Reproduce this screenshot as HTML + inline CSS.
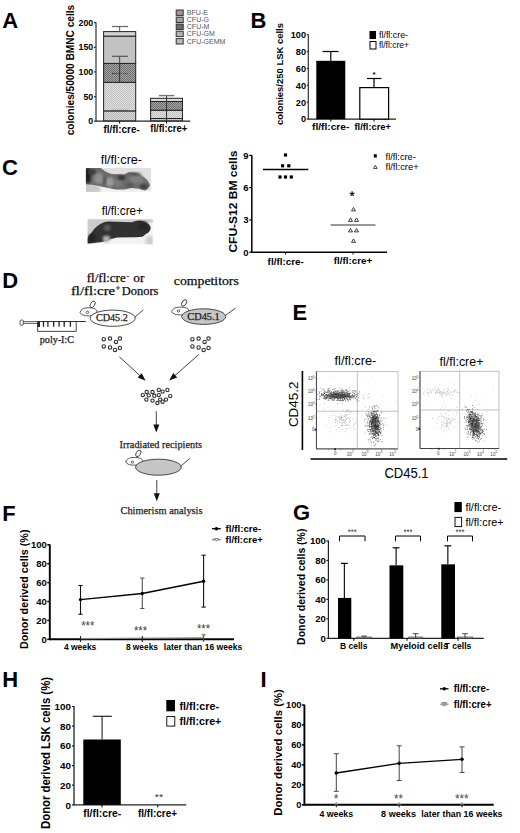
<!DOCTYPE html>
<html><head><meta charset="utf-8"><style>
html,body{margin:0;padding:0;background:#fff;}
body{width:520px;height:833px;overflow:hidden;font-family:"Liberation Sans",sans-serif;}
svg{display:block;}
text[font-family="Liberation Serif"]{stroke:#222;stroke-width:0.25px;}
</style></head><body>
<svg width="520" height="833" viewBox="0 0 520 833">
<rect width="520" height="833" fill="#fff"/>
<text x="2.2" y="27.6" font-family="Liberation Sans" font-size="22" font-weight="bold" text-anchor="start" fill="#000">A</text>
<text x="250.4" y="27.9" font-family="Liberation Sans" font-size="22" font-weight="bold" text-anchor="start" fill="#000">B</text>
<text x="2.0" y="175.0" font-family="Liberation Sans" font-size="22" font-weight="bold" text-anchor="start" fill="#000">C</text>
<text x="2.3" y="287.6" font-family="Liberation Sans" font-size="22" font-weight="bold" text-anchor="start" fill="#000">D</text>
<text x="292.4" y="319.9" font-family="Liberation Sans" font-size="22" font-weight="bold" text-anchor="start" fill="#000">E</text>
<text x="2.3" y="520.5" font-family="Liberation Sans" font-size="22" font-weight="bold" text-anchor="start" fill="#000">F</text>
<text x="293.0" y="520.3" font-family="Liberation Sans" font-size="22" font-weight="bold" text-anchor="start" fill="#000">G</text>
<text x="2.3" y="686.9" font-family="Liberation Sans" font-size="22" font-weight="bold" text-anchor="start" fill="#000">H</text>
<text x="260.6" y="686.9" font-family="Liberation Sans" font-size="22" font-weight="bold" text-anchor="start" fill="#000">I</text>
<text x="74.2" y="70" font-family="Liberation Sans" font-size="10" font-weight="bold" text-anchor="middle" fill="#000" textLength="130.5" lengthAdjust="spacingAndGlyphs" transform="rotate(-90 74.2 70)">colonies/50000 BMNC cells</text>
<line x1="96.0" y1="22.3" x2="96.0" y2="121.8" stroke="#333" stroke-width="1.2"/>
<line x1="96.0" y1="121.2" x2="190.2" y2="121.2" stroke="#222" stroke-width="1.2"/>
<line x1="94.0" y1="121.2" x2="96.0" y2="121.2" stroke="#333" stroke-width="1.2"/>
<text x="93.2" y="124.3" font-family="Liberation Sans" font-size="8.8" font-weight="bold" text-anchor="end" fill="#000">0</text>
<line x1="94.0" y1="96.575" x2="96.0" y2="96.575" stroke="#333" stroke-width="1.2"/>
<text x="93.2" y="99.675" font-family="Liberation Sans" font-size="8.8" font-weight="bold" text-anchor="end" fill="#000">50</text>
<line x1="94.0" y1="71.95" x2="96.0" y2="71.95" stroke="#333" stroke-width="1.2"/>
<text x="93.2" y="75.05" font-family="Liberation Sans" font-size="8.8" font-weight="bold" text-anchor="end" fill="#000">100</text>
<line x1="94.0" y1="47.325" x2="96.0" y2="47.325" stroke="#333" stroke-width="1.2"/>
<text x="93.2" y="50.425000000000004" font-family="Liberation Sans" font-size="8.8" font-weight="bold" text-anchor="end" fill="#000">150</text>
<line x1="94.0" y1="22.700000000000003" x2="96.0" y2="22.700000000000003" stroke="#333" stroke-width="1.2"/>
<text x="93.2" y="25.800000000000004" font-family="Liberation Sans" font-size="8.8" font-weight="bold" text-anchor="end" fill="#000">200</text>
<defs>
<pattern id="dotL" width="2" height="2" patternUnits="userSpaceOnUse"><rect width="2" height="2" fill="#e4e4e4"/><rect width="1" height="1" fill="#bcbcbc"/><rect x="1" y="1" width="1" height="1" fill="#bcbcbc"/></pattern>
<pattern id="dotD" width="2" height="2" patternUnits="userSpaceOnUse"><rect width="2" height="2" fill="#a4a4a4"/><rect width="1" height="1" fill="#6e6e6e"/><rect x="1" y="1" width="1" height="1" fill="#6e6e6e"/></pattern>
<pattern id="dotM" width="2" height="2" patternUnits="userSpaceOnUse"><rect width="2" height="2" fill="#dcdcdc"/><rect width="1" height="1" fill="#b4b4b4"/><rect x="1" y="1" width="1" height="1" fill="#b4b4b4"/></pattern>
<linearGradient id="sp1bg" x1="0" y1="0" x2="1" y2="0"><stop offset="0" stop-color="#cfcfcf"/><stop offset="1" stop-color="#ececec"/></linearGradient>
<linearGradient id="sp2bg" x1="0" y1="0" x2="1" y2="1"><stop offset="0" stop-color="#c4c4c4"/><stop offset="0.6" stop-color="#e4e4e4"/><stop offset="1" stop-color="#f6f6f6"/></linearGradient>
<filter id="bl1" x="-20%" y="-20%" width="140%" height="140%"><feGaussianBlur stdDeviation="0.8"/></filter>
<filter id="bl2" x="-20%" y="-20%" width="140%" height="140%"><feGaussianBlur stdDeviation="1.6"/></filter>
<filter id="bl05"><feGaussianBlur stdDeviation="0.4"/></filter>
</defs>
<rect x="103.6" y="110.9" width="32.1" height="9.899999999999991" fill="url(#dotM)" stroke="#222" stroke-width="1"/>
<rect x="103.6" y="82.3" width="32.1" height="28.60000000000001" fill="url(#dotL)" stroke="#222" stroke-width="1"/>
<rect x="103.6" y="63.4" width="32.1" height="18.9" fill="url(#dotD)" stroke="#222" stroke-width="1"/>
<rect x="103.6" y="36.1" width="32.1" height="27.299999999999997" fill="#c2c2c2" stroke="#222" stroke-width="1"/>
<rect x="103.6" y="31.6" width="32.1" height="4.5" fill="#d2d2d2" stroke="#222" stroke-width="1"/>
<line x1="119.64999999999999" y1="26.5" x2="119.64999999999999" y2="31.6" stroke="#555" stroke-width="1"/>
<line x1="112" y1="26.5" x2="128" y2="26.5" stroke="#666" stroke-width="1.2"/>
<line x1="119.64999999999999" y1="56.3" x2="119.64999999999999" y2="63.4" stroke="#444" stroke-width="1"/>
<line x1="112" y1="56.3" x2="128" y2="56.3" stroke="#555" stroke-width="1.2"/>
<line x1="119.64999999999999" y1="63.4" x2="119.64999999999999" y2="82.3" stroke="#333" stroke-width="1"/>
<line x1="112" y1="73.5" x2="128" y2="73.5" stroke="#333" stroke-width="1.2" stroke-dasharray="1.2 1"/>
<line x1="112" y1="110.4" x2="128" y2="110.4" stroke="#555" stroke-width="1"/>
<rect x="150.6" y="118.5" width="31.9" height="2.299999999999997" fill="url(#dotM)" stroke="#222" stroke-width="1"/>
<rect x="150.6" y="110.2" width="31.9" height="8.299999999999997" fill="url(#dotL)" stroke="#222" stroke-width="1"/>
<rect x="150.6" y="101.5" width="31.9" height="8.700000000000003" fill="url(#dotD)" stroke="#222" stroke-width="1"/>
<rect x="150.6" y="98.3" width="31.9" height="3.200000000000003" fill="#dcdcdc" stroke="#222" stroke-width="1"/>
<line x1="166.54999999999998" y1="95.6" x2="166.54999999999998" y2="121" stroke="#333" stroke-width="1"/>
<line x1="159" y1="95.6" x2="174.4" y2="95.6" stroke="#777" stroke-width="1.4"/>
<line x1="166.54999999999998" y1="121" x2="166.54999999999998" y2="123.5" stroke="#000" stroke-width="1"/>
<line x1="119.64999999999999" y1="121" x2="119.64999999999999" y2="123.5" stroke="#000" stroke-width="1"/>
<text x="103.5" y="132.6" font-family="Liberation Sans" font-size="10.4" font-weight="bold" text-anchor="start" fill="#000" textLength="36.2" lengthAdjust="spacingAndGlyphs">fl/fl:cre-</text>
<text x="150.3" y="132.0" font-family="Liberation Sans" font-size="10.4" font-weight="bold" text-anchor="start" fill="#000" textLength="37.0" lengthAdjust="spacingAndGlyphs">fl/fl:cre+</text>
<rect x="176.2" y="10.0" width="7" height="5.4" fill="#9a9a9a" stroke="#333" stroke-width="1"/>
<text x="186.8" y="15.1" font-family="Liberation Sans" font-size="7" font-weight="normal" text-anchor="start" fill="#555">BFU-E</text>
<rect x="176.2" y="17.099999999999998" width="7" height="5.4" fill="#a4a4a4" stroke="#333" stroke-width="1"/>
<text x="186.8" y="22.2" font-family="Liberation Sans" font-size="7" font-weight="normal" text-anchor="start" fill="#555">CFU-G</text>
<rect x="176.2" y="24.099999999999998" width="7" height="5.4" fill="#6a6a6a" stroke="#333" stroke-width="1"/>
<text x="186.8" y="29.2" font-family="Liberation Sans" font-size="7" font-weight="normal" text-anchor="start" fill="#555">CFU-M</text>
<rect x="176.2" y="31.199999999999996" width="7" height="5.4" fill="#b4b4b4" stroke="#333" stroke-width="1"/>
<text x="186.8" y="36.3" font-family="Liberation Sans" font-size="7" font-weight="normal" text-anchor="start" fill="#555">CFU-GM</text>
<rect x="176.2" y="38.6" width="7" height="5.4" fill="#bcbcbc" stroke="#333" stroke-width="1"/>
<text x="186.8" y="43.7" font-family="Liberation Sans" font-size="7" font-weight="normal" text-anchor="start" fill="#555">CFU-GEMM</text>
<text x="282.7" y="74" font-family="Liberation Sans" font-size="9.8" font-weight="bold" text-anchor="middle" fill="#000" textLength="102" lengthAdjust="spacingAndGlyphs" transform="rotate(-90 282.7 74)">colonies/250 LSK cells</text>
<line x1="308.3" y1="34.4" x2="308.3" y2="119.6" stroke="#222" stroke-width="1.1"/>
<line x1="308.3" y1="119.1" x2="396" y2="119.1" stroke="#222" stroke-width="1.2"/>
<line x1="306.8" y1="119.1" x2="308.3" y2="119.1" stroke="#222" stroke-width="1.1"/>
<text x="306.1" y="122.39999999999999" font-family="Liberation Sans" font-size="9.2" font-weight="bold" text-anchor="end" fill="#000">0</text>
<line x1="306.8" y1="102.19999999999999" x2="308.3" y2="102.19999999999999" stroke="#222" stroke-width="1.1"/>
<text x="306.1" y="105.49999999999999" font-family="Liberation Sans" font-size="9.2" font-weight="bold" text-anchor="end" fill="#000">20</text>
<line x1="306.8" y1="85.3" x2="308.3" y2="85.3" stroke="#222" stroke-width="1.1"/>
<text x="306.1" y="88.6" font-family="Liberation Sans" font-size="9.2" font-weight="bold" text-anchor="end" fill="#000">40</text>
<line x1="306.8" y1="68.4" x2="308.3" y2="68.4" stroke="#222" stroke-width="1.1"/>
<text x="306.1" y="71.7" font-family="Liberation Sans" font-size="9.2" font-weight="bold" text-anchor="end" fill="#000">60</text>
<line x1="306.8" y1="51.5" x2="308.3" y2="51.5" stroke="#222" stroke-width="1.1"/>
<text x="306.1" y="54.8" font-family="Liberation Sans" font-size="9.2" font-weight="bold" text-anchor="end" fill="#000">80</text>
<line x1="306.8" y1="34.599999999999994" x2="308.3" y2="34.599999999999994" stroke="#222" stroke-width="1.1"/>
<text x="306.1" y="37.89999999999999" font-family="Liberation Sans" font-size="9.2" font-weight="bold" text-anchor="end" fill="#000">100</text>
<rect x="316.3" y="60.8" width="29" height="58.3" fill="#000" stroke="none" stroke-width="1"/>
<line x1="330.8" y1="51.5" x2="330.8" y2="60.8" stroke="#000" stroke-width="1.2"/>
<line x1="322.5" y1="51.5" x2="338.5" y2="51.5" stroke="#000" stroke-width="1.2"/>
<rect x="359.8" y="87.6" width="28.8" height="31.5" fill="#fff" stroke="#000" stroke-width="1.2"/>
<line x1="374" y1="78.5" x2="374" y2="87.6" stroke="#000" stroke-width="1.2"/>
<line x1="367" y1="78.5" x2="381.5" y2="78.5" stroke="#000" stroke-width="1.2"/>
<text x="374" y="76.5" font-family="Liberation Sans" font-size="8" font-weight="bold" text-anchor="middle" fill="#000">*</text>
<line x1="330.8" y1="119.1" x2="330.8" y2="121.6" stroke="#000" stroke-width="1"/>
<line x1="374" y1="119.1" x2="374" y2="121.6" stroke="#000" stroke-width="1"/>
<text x="312.0" y="130.2" font-family="Liberation Sans" font-size="9.6" font-weight="bold" text-anchor="start" fill="#000" textLength="37.3" lengthAdjust="spacingAndGlyphs">fl/fl:cre-</text>
<text x="354.5" y="130.2" font-family="Liberation Sans" font-size="9.6" font-weight="bold" text-anchor="start" fill="#000" textLength="36.3" lengthAdjust="spacingAndGlyphs">fl/fl:cre+</text>
<rect x="369.5" y="31" width="6.5" height="8" fill="#000" stroke="none" stroke-width="1"/>
<rect x="370" y="41.5" width="6" height="7.5" fill="#fff" stroke="#000" stroke-width="1"/>
<text x="379" y="38.3" font-family="Liberation Sans" font-size="9.2" font-weight="normal" text-anchor="start" fill="#000" textLength="29" lengthAdjust="spacingAndGlyphs">fl/fl:cre-</text>
<text x="379" y="48.3" font-family="Liberation Sans" font-size="9.2" font-weight="normal" text-anchor="start" fill="#000" textLength="30" lengthAdjust="spacingAndGlyphs">fl/fl:cre+</text>
<text x="121.4" y="164.2" font-family="Liberation Sans" font-size="12.4" font-weight="normal" text-anchor="middle" fill="#000" textLength="41.2" lengthAdjust="spacingAndGlyphs">fl/fl:cre-</text>
<text x="122.3" y="215.4" font-family="Liberation Sans" font-size="12.4" font-weight="normal" text-anchor="middle" fill="#000" textLength="41.3" lengthAdjust="spacingAndGlyphs">fl/fl:cre+</text>
<clipPath id="cl1"><rect x="85.9" y="167.9" width="65.5" height="24.2"/></clipPath><clipPath id="cl2"><rect x="87.6" y="219.2" width="65.2" height="25.4"/></clipPath>
<g clip-path="url(#cl1)">
<rect x="85.9" y="167.9" width="65.5" height="24.2" fill="#e0e0e0" stroke="none" stroke-width="1"/>
<path d="M84,183 Q100,185 112,189 Q130,190 153,189 L153,194 L84,194 Z" fill="#f2f2f2" stroke="none" stroke-width="1" filter="url(#bl1)"/>
<path d="M84,182 Q92,184 100,186.5 L100,193 L84,193 Z" fill="#c8c8c8" stroke="none" stroke-width="1" filter="url(#bl2)"/>
<path d="M85,167 L99,167 Q103,169.5 105,171.2 Q109,173.2 112,174 L124,174.6 Q126,173 128.3,172.3 Q132,172 135.2,172.7 Q139,174 141.4,175.8 Q145,178 146.8,179.6 Q149,182 150,185 Q149.5,187 148.3,187.5 Q147,190 145.2,190.4 Q142,189.8 139,188.8 L131.4,188 Q127,189 123.7,189.6 L116,189.6 L113,188.9 Q109,188 104.8,187.2 L97.8,185.8 Q92,184.5 85,184 Z" fill="#6c6c6c" stroke="none" stroke-width="1" filter="url(#bl05)"/>
<ellipse cx="87.8" cy="175.5" rx="3.2" ry="8" fill="#1e1e1e" stroke="none" stroke-width="1" filter="url(#bl1)"/>
<ellipse cx="92" cy="172" rx="4" ry="3" fill="#3a3a3a" stroke="none" stroke-width="1" filter="url(#bl1)"/>
<ellipse cx="99" cy="178.5" rx="5" ry="5.5" fill="#8e8e8e" stroke="none" stroke-width="1" filter="url(#bl1)"/>
<ellipse cx="110" cy="182" rx="4.2" ry="4.8" fill="#989898" stroke="none" stroke-width="1" filter="url(#bl1)"/>
<ellipse cx="104.5" cy="180" rx="1.2" ry="5" fill="#505050" stroke="none" stroke-width="1" filter="url(#bl1)"/>
<ellipse cx="118" cy="183" rx="3.5" ry="4.5" fill="#7a7a7a" stroke="none" stroke-width="1" filter="url(#bl1)"/>
<ellipse cx="121.5" cy="177.5" rx="4" ry="2.6" fill="#383838" stroke="none" stroke-width="1" filter="url(#bl1)"/>
<ellipse cx="137" cy="179" rx="7" ry="4.5" fill="#808080" stroke="none" stroke-width="1" filter="url(#bl2)"/>
<ellipse cx="135" cy="174" rx="6" ry="1.5" fill="#505050" stroke="none" stroke-width="1" filter="url(#bl1)"/>
<ellipse cx="144" cy="186.5" rx="4" ry="2.5" fill="#404040" stroke="none" stroke-width="1" filter="url(#bl1)"/>
<ellipse cx="130" cy="185" rx="4" ry="2" fill="#555" stroke="none" stroke-width="1" filter="url(#bl1)"/>
</g>
<g clip-path="url(#cl2)">
<rect x="87.6" y="219.2" width="65.2" height="25.4" fill="#f4f4f4" stroke="none" stroke-width="1"/>
<path d="M87,219 L153,219 L153,222.5 L105,222.5 Q95,226 87,238 Z" fill="#cccccc" stroke="none" stroke-width="1" filter="url(#bl05)"/>
<ellipse cx="150" cy="241" rx="5" ry="5" fill="#cfcfcf" stroke="none" stroke-width="1" filter="url(#bl2)"/>
<path d="M87,239 Q89,235 91.9,231.9 Q94,228.5 96.8,226.4 Q99.5,224.2 102.3,222.9 Q105,221.6 107.9,221.5 L132.4,222.2 Q134,221.2 135.5,221 Q138,220.3 140,220.6 Q144,221 146.2,222.5 Q149,224 150.5,226.5 Q151.3,229 149.3,231.4 Q148,233 146.2,233.7 Q144,235.8 142.4,236.8 L136.2,237.2 L117,237.5 L111.3,238.9 Q108,240 102.3,242 L95.4,242.7 L87,243.8 Z" fill="#333333" stroke="none" stroke-width="1" filter="url(#bl05)"/>
<ellipse cx="92" cy="238" rx="4" ry="4" fill="#222" stroke="none" stroke-width="1" filter="url(#bl1)"/>
<ellipse cx="106.5" cy="238.8" rx="3.8" ry="3.4" fill="#b0b0b0" stroke="none" stroke-width="1" filter="url(#bl1)"/>
<ellipse cx="107.2" cy="227.8" rx="3.5" ry="3" fill="#5c5c5c" stroke="none" stroke-width="1" filter="url(#bl1)"/>
<ellipse cx="143" cy="226" rx="5.5" ry="4.5" fill="#262626" stroke="none" stroke-width="1" filter="url(#bl1)"/>
</g>
<text x="237.5" y="201.6" font-family="Liberation Sans" font-size="11.3" font-weight="bold" text-anchor="middle" fill="#000" textLength="102" lengthAdjust="spacingAndGlyphs" transform="rotate(-90 237.5 201.6)">CFU-S12 BM cells</text>
<line x1="251.8" y1="154.9" x2="251.8" y2="252.89999999999998" stroke="#000" stroke-width="1.5"/>
<line x1="251.8" y1="252.2" x2="387" y2="252.2" stroke="#000" stroke-width="1.5"/>
<line x1="249.3" y1="252.2" x2="251.8" y2="252.2" stroke="#000" stroke-width="1.3"/>
<text x="248.6" y="255.6" font-family="Liberation Sans" font-size="9.5" font-weight="bold" text-anchor="end" fill="#000">0</text>
<line x1="249.3" y1="219.93333333333334" x2="251.8" y2="219.93333333333334" stroke="#000" stroke-width="1.3"/>
<text x="248.6" y="223.33333333333334" font-family="Liberation Sans" font-size="9.5" font-weight="bold" text-anchor="end" fill="#000">3</text>
<line x1="249.3" y1="187.66666666666669" x2="251.8" y2="187.66666666666669" stroke="#000" stroke-width="1.3"/>
<text x="248.6" y="191.0666666666667" font-family="Liberation Sans" font-size="9.5" font-weight="bold" text-anchor="end" fill="#000">6</text>
<line x1="249.3" y1="155.4" x2="251.8" y2="155.4" stroke="#000" stroke-width="1.3"/>
<text x="248.6" y="158.8" font-family="Liberation Sans" font-size="9.5" font-weight="bold" text-anchor="end" fill="#000">9</text>
<rect x="283.9" y="153.4" width="3.2" height="3.2" fill="#000" stroke="none" stroke-width="1"/>
<rect x="281.0" y="164.20000000000002" width="3.2" height="3.2" fill="#000" stroke="none" stroke-width="1"/>
<rect x="287.2" y="164.20000000000002" width="3.2" height="3.2" fill="#000" stroke="none" stroke-width="1"/>
<rect x="278.4" y="175.4" width="3.2" height="3.2" fill="#000" stroke="none" stroke-width="1"/>
<rect x="283.9" y="175.4" width="3.2" height="3.2" fill="#000" stroke="none" stroke-width="1"/>
<rect x="289.7" y="175.4" width="3.2" height="3.2" fill="#000" stroke="none" stroke-width="1"/>
<line x1="263" y1="169.5" x2="308.3" y2="169.5" stroke="#000" stroke-width="1.3"/>
<line x1="330.5" y1="225" x2="375.5" y2="225" stroke="#777" stroke-width="1.3"/>
<path d="M353.5,207.412 L355.5,210.892 L351.5,210.892 Z" fill="none" stroke="#333" stroke-width="0.95"/>
<path d="M350.5,217.912 L352.5,221.392 L348.5,221.392 Z" fill="none" stroke="#333" stroke-width="0.95"/>
<path d="M356.5,217.912 L358.5,221.392 L354.5,221.392 Z" fill="none" stroke="#333" stroke-width="0.95"/>
<path d="M350.5,228.412 L352.5,231.892 L348.5,231.892 Z" fill="none" stroke="#333" stroke-width="0.95"/>
<path d="M356.5,228.412 L358.5,231.892 L354.5,231.892 Z" fill="none" stroke="#333" stroke-width="0.95"/>
<path d="M353.5,238.912 L355.5,242.392 L351.5,242.392 Z" fill="none" stroke="#333" stroke-width="0.95"/>
<path d="M352.1,193.8 L352.10,191.20 M352.1,193.8 L354.57,193.00 M352.1,193.8 L353.63,195.90 M352.1,193.8 L350.57,195.90 M352.1,193.8 L349.63,193.00 " fill="none" stroke="#111" stroke-width="1.2"/>
<line x1="285.6" y1="252.2" x2="285.6" y2="254.5" stroke="#000" stroke-width="1"/>
<line x1="353" y1="252.2" x2="353" y2="254.5" stroke="#000" stroke-width="1"/>
<text x="267.6" y="264.6" font-family="Liberation Sans" font-size="9.5" font-weight="bold" text-anchor="start" fill="#000" textLength="36.3" lengthAdjust="spacingAndGlyphs">fl/fl:cre-</text>
<text x="333.8" y="264.4" font-family="Liberation Sans" font-size="9.5" font-weight="bold" text-anchor="start" fill="#000" textLength="38.5" lengthAdjust="spacingAndGlyphs">fl/fl:cre+</text>
<rect x="373.8" y="154.3" width="3" height="3.2" fill="#000" stroke="none" stroke-width="1"/>
<path d="M375.3,165.3208 L377.1,168.4528 L373.5,168.4528 Z" fill="none" stroke="#333" stroke-width="0.9"/>
<text x="385.6" y="159.8" font-family="Liberation Sans" font-size="9.8" font-weight="normal" text-anchor="start" fill="#000" textLength="30.2" lengthAdjust="spacingAndGlyphs">fl/fl:cre-</text>
<text x="385.6" y="169.9" font-family="Liberation Sans" font-size="9.8" font-weight="normal" text-anchor="start" fill="#000" textLength="33.0" lengthAdjust="spacingAndGlyphs">fl/fl:cre+</text>
<text x="86.8" y="281.5" font-family="Liberation Serif" font-size="12" font-weight="normal" text-anchor="start" fill="#000" textLength="38.9" lengthAdjust="spacingAndGlyphs">fl/fl:cre</text>
<line x1="126.6" y1="276.6" x2="129.3" y2="276.6" stroke="#222" stroke-width="0.8"/>
<text x="133.3" y="281.5" font-family="Liberation Serif" font-size="12" font-weight="normal" text-anchor="start" fill="#000" textLength="11.1" lengthAdjust="spacingAndGlyphs">or</text>
<text x="70.9" y="294.9" font-family="Liberation Serif" font-size="12" font-weight="normal" text-anchor="start" fill="#000" textLength="44.2" lengthAdjust="spacingAndGlyphs">fl/fl:cre</text>
<line x1="115.9" y1="287.9" x2="120.1" y2="287.9" stroke="#222" stroke-width="0.8"/>
<line x1="118" y1="285.8" x2="118" y2="290" stroke="#222" stroke-width="0.8"/>
<text x="121.7" y="294.9" font-family="Liberation Serif" font-size="12" font-weight="normal" text-anchor="start" fill="#000" textLength="36.7" lengthAdjust="spacingAndGlyphs">Donors</text>
<text x="173.8" y="284.6" font-family="Liberation Serif" font-size="13" font-weight="normal" text-anchor="start" fill="#000" textLength="65" lengthAdjust="spacingAndGlyphs">competitors</text>
<ellipse cx="92.6" cy="304.4" rx="2.1" ry="3.6" transform="rotate(32 92.6 304.4)" fill="#fff" stroke="#333" stroke-width="0.85"/>
<path d="M80.0,312.40000000000003 Q81.0,307.7 88.5,307.7 Q97.0,307.7 97.0,311.8 Q97.0,315.90000000000003 88.5,315.90000000000003 Q81.5,315.90000000000003 80.0,312.40000000000003 Z" fill="#fff" stroke="#333" stroke-width="0.8"/>
<circle cx="87.4" cy="312.4" r="1.2" fill="none" stroke="#333" stroke-width="0.75"/>
<ellipse cx="112.7" cy="318.2" rx="22.5" ry="8.1" fill="#fff" stroke="#333" stroke-width="0.9"/>
<line x1="135.2" y1="316.8" x2="143.3" y2="309.8" stroke="#333" stroke-width="0.9"/>
<text x="95.9" y="320.9" font-family="Liberation Serif" font-size="9.3" font-weight="normal" text-anchor="start" fill="#222" textLength="31.9" lengthAdjust="spacingAndGlyphs">CD45.2</text>
<ellipse cx="184.1" cy="302.9" rx="2.1" ry="3.6" transform="rotate(32 184.1 302.9)" fill="#fff" stroke="#333" stroke-width="0.85"/>
<path d="M171.7,311.6 Q172.7,307.1 180.2,307.1 Q188.7,307.1 188.7,311.0 Q188.7,314.9 180.2,314.9 Q173.2,314.9 171.7,311.6 Z" fill="#fff" stroke="#333" stroke-width="0.8"/>
<circle cx="178.5" cy="310.9" r="1.2" fill="none" stroke="#333" stroke-width="0.75"/>
<ellipse cx="203.7" cy="316.6" rx="22.0" ry="7.8" fill="#c6c6c6" stroke="#333" stroke-width="0.9"/>
<line x1="225.7" y1="315.2" x2="235.7" y2="308.1" stroke="#333" stroke-width="0.9"/>
<text x="187.3" y="319.5" font-family="Liberation Serif" font-size="9.3" font-weight="normal" text-anchor="start" fill="#222" textLength="32.5" lengthAdjust="spacingAndGlyphs">CD45.1</text>
<ellipse cx="138.3" cy="453.4" rx="2.1" ry="3.6" transform="rotate(32 138.3 453.4)" fill="#fff" stroke="#333" stroke-width="0.85"/>
<path d="M125.69999999999999,461.90000000000003 Q126.69999999999999,457.40000000000003 134.2,457.40000000000003 Q142.7,457.40000000000003 142.7,461.3 Q142.7,465.2 134.2,465.2 Q127.19999999999999,465.2 125.69999999999999,461.90000000000003 Z" fill="#fff" stroke="#333" stroke-width="0.8"/>
<circle cx="132.5" cy="462.1" r="1.2" fill="none" stroke="#333" stroke-width="0.75"/>
<ellipse cx="158.4" cy="467.2" rx="22.8" ry="8.0" fill="#c6c6c6" stroke="#333" stroke-width="0.9"/>
<line x1="180.5" y1="466.3" x2="189.7" y2="458.5" stroke="#333" stroke-width="0.9"/>
<rect x="20.1" y="320" width="3.2" height="5.2" fill="#fff" stroke="#333" stroke-width="0.8" rx="1"/>
<line x1="23.3" y1="321.6" x2="37.9" y2="321.6" stroke="#333" stroke-width="0.8"/>
<line x1="23.3" y1="323.4" x2="37.9" y2="323.4" stroke="#333" stroke-width="0.8"/>
<line x1="37.6" y1="321.5" x2="85.9" y2="321.5" stroke="#333" stroke-width="1.0"/>
<path d="M37.6,321.5 L37.6,331.4 L76.2,331.4 L76.2,321.5" fill="none" stroke="#333" stroke-width="0.9"/>
<rect x="37.6" y="321.5" width="2.4" height="5.5" fill="#222" stroke="none" stroke-width="1"/>
<line x1="43.5" y1="321.5" x2="43.5" y2="326.8" stroke="#222" stroke-width="1.3"/>
<line x1="47.9" y1="321.5" x2="47.9" y2="326.8" stroke="#222" stroke-width="1.3"/>
<line x1="53.7" y1="321.5" x2="53.7" y2="326.8" stroke="#222" stroke-width="1.3"/>
<line x1="59.1" y1="321.5" x2="59.1" y2="326.8" stroke="#222" stroke-width="1.3"/>
<line x1="64.2" y1="321.5" x2="64.2" y2="326.8" stroke="#222" stroke-width="1.3"/>
<line x1="70.4" y1="321.5" x2="70.4" y2="326.8" stroke="#222" stroke-width="1.3"/>
<text x="39.8" y="343.3" font-family="Liberation Serif" font-size="9.8" font-weight="normal" text-anchor="start" fill="#222" textLength="34.2" lengthAdjust="spacingAndGlyphs">poly-I:C</text>
<circle cx="103.8" cy="339.2" r="1.7" fill="none" stroke="#333" stroke-width="1.1"/>
<circle cx="110" cy="338.6" r="1.7" fill="none" stroke="#333" stroke-width="1.1"/>
<circle cx="116" cy="341.9" r="1.7" fill="none" stroke="#333" stroke-width="1.1"/>
<circle cx="119.9" cy="338.6" r="1.7" fill="none" stroke="#333" stroke-width="1.1"/>
<circle cx="103.8" cy="346.4" r="1.7" fill="none" stroke="#333" stroke-width="1.1"/>
<circle cx="110" cy="347.5" r="1.7" fill="none" stroke="#333" stroke-width="1.1"/>
<circle cx="115" cy="349.9" r="1.7" fill="none" stroke="#333" stroke-width="1.1"/>
<circle cx="119.9" cy="348" r="1.7" fill="none" stroke="#333" stroke-width="1.1"/>
<circle cx="192.39999999999998" cy="339.2" r="1.7" fill="none" stroke="#333" stroke-width="1.1"/>
<circle cx="198.6" cy="338.6" r="1.7" fill="none" stroke="#333" stroke-width="1.1"/>
<circle cx="204.6" cy="341.9" r="1.7" fill="none" stroke="#333" stroke-width="1.1"/>
<circle cx="208.5" cy="338.6" r="1.7" fill="none" stroke="#333" stroke-width="1.1"/>
<circle cx="192.39999999999998" cy="346.4" r="1.7" fill="none" stroke="#333" stroke-width="1.1"/>
<circle cx="198.6" cy="347.5" r="1.7" fill="none" stroke="#333" stroke-width="1.1"/>
<circle cx="203.6" cy="349.9" r="1.7" fill="none" stroke="#333" stroke-width="1.1"/>
<circle cx="208.5" cy="348" r="1.7" fill="none" stroke="#333" stroke-width="1.1"/>
<circle cx="142.8" cy="395.1" r="1.65" fill="none" stroke="#333" stroke-width="1.1"/>
<circle cx="146.7" cy="392" r="1.65" fill="none" stroke="#333" stroke-width="1.1"/>
<circle cx="148.7" cy="395.4" r="1.65" fill="none" stroke="#333" stroke-width="1.1"/>
<circle cx="146.3" cy="399.6" r="1.65" fill="none" stroke="#333" stroke-width="1.1"/>
<circle cx="152.5" cy="392" r="1.65" fill="none" stroke="#333" stroke-width="1.1"/>
<circle cx="154.3" cy="395.8" r="1.65" fill="none" stroke="#333" stroke-width="1.1"/>
<circle cx="152.5" cy="400.6" r="1.65" fill="none" stroke="#333" stroke-width="1.1"/>
<circle cx="158.8" cy="389.9" r="1.65" fill="none" stroke="#333" stroke-width="1.1"/>
<circle cx="158.8" cy="395.1" r="1.65" fill="none" stroke="#333" stroke-width="1.1"/>
<circle cx="162.6" cy="391.6" r="1.65" fill="none" stroke="#333" stroke-width="1.1"/>
<circle cx="167.4" cy="389.9" r="1.65" fill="none" stroke="#333" stroke-width="1.1"/>
<circle cx="170.2" cy="396.1" r="1.65" fill="none" stroke="#333" stroke-width="1.1"/>
<circle cx="160.2" cy="399.6" r="1.65" fill="none" stroke="#333" stroke-width="1.1"/>
<circle cx="162.6" cy="401.7" r="1.65" fill="none" stroke="#333" stroke-width="1.1"/>
<circle cx="166" cy="399.6" r="1.65" fill="none" stroke="#333" stroke-width="1.1"/>
<circle cx="157.4" cy="403" r="1.65" fill="none" stroke="#333" stroke-width="1.1"/>
<line x1="119.4" y1="356.8" x2="140.43828575580537" y2="376.07171214272245" stroke="#444" stroke-width="1.0"/>
<path d="M145.6,380.8 L137.67448892494434,377.6084056963376 L141.72730708832506,373.1840792013137 Z" fill="#111" stroke="none" stroke-width="1"/>
<line x1="198.8" y1="354.5" x2="174.450417621245" y2="375.97040878667246" stroke="#444" stroke-width="1.0"/>
<path d="M169.2,380.6 L173.21636676142535,373.0588596328064 L177.1845878014204,377.55921759387354 Z" fill="#111" stroke="none" stroke-width="1"/>
<line x1="156.3" y1="411.3" x2="156.3" y2="425.5" stroke="#444" stroke-width="1.0"/>
<path d="M156.3,432.5 L153.3,424.5 L159.3,424.5 Z" fill="#111" stroke="none" stroke-width="1"/>
<line x1="156.8" y1="480" x2="156.8" y2="494.3" stroke="#444" stroke-width="1.0"/>
<path d="M156.8,501.3 L153.8,493.3 L159.8,493.3 Z" fill="#111" stroke="none" stroke-width="1"/>
<text x="160.8" y="447.5" font-family="Liberation Serif" font-size="11" font-weight="normal" text-anchor="middle" fill="#222" textLength="82.5" lengthAdjust="spacingAndGlyphs">Irradiated recipients</text>
<text x="161.5" y="514.3" font-family="Liberation Serif" font-size="11" font-weight="normal" text-anchor="middle" fill="#222" textLength="82" lengthAdjust="spacingAndGlyphs">Chimerism analysis</text>
<text x="355.4" y="364.5" font-family="Liberation Sans" font-size="12.2" font-weight="normal" text-anchor="middle" fill="#000" textLength="41.7" lengthAdjust="spacingAndGlyphs">fl/fl:cre-</text>
<text x="461.5" y="365.6" font-family="Liberation Sans" font-size="12.2" font-weight="normal" text-anchor="middle" fill="#000" textLength="43.9" lengthAdjust="spacingAndGlyphs">fl/fl:cre+</text>
<line x1="302.4" y1="371" x2="302.4" y2="450" stroke="#000" stroke-width="1.6"/>
<text x="298.4" y="404.3" font-family="Liberation Sans" font-size="13.6" font-weight="normal" text-anchor="middle" fill="#000" textLength="45.6" lengthAdjust="spacingAndGlyphs" transform="rotate(-90 298.4 404.3)">CD45.2</text>
<line x1="310.5" y1="459" x2="507.3" y2="459" stroke="#000" stroke-width="1.6"/>
<text x="384.4" y="477.8" font-family="Liberation Sans" font-size="14" font-weight="normal" text-anchor="start" fill="#000" textLength="44.2" lengthAdjust="spacingAndGlyphs">CD45.1</text>
<rect x="316.4" y="371.6" width="81.60000000000002" height="77.29999999999995" fill="#fff" stroke="#999" stroke-width="0.6"/>
<line x1="316.4" y1="371.6" x2="316.4" y2="448.9" stroke="#333" stroke-width="0.9"/>
<line x1="316.4" y1="448.9" x2="398" y2="448.9" stroke="#333" stroke-width="0.9"/>
<line x1="357.3" y1="371.6" x2="357.3" y2="448.9" stroke="#999" stroke-width="0.6"/>
<line x1="316.4" y1="411.2" x2="398" y2="411.2" stroke="#999" stroke-width="0.6"/>
<path d="M336.1,396.3h0.7v0.7h-0.7zM336.3,394.7h0.7v0.7h-0.7zM331.0,394.9h0.7v0.7h-0.7zM346.3,396.1h0.7v0.7h-0.7zM345.8,395.8h0.7v0.7h-0.7zM341.0,395.7h0.7v0.7h-0.7zM325.5,397.0h0.7v0.7h-0.7zM341.8,396.3h0.7v0.7h-0.7zM325.3,391.8h0.7v0.7h-0.7zM331.3,394.4h0.7v0.7h-0.7zM340.3,395.2h0.7v0.7h-0.7zM341.9,394.0h0.7v0.7h-0.7zM340.3,396.1h0.7v0.7h-0.7zM333.0,398.7h0.7v0.7h-0.7zM342.2,397.7h0.7v0.7h-0.7zM333.3,393.8h0.7v0.7h-0.7zM335.4,395.1h0.7v0.7h-0.7zM342.7,395.8h0.7v0.7h-0.7zM334.6,393.4h0.7v0.7h-0.7zM334.1,397.7h0.7v0.7h-0.7zM331.9,395.8h0.7v0.7h-0.7zM341.2,392.3h0.7v0.7h-0.7zM338.4,397.9h0.7v0.7h-0.7zM322.9,394.7h0.7v0.7h-0.7zM337.2,393.7h0.7v0.7h-0.7zM341.7,395.2h0.7v0.7h-0.7zM327.0,397.0h0.7v0.7h-0.7zM343.0,397.2h0.7v0.7h-0.7zM348.8,396.0h0.7v0.7h-0.7zM338.9,392.7h0.7v0.7h-0.7zM342.6,394.1h0.7v0.7h-0.7zM334.6,392.8h0.7v0.7h-0.7zM330.7,394.2h0.7v0.7h-0.7zM347.7,391.2h0.7v0.7h-0.7zM327.1,395.8h0.7v0.7h-0.7zM348.8,396.5h0.7v0.7h-0.7zM323.8,390.3h0.7v0.7h-0.7zM340.7,393.8h0.7v0.7h-0.7zM329.6,397.3h0.7v0.7h-0.7zM346.3,395.6h0.7v0.7h-0.7zM339.8,396.2h0.7v0.7h-0.7zM350.0,396.5h0.7v0.7h-0.7zM341.9,396.4h0.7v0.7h-0.7zM326.2,397.9h0.7v0.7h-0.7zM345.2,396.4h0.7v0.7h-0.7zM323.2,394.0h0.7v0.7h-0.7zM344.3,391.7h0.7v0.7h-0.7zM336.6,397.3h0.7v0.7h-0.7zM328.2,398.5h0.7v0.7h-0.7zM342.1,395.0h0.7v0.7h-0.7zM340.4,396.6h0.7v0.7h-0.7zM338.9,397.6h0.7v0.7h-0.7zM333.0,394.5h0.7v0.7h-0.7zM345.8,395.4h0.7v0.7h-0.7zM331.4,397.2h0.7v0.7h-0.7zM349.0,394.4h0.7v0.7h-0.7zM327.7,395.0h0.7v0.7h-0.7zM336.9,394.7h0.7v0.7h-0.7zM348.5,393.2h0.7v0.7h-0.7zM347.5,392.8h0.7v0.7h-0.7zM332.1,396.6h0.7v0.7h-0.7zM346.5,397.0h0.7v0.7h-0.7zM340.6,395.6h0.7v0.7h-0.7zM339.1,396.5h0.7v0.7h-0.7zM336.7,395.9h0.7v0.7h-0.7zM342.3,395.3h0.7v0.7h-0.7zM343.7,396.4h0.7v0.7h-0.7zM353.1,395.9h0.7v0.7h-0.7zM334.8,394.6h0.7v0.7h-0.7zM337.9,397.1h0.7v0.7h-0.7zM335.5,396.1h0.7v0.7h-0.7zM351.8,390.2h0.7v0.7h-0.7zM329.6,395.8h0.7v0.7h-0.7zM341.0,395.8h0.7v0.7h-0.7zM334.8,396.6h0.7v0.7h-0.7zM340.1,394.3h0.7v0.7h-0.7zM356.2,396.0h0.7v0.7h-0.7zM333.8,395.1h0.7v0.7h-0.7zM336.3,395.2h0.7v0.7h-0.7zM317.5,394.3h0.7v0.7h-0.7zM345.6,393.0h0.7v0.7h-0.7zM337.5,397.2h0.7v0.7h-0.7zM344.4,398.3h0.7v0.7h-0.7zM325.2,394.6h0.7v0.7h-0.7zM335.4,396.5h0.7v0.7h-0.7zM346.2,389.9h0.7v0.7h-0.7zM346.2,392.4h0.7v0.7h-0.7zM343.1,392.3h0.7v0.7h-0.7zM339.3,397.7h0.7v0.7h-0.7zM336.9,395.7h0.7v0.7h-0.7zM344.0,395.6h0.7v0.7h-0.7zM337.3,398.4h0.7v0.7h-0.7zM345.9,394.7h0.7v0.7h-0.7zM358.6,393.0h0.7v0.7h-0.7zM344.9,394.8h0.7v0.7h-0.7zM339.0,396.7h0.7v0.7h-0.7zM339.7,396.6h0.7v0.7h-0.7zM326.5,392.3h0.7v0.7h-0.7zM342.6,393.4h0.7v0.7h-0.7zM330.3,392.4h0.7v0.7h-0.7zM347.5,396.8h0.7v0.7h-0.7zM349.0,393.4h0.7v0.7h-0.7zM338.0,393.0h0.7v0.7h-0.7zM343.7,398.5h0.7v0.7h-0.7zM331.3,398.4h0.7v0.7h-0.7zM345.4,394.9h0.7v0.7h-0.7zM323.2,398.1h0.7v0.7h-0.7zM337.3,394.1h0.7v0.7h-0.7zM341.0,396.1h0.7v0.7h-0.7zM349.2,393.3h0.7v0.7h-0.7zM346.5,398.3h0.7v0.7h-0.7zM348.9,394.9h0.7v0.7h-0.7zM332.4,397.3h0.7v0.7h-0.7zM338.9,395.5h0.7v0.7h-0.7zM348.7,394.8h0.7v0.7h-0.7zM320.8,394.5h0.7v0.7h-0.7zM324.1,396.9h0.7v0.7h-0.7zM340.4,394.1h0.7v0.7h-0.7zM337.9,397.0h0.7v0.7h-0.7zM338.6,398.0h0.7v0.7h-0.7zM337.5,397.4h0.7v0.7h-0.7zM349.2,398.5h0.7v0.7h-0.7zM333.0,397.1h0.7v0.7h-0.7zM323.9,393.1h0.7v0.7h-0.7zM323.3,397.4h0.7v0.7h-0.7zM328.8,395.3h0.7v0.7h-0.7zM336.6,395.2h0.7v0.7h-0.7zM333.6,395.8h0.7v0.7h-0.7zM351.4,395.4h0.7v0.7h-0.7zM342.0,397.3h0.7v0.7h-0.7zM336.5,392.8h0.7v0.7h-0.7zM333.8,397.4h0.7v0.7h-0.7zM325.7,394.1h0.7v0.7h-0.7zM345.6,396.9h0.7v0.7h-0.7zM338.1,396.9h0.7v0.7h-0.7zM339.2,392.9h0.7v0.7h-0.7zM326.3,394.0h0.7v0.7h-0.7zM344.9,394.2h0.7v0.7h-0.7zM331.2,393.8h0.7v0.7h-0.7zM326.5,395.1h0.7v0.7h-0.7zM329.2,396.0h0.7v0.7h-0.7zM320.3,396.0h0.7v0.7h-0.7zM333.2,391.4h0.7v0.7h-0.7zM343.4,394.7h0.7v0.7h-0.7zM321.3,393.5h0.7v0.7h-0.7zM340.2,394.4h0.7v0.7h-0.7zM343.8,396.8h0.7v0.7h-0.7zM343.0,396.0h0.7v0.7h-0.7zM348.0,396.6h0.7v0.7h-0.7zM341.4,391.1h0.7v0.7h-0.7zM344.7,397.9h0.7v0.7h-0.7zM335.8,394.4h0.7v0.7h-0.7zM352.6,391.8h0.7v0.7h-0.7zM341.5,400.1h0.7v0.7h-0.7zM331.0,396.7h0.7v0.7h-0.7zM352.1,395.1h0.7v0.7h-0.7zM342.2,397.1h0.7v0.7h-0.7zM331.2,395.1h0.7v0.7h-0.7zM340.2,397.0h0.7v0.7h-0.7zM337.7,394.9h0.7v0.7h-0.7zM330.4,394.6h0.7v0.7h-0.7zM344.7,395.5h0.7v0.7h-0.7zM331.6,393.6h0.7v0.7h-0.7zM358.0,397.6h0.7v0.7h-0.7zM342.8,390.1h0.7v0.7h-0.7zM342.7,396.3h0.7v0.7h-0.7zM350.6,396.2h0.7v0.7h-0.7zM337.5,396.3h0.7v0.7h-0.7zM323.4,397.4h0.7v0.7h-0.7zM340.4,393.9h0.7v0.7h-0.7zM347.9,398.9h0.7v0.7h-0.7zM327.5,394.0h0.7v0.7h-0.7zM340.2,395.7h0.7v0.7h-0.7zM335.0,393.4h0.7v0.7h-0.7zM353.9,397.4h0.7v0.7h-0.7zM329.0,392.6h0.7v0.7h-0.7zM350.8,397.3h0.7v0.7h-0.7zM351.7,396.9h0.7v0.7h-0.7zM331.5,395.8h0.7v0.7h-0.7zM321.8,393.8h0.7v0.7h-0.7zM337.6,396.3h0.7v0.7h-0.7zM332.5,395.1h0.7v0.7h-0.7zM341.4,396.1h0.7v0.7h-0.7zM342.8,395.7h0.7v0.7h-0.7zM335.6,396.9h0.7v0.7h-0.7zM338.4,393.6h0.7v0.7h-0.7zM333.3,395.3h0.7v0.7h-0.7zM337.2,395.6h0.7v0.7h-0.7zM338.0,395.7h0.7v0.7h-0.7zM337.0,392.8h0.7v0.7h-0.7zM341.2,397.4h0.7v0.7h-0.7zM341.3,394.9h0.7v0.7h-0.7zM341.3,393.4h0.7v0.7h-0.7zM323.8,395.4h0.7v0.7h-0.7zM331.0,396.8h0.7v0.7h-0.7zM329.9,390.0h0.7v0.7h-0.7zM330.2,398.5h0.7v0.7h-0.7zM335.1,392.6h0.7v0.7h-0.7zM332.3,396.3h0.7v0.7h-0.7zM341.7,395.7h0.7v0.7h-0.7zM349.1,396.7h0.7v0.7h-0.7zM337.8,396.5h0.7v0.7h-0.7zM350.4,397.2h0.7v0.7h-0.7zM345.7,393.1h0.7v0.7h-0.7zM336.9,396.8h0.7v0.7h-0.7zM335.8,397.4h0.7v0.7h-0.7zM342.5,397.1h0.7v0.7h-0.7zM336.4,400.4h0.7v0.7h-0.7zM347.3,394.9h0.7v0.7h-0.7zM338.7,400.5h0.7v0.7h-0.7zM335.4,397.0h0.7v0.7h-0.7zM345.4,395.3h0.7v0.7h-0.7zM329.2,395.7h0.7v0.7h-0.7zM340.7,397.6h0.7v0.7h-0.7zM343.9,395.3h0.7v0.7h-0.7zM344.4,396.4h0.7v0.7h-0.7zM339.5,395.4h0.7v0.7h-0.7zM336.2,396.7h0.7v0.7h-0.7zM330.1,394.0h0.7v0.7h-0.7zM338.0,392.4h0.7v0.7h-0.7zM334.7,391.3h0.7v0.7h-0.7zM332.9,396.4h0.7v0.7h-0.7zM342.2,395.2h0.7v0.7h-0.7zM336.3,392.5h0.7v0.7h-0.7zM351.7,396.3h0.7v0.7h-0.7zM346.2,393.5h0.7v0.7h-0.7zM336.6,391.7h0.7v0.7h-0.7zM343.9,397.2h0.7v0.7h-0.7zM323.8,395.2h0.7v0.7h-0.7zM342.7,391.8h0.7v0.7h-0.7zM324.3,393.2h0.7v0.7h-0.7zM333.3,392.5h0.7v0.7h-0.7zM338.2,395.8h0.7v0.7h-0.7zM342.8,396.7h0.7v0.7h-0.7zM349.3,397.6h0.7v0.7h-0.7zM328.2,394.3h0.7v0.7h-0.7zM330.0,393.1h0.7v0.7h-0.7zM337.4,395.3h0.7v0.7h-0.7zM341.7,392.1h0.7v0.7h-0.7zM328.7,395.3h0.7v0.7h-0.7zM336.5,394.7h0.7v0.7h-0.7zM337.5,393.8h0.7v0.7h-0.7zM343.3,396.0h0.7v0.7h-0.7zM337.3,394.0h0.7v0.7h-0.7zM336.7,389.9h0.7v0.7h-0.7zM330.6,395.4h0.7v0.7h-0.7zM326.7,395.7h0.7v0.7h-0.7zM339.1,392.5h0.7v0.7h-0.7zM336.1,394.7h0.7v0.7h-0.7zM341.4,396.5h0.7v0.7h-0.7zM337.7,393.6h0.7v0.7h-0.7zM336.9,395.2h0.7v0.7h-0.7zM343.5,395.9h0.7v0.7h-0.7zM332.6,392.6h0.7v0.7h-0.7zM335.2,393.8h0.7v0.7h-0.7zM329.7,395.1h0.7v0.7h-0.7zM334.3,395.5h0.7v0.7h-0.7zM341.9,394.5h0.7v0.7h-0.7zM355.4,394.7h0.7v0.7h-0.7zM346.3,395.5h0.7v0.7h-0.7zM346.4,390.5h0.7v0.7h-0.7zM332.4,395.8h0.7v0.7h-0.7zM342.5,400.0h0.7v0.7h-0.7zM340.4,397.9h0.7v0.7h-0.7zM343.7,397.2h0.7v0.7h-0.7zM341.8,395.0h0.7v0.7h-0.7zM341.8,393.1h0.7v0.7h-0.7zM346.9,393.3h0.7v0.7h-0.7zM339.9,399.5h0.7v0.7h-0.7zM336.3,395.3h0.7v0.7h-0.7zM346.7,395.4h0.7v0.7h-0.7zM331.9,395.8h0.7v0.7h-0.7zM342.4,396.7h0.7v0.7h-0.7zM332.2,398.8h0.7v0.7h-0.7zM350.5,395.3h0.7v0.7h-0.7zM340.0,394.4h0.7v0.7h-0.7zM348.6,393.9h0.7v0.7h-0.7zM343.1,394.3h0.7v0.7h-0.7zM332.8,396.7h0.7v0.7h-0.7zM348.0,395.3h0.7v0.7h-0.7zM332.9,396.9h0.7v0.7h-0.7zM337.6,395.9h0.7v0.7h-0.7zM349.4,397.6h0.7v0.7h-0.7zM334.1,399.9h0.7v0.7h-0.7zM338.0,396.9h0.7v0.7h-0.7zM333.1,395.2h0.7v0.7h-0.7zM324.9,398.9h0.7v0.7h-0.7zM348.2,392.9h0.7v0.7h-0.7zM326.7,392.1h0.7v0.7h-0.7zM346.8,394.4h0.7v0.7h-0.7zM337.5,394.7h0.7v0.7h-0.7zM337.1,393.1h0.7v0.7h-0.7zM338.2,392.4h0.7v0.7h-0.7zM337.5,395.9h0.7v0.7h-0.7zM341.5,394.8h0.7v0.7h-0.7zM331.2,395.6h0.7v0.7h-0.7zM334.4,398.4h0.7v0.7h-0.7zM343.8,395.1h0.7v0.7h-0.7zM334.5,393.9h0.7v0.7h-0.7zM331.0,394.6h0.7v0.7h-0.7zM340.2,396.3h0.7v0.7h-0.7zM342.3,399.5h0.7v0.7h-0.7zM332.7,395.3h0.7v0.7h-0.7zM359.0,391.6h0.7v0.7h-0.7zM334.1,395.6h0.7v0.7h-0.7zM339.2,396.1h0.7v0.7h-0.7zM336.2,396.0h0.7v0.7h-0.7zM338.4,396.8h0.7v0.7h-0.7zM323.8,393.5h0.7v0.7h-0.7zM338.0,393.2h0.7v0.7h-0.7zM330.2,396.6h0.7v0.7h-0.7zM333.1,396.6h0.7v0.7h-0.7zM343.6,395.9h0.7v0.7h-0.7zM341.8,395.1h0.7v0.7h-0.7zM327.4,395.2h0.7v0.7h-0.7zM341.4,394.2h0.7v0.7h-0.7zM337.3,396.8h0.7v0.7h-0.7zM331.4,396.6h0.7v0.7h-0.7zM352.0,394.2h0.7v0.7h-0.7zM339.1,395.0h0.7v0.7h-0.7zM349.6,395.9h0.7v0.7h-0.7zM344.7,393.9h0.7v0.7h-0.7zM337.9,395.3h0.7v0.7h-0.7zM324.7,398.2h0.7v0.7h-0.7zM344.7,391.8h0.7v0.7h-0.7zM343.6,395.0h0.7v0.7h-0.7zM341.4,396.0h0.7v0.7h-0.7zM326.8,394.9h0.7v0.7h-0.7zM349.2,394.2h0.7v0.7h-0.7zM330.3,392.6h0.7v0.7h-0.7zM328.8,396.0h0.7v0.7h-0.7zM350.7,396.2h0.7v0.7h-0.7zM339.8,399.8h0.7v0.7h-0.7zM334.1,394.0h0.7v0.7h-0.7zM342.0,396.4h0.7v0.7h-0.7zM330.4,393.0h0.7v0.7h-0.7zM340.2,395.8h0.7v0.7h-0.7zM328.2,394.9h0.7v0.7h-0.7zM333.9,396.2h0.7v0.7h-0.7zM337.1,395.1h0.7v0.7h-0.7zM335.3,397.4h0.7v0.7h-0.7zM348.4,394.6h0.7v0.7h-0.7zM344.3,393.8h0.7v0.7h-0.7zM338.5,396.8h0.7v0.7h-0.7zM349.4,394.5h0.7v0.7h-0.7zM337.4,395.7h0.7v0.7h-0.7zM326.8,395.3h0.7v0.7h-0.7zM332.9,396.0h0.7v0.7h-0.7zM329.5,391.3h0.7v0.7h-0.7zM338.3,395.8h0.7v0.7h-0.7zM333.9,397.1h0.7v0.7h-0.7zM336.0,394.1h0.7v0.7h-0.7zM341.6,392.2h0.7v0.7h-0.7zM332.9,395.3h0.7v0.7h-0.7zM344.4,395.0h0.7v0.7h-0.7zM340.3,394.0h0.7v0.7h-0.7zM340.3,398.6h0.7v0.7h-0.7zM332.9,400.0h0.7v0.7h-0.7zM333.2,395.3h0.7v0.7h-0.7zM339.3,397.3h0.7v0.7h-0.7zM328.7,391.1h0.7v0.7h-0.7zM342.5,396.9h0.7v0.7h-0.7zM342.7,400.6h0.7v0.7h-0.7zM339.5,395.8h0.7v0.7h-0.7zM345.0,396.0h0.7v0.7h-0.7zM350.5,392.8h0.7v0.7h-0.7zM335.2,388.4h0.7v0.7h-0.7zM344.1,394.6h0.7v0.7h-0.7zM344.9,399.6h0.7v0.7h-0.7zM338.0,394.8h0.7v0.7h-0.7zM334.3,393.6h0.7v0.7h-0.7zM333.3,396.6h0.7v0.7h-0.7zM338.3,395.4h0.7v0.7h-0.7zM336.7,397.1h0.7v0.7h-0.7zM341.7,395.0h0.7v0.7h-0.7zM343.0,395.0h0.7v0.7h-0.7zM329.4,398.2h0.7v0.7h-0.7zM341.5,393.4h0.7v0.7h-0.7zM346.1,396.0h0.7v0.7h-0.7zM326.3,398.5h0.7v0.7h-0.7zM340.5,397.1h0.7v0.7h-0.7zM339.5,395.0h0.7v0.7h-0.7zM326.4,397.2h0.7v0.7h-0.7zM338.2,394.7h0.7v0.7h-0.7zM340.6,395.5h0.7v0.7h-0.7zM343.1,394.6h0.7v0.7h-0.7zM337.7,391.0h0.7v0.7h-0.7zM334.8,396.7h0.7v0.7h-0.7zM348.0,394.6h0.7v0.7h-0.7zM337.1,398.5h0.7v0.7h-0.7zM335.6,396.8h0.7v0.7h-0.7zM350.6,395.4h0.7v0.7h-0.7zM347.2,393.9h0.7v0.7h-0.7zM339.6,395.1h0.7v0.7h-0.7zM338.9,397.6h0.7v0.7h-0.7zM355.9,394.0h0.7v0.7h-0.7zM333.7,396.3h0.7v0.7h-0.7zM330.1,396.3h0.7v0.7h-0.7zM342.3,394.7h0.7v0.7h-0.7zM342.0,392.2h0.7v0.7h-0.7zM343.7,392.2h0.7v0.7h-0.7zM332.8,394.2h0.7v0.7h-0.7zM335.0,397.0h0.7v0.7h-0.7zM338.6,394.5h0.7v0.7h-0.7zM342.1,398.5h0.7v0.7h-0.7zM338.0,396.0h0.7v0.7h-0.7zM347.3,395.8h0.7v0.7h-0.7zM328.4,400.3h0.7v0.7h-0.7zM354.6,391.3h0.7v0.7h-0.7zM337.7,396.1h0.7v0.7h-0.7zM345.2,396.6h0.7v0.7h-0.7zM336.0,393.2h0.7v0.7h-0.7zM338.8,397.4h0.7v0.7h-0.7zM329.8,393.2h0.7v0.7h-0.7zM337.8,391.4h0.7v0.7h-0.7zM336.0,394.4h0.7v0.7h-0.7zM341.4,393.9h0.7v0.7h-0.7zM331.4,394.5h0.7v0.7h-0.7zM337.6,394.0h0.7v0.7h-0.7zM338.1,396.8h0.7v0.7h-0.7zM346.9,398.7h0.7v0.7h-0.7zM332.1,394.5h0.7v0.7h-0.7zM319.4,399.1h0.7v0.7h-0.7zM332.6,395.2h0.7v0.7h-0.7zM341.9,392.6h0.7v0.7h-0.7zM341.5,395.2h0.7v0.7h-0.7zM324.3,395.9h0.7v0.7h-0.7zM347.0,391.6h0.7v0.7h-0.7zM344.1,395.7h0.7v0.7h-0.7zM341.6,396.2h0.7v0.7h-0.7zM347.8,394.9h0.7v0.7h-0.7zM344.6,394.5h0.7v0.7h-0.7zM343.5,393.7h0.7v0.7h-0.7zM337.2,398.8h0.7v0.7h-0.7zM341.3,395.0h0.7v0.7h-0.7zM329.4,393.7h0.7v0.7h-0.7zM339.5,397.2h0.7v0.7h-0.7zM341.2,396.3h0.7v0.7h-0.7zM337.7,398.0h0.7v0.7h-0.7zM335.1,394.2h0.7v0.7h-0.7zM344.7,395.4h0.7v0.7h-0.7zM335.9,394.1h0.7v0.7h-0.7zM336.1,396.5h0.7v0.7h-0.7zM340.7,392.9h0.7v0.7h-0.7zM341.2,395.7h0.7v0.7h-0.7zM330.5,396.8h0.7v0.7h-0.7zM335.9,394.6h0.7v0.7h-0.7zM344.0,397.9h0.7v0.7h-0.7zM332.8,396.2h0.7v0.7h-0.7zM331.4,399.9h0.7v0.7h-0.7zM334.3,397.7h0.7v0.7h-0.7zM333.1,396.9h0.7v0.7h-0.7zM354.6,390.2h0.7v0.7h-0.7zM334.7,396.3h0.7v0.7h-0.7zM337.3,394.0h0.7v0.7h-0.7zM354.1,395.5h0.7v0.7h-0.7zM325.7,397.0h0.7v0.7h-0.7zM325.1,397.6h0.7v0.7h-0.7zM333.7,395.6h0.7v0.7h-0.7zM347.5,395.5h0.7v0.7h-0.7zM327.6,391.9h0.7v0.7h-0.7zM346.9,396.8h0.7v0.7h-0.7zM331.9,397.0h0.7v0.7h-0.7zM341.7,396.6h0.7v0.7h-0.7zM321.1,394.7h0.7v0.7h-0.7zM344.8,396.8h0.7v0.7h-0.7zM344.6,390.4h0.7v0.7h-0.7zM339.3,396.3h0.7v0.7h-0.7zM357.1,393.4h0.7v0.7h-0.7zM335.5,395.4h0.7v0.7h-0.7zM344.6,394.4h0.7v0.7h-0.7zM346.6,393.7h0.7v0.7h-0.7zM340.0,394.2h0.7v0.7h-0.7zM339.2,393.9h0.7v0.7h-0.7zM326.0,397.5h0.7v0.7h-0.7zM340.3,394.2h0.7v0.7h-0.7zM339.5,397.3h0.7v0.7h-0.7zM330.7,395.1h0.7v0.7h-0.7zM342.0,396.4h0.7v0.7h-0.7zM335.5,391.1h0.7v0.7h-0.7zM347.3,396.0h0.7v0.7h-0.7zM338.1,394.7h0.7v0.7h-0.7zM340.0,394.4h0.7v0.7h-0.7zM330.3,393.8h0.7v0.7h-0.7zM333.5,394.1h0.7v0.7h-0.7zM329.3,396.6h0.7v0.7h-0.7zM328.2,396.6h0.7v0.7h-0.7zM330.4,396.0h0.7v0.7h-0.7zM348.3,395.7h0.7v0.7h-0.7zM332.5,395.4h0.7v0.7h-0.7zM339.1,391.8h0.7v0.7h-0.7zM333.4,395.6h0.7v0.7h-0.7zM334.5,395.5h0.7v0.7h-0.7zM343.5,396.8h0.7v0.7h-0.7zM344.8,396.5h0.7v0.7h-0.7zM335.8,395.3h0.7v0.7h-0.7zM336.0,394.7h0.7v0.7h-0.7zM336.7,391.9h0.7v0.7h-0.7zM335.5,395.3h0.7v0.7h-0.7zM330.7,395.3h0.7v0.7h-0.7zM341.9,395.0h0.7v0.7h-0.7zM353.6,390.1h0.7v0.7h-0.7zM336.5,391.6h0.7v0.7h-0.7zM345.3,400.6h0.7v0.7h-0.7zM319.2,395.6h0.7v0.7h-0.7zM341.9,394.7h0.7v0.7h-0.7zM342.1,390.8h0.7v0.7h-0.7zM344.4,396.0h0.7v0.7h-0.7zM338.2,394.1h0.7v0.7h-0.7zM342.8,394.3h0.7v0.7h-0.7zM339.7,394.3h0.7v0.7h-0.7zM321.1,395.2h0.7v0.7h-0.7zM339.5,396.8h0.7v0.7h-0.7zM331.4,395.2h0.7v0.7h-0.7zM342.6,395.6h0.7v0.7h-0.7zM347.3,399.3h0.7v0.7h-0.7zM331.2,391.5h0.7v0.7h-0.7zM344.4,398.4h0.7v0.7h-0.7zM344.9,396.9h0.7v0.7h-0.7zM333.4,393.9h0.7v0.7h-0.7zM344.7,393.5h0.7v0.7h-0.7zM324.4,393.3h0.7v0.7h-0.7zM356.7,399.1h0.7v0.7h-0.7zM332.9,393.8h0.7v0.7h-0.7zM339.7,393.8h0.7v0.7h-0.7zM347.8,395.1h0.7v0.7h-0.7zM329.9,397.9h0.7v0.7h-0.7zM333.6,395.7h0.7v0.7h-0.7zM337.9,394.7h0.7v0.7h-0.7zM340.4,393.9h0.7v0.7h-0.7zM324.2,390.9h0.7v0.7h-0.7zM328.5,393.8h0.7v0.7h-0.7zM337.8,395.4h0.7v0.7h-0.7zM342.2,395.5h0.7v0.7h-0.7zM332.0,393.9h0.7v0.7h-0.7zM322.1,395.0h0.7v0.7h-0.7zM341.6,396.4h0.7v0.7h-0.7zM337.1,395.0h0.7v0.7h-0.7zM345.0,395.3h0.7v0.7h-0.7zM343.5,396.5h0.7v0.7h-0.7zM339.6,397.9h0.7v0.7h-0.7zM333.7,394.6h0.7v0.7h-0.7zM331.9,393.7h0.7v0.7h-0.7zM349.7,398.8h0.7v0.7h-0.7zM338.2,396.4h0.7v0.7h-0.7zM346.8,396.9h0.7v0.7h-0.7zM347.0,392.8h0.7v0.7h-0.7zM333.2,396.2h0.7v0.7h-0.7zM348.8,395.5h0.7v0.7h-0.7zM331.6,394.6h0.7v0.7h-0.7zM333.0,393.6h0.7v0.7h-0.7zM349.3,394.0h0.7v0.7h-0.7zM338.2,399.6h0.7v0.7h-0.7zM346.9,396.0h0.7v0.7h-0.7zM333.4,396.1h0.7v0.7h-0.7zM350.2,396.5h0.7v0.7h-0.7zM347.5,395.5h0.7v0.7h-0.7zM341.9,394.9h0.7v0.7h-0.7zM341.2,397.9h0.7v0.7h-0.7zM327.3,395.2h0.7v0.7h-0.7zM339.8,394.2h0.7v0.7h-0.7zM335.7,396.9h0.7v0.7h-0.7zM353.0,396.6h0.7v0.7h-0.7zM340.4,392.2h0.7v0.7h-0.7zM352.5,395.5h0.7v0.7h-0.7zM337.7,393.1h0.7v0.7h-0.7zM337.6,393.1h0.7v0.7h-0.7zM338.5,396.2h0.7v0.7h-0.7zM338.2,395.9h0.7v0.7h-0.7zM331.6,398.2h0.7v0.7h-0.7zM333.1,391.7h0.7v0.7h-0.7zM336.6,393.8h0.7v0.7h-0.7zM330.4,394.6h0.7v0.7h-0.7zM340.2,392.9h0.7v0.7h-0.7zM337.0,398.2h0.7v0.7h-0.7zM343.1,395.0h0.7v0.7h-0.7zM339.0,395.1h0.7v0.7h-0.7zM337.6,396.8h0.7v0.7h-0.7zM337.3,390.5h0.7v0.7h-0.7zM337.8,393.5h0.7v0.7h-0.7zM342.9,394.1h0.7v0.7h-0.7zM339.1,399.7h0.7v0.7h-0.7zM330.1,393.1h0.7v0.7h-0.7zM327.4,390.5h0.7v0.7h-0.7zM323.9,396.0h0.7v0.7h-0.7zM333.2,391.6h0.7v0.7h-0.7zM326.9,396.5h0.7v0.7h-0.7zM332.2,394.6h0.7v0.7h-0.7zM340.5,398.0h0.7v0.7h-0.7zM352.6,397.4h0.7v0.7h-0.7zM339.1,395.7h0.7v0.7h-0.7zM351.5,398.2h0.7v0.7h-0.7zM335.7,396.2h0.7v0.7h-0.7zM340.2,395.4h0.7v0.7h-0.7zM334.2,392.6h0.7v0.7h-0.7zM334.0,392.2h0.7v0.7h-0.7zM347.2,396.4h0.7v0.7h-0.7zM329.0,398.1h0.7v0.7h-0.7zM344.7,391.5h0.7v0.7h-0.7zM351.8,396.9h0.7v0.7h-0.7zM353.5,392.8h0.7v0.7h-0.7zM342.0,396.1h0.7v0.7h-0.7zM339.5,395.6h0.7v0.7h-0.7zM345.9,392.3h0.7v0.7h-0.7zM328.7,392.5h0.7v0.7h-0.7zM333.8,394.1h0.7v0.7h-0.7zM340.8,395.8h0.7v0.7h-0.7zM338.2,393.9h0.7v0.7h-0.7zM334.7,397.2h0.7v0.7h-0.7zM343.7,395.5h0.7v0.7h-0.7zM335.6,398.4h0.7v0.7h-0.7zM333.5,396.6h0.7v0.7h-0.7zM346.7,394.8h0.7v0.7h-0.7zM344.2,393.1h0.7v0.7h-0.7zM345.6,395.7h0.7v0.7h-0.7zM326.1,396.6h0.7v0.7h-0.7zM331.3,397.9h0.7v0.7h-0.7zM332.9,395.0h0.7v0.7h-0.7zM340.1,394.6h0.7v0.7h-0.7zM339.9,394.2h0.7v0.7h-0.7zM343.0,395.3h0.7v0.7h-0.7zM339.6,389.8h0.7v0.7h-0.7zM346.7,395.4h0.7v0.7h-0.7zM324.6,395.5h0.7v0.7h-0.7zM341.5,397.4h0.7v0.7h-0.7zM329.9,398.4h0.7v0.7h-0.7zM336.8,400.1h0.7v0.7h-0.7zM336.9,396.7h0.7v0.7h-0.7zM335.3,393.1h0.7v0.7h-0.7zM346.2,397.1h0.7v0.7h-0.7zM349.5,397.0h0.7v0.7h-0.7zM333.7,392.0h0.7v0.7h-0.7zM333.1,393.9h0.7v0.7h-0.7zM331.9,396.5h0.7v0.7h-0.7zM340.5,394.8h0.7v0.7h-0.7zM339.3,395.0h0.7v0.7h-0.7zM339.6,396.8h0.7v0.7h-0.7zM345.2,393.9h0.7v0.7h-0.7zM326.7,398.2h0.7v0.7h-0.7zM338.9,397.5h0.7v0.7h-0.7zM325.7,394.6h0.7v0.7h-0.7zM338.2,392.4h0.7v0.7h-0.7zM334.1,396.7h0.7v0.7h-0.7zM346.1,398.5h0.7v0.7h-0.7zM331.5,392.5h0.7v0.7h-0.7zM341.9,397.2h0.7v0.7h-0.7zM339.4,392.7h0.7v0.7h-0.7zM343.9,396.9h0.7v0.7h-0.7zM342.2,394.3h0.7v0.7h-0.7zM340.3,396.9h0.7v0.7h-0.7z" fill="#333"/>
<path d="M332.4,389.1h0.7v0.7h-0.7zM341.3,396.5h0.7v0.7h-0.7zM338.1,397.8h0.7v0.7h-0.7zM332.1,394.7h0.7v0.7h-0.7zM334.9,396.8h0.7v0.7h-0.7zM354.0,394.2h0.7v0.7h-0.7zM358.5,399.9h0.7v0.7h-0.7zM345.9,396.9h0.7v0.7h-0.7zM355.7,394.4h0.7v0.7h-0.7zM336.9,391.6h0.7v0.7h-0.7zM342.7,399.3h0.7v0.7h-0.7zM343.3,396.4h0.7v0.7h-0.7zM336.0,395.5h0.7v0.7h-0.7zM323.7,398.4h0.7v0.7h-0.7zM333.9,391.5h0.7v0.7h-0.7zM330.5,392.4h0.7v0.7h-0.7zM346.6,398.4h0.7v0.7h-0.7zM324.4,398.0h0.7v0.7h-0.7zM346.9,393.1h0.7v0.7h-0.7zM323.1,392.6h0.7v0.7h-0.7zM331.7,396.1h0.7v0.7h-0.7zM334.4,388.5h0.7v0.7h-0.7zM340.3,390.1h0.7v0.7h-0.7zM347.1,391.1h0.7v0.7h-0.7zM331.1,392.3h0.7v0.7h-0.7zM332.6,399.2h0.7v0.7h-0.7zM346.5,396.9h0.7v0.7h-0.7zM341.2,390.0h0.7v0.7h-0.7zM332.8,393.2h0.7v0.7h-0.7zM328.2,396.6h0.7v0.7h-0.7zM330.6,392.7h0.7v0.7h-0.7zM327.6,388.4h0.7v0.7h-0.7zM344.0,399.3h0.7v0.7h-0.7zM339.7,391.9h0.7v0.7h-0.7zM350.2,396.0h0.7v0.7h-0.7zM347.3,399.7h0.7v0.7h-0.7zM349.3,393.6h0.7v0.7h-0.7zM348.5,397.5h0.7v0.7h-0.7zM322.6,393.7h0.7v0.7h-0.7zM323.8,394.7h0.7v0.7h-0.7zM343.8,391.6h0.7v0.7h-0.7zM317.4,399.2h0.7v0.7h-0.7zM341.8,399.7h0.7v0.7h-0.7zM324.8,398.4h0.7v0.7h-0.7zM358.7,401.4h0.7v0.7h-0.7zM335.9,395.9h0.7v0.7h-0.7zM336.5,398.2h0.7v0.7h-0.7zM348.4,395.3h0.7v0.7h-0.7zM324.4,397.4h0.7v0.7h-0.7zM333.3,397.0h0.7v0.7h-0.7zM340.6,400.2h0.7v0.7h-0.7zM349.4,393.6h0.7v0.7h-0.7zM341.5,400.6h0.7v0.7h-0.7zM332.6,396.4h0.7v0.7h-0.7zM349.9,399.0h0.7v0.7h-0.7zM343.2,390.8h0.7v0.7h-0.7zM325.4,395.8h0.7v0.7h-0.7zM341.9,403.2h0.7v0.7h-0.7zM329.4,398.6h0.7v0.7h-0.7zM345.7,389.7h0.7v0.7h-0.7zM329.8,395.5h0.7v0.7h-0.7zM333.1,394.5h0.7v0.7h-0.7zM342.7,392.4h0.7v0.7h-0.7zM342.7,393.0h0.7v0.7h-0.7zM332.6,396.7h0.7v0.7h-0.7zM332.3,395.9h0.7v0.7h-0.7zM354.0,395.1h0.7v0.7h-0.7zM336.5,397.4h0.7v0.7h-0.7zM334.3,398.5h0.7v0.7h-0.7zM325.2,397.0h0.7v0.7h-0.7zM332.9,392.4h0.7v0.7h-0.7zM355.7,392.3h0.7v0.7h-0.7zM355.6,397.1h0.7v0.7h-0.7zM352.5,391.9h0.7v0.7h-0.7zM350.0,399.7h0.7v0.7h-0.7zM336.8,394.6h0.7v0.7h-0.7zM362.6,395.6h0.7v0.7h-0.7zM333.8,393.0h0.7v0.7h-0.7zM342.5,396.1h0.7v0.7h-0.7zM339.8,400.5h0.7v0.7h-0.7zM334.7,396.5h0.7v0.7h-0.7zM352.6,391.8h0.7v0.7h-0.7zM348.4,400.9h0.7v0.7h-0.7zM324.5,391.5h0.7v0.7h-0.7zM327.6,389.1h0.7v0.7h-0.7zM342.5,389.1h0.7v0.7h-0.7zM343.0,399.7h0.7v0.7h-0.7zM321.8,394.0h0.7v0.7h-0.7zM318.8,397.5h0.7v0.7h-0.7zM330.6,394.1h0.7v0.7h-0.7zM338.5,396.7h0.7v0.7h-0.7zM334.5,395.0h0.7v0.7h-0.7zM332.5,395.4h0.7v0.7h-0.7zM326.3,395.2h0.7v0.7h-0.7zM318.7,393.4h0.7v0.7h-0.7zM357.2,395.3h0.7v0.7h-0.7zM325.4,395.8h0.7v0.7h-0.7zM328.3,389.7h0.7v0.7h-0.7zM330.6,397.4h0.7v0.7h-0.7zM341.8,394.7h0.7v0.7h-0.7zM328.7,391.5h0.7v0.7h-0.7zM351.5,395.8h0.7v0.7h-0.7zM328.5,388.2h0.7v0.7h-0.7zM324.3,402.9h0.7v0.7h-0.7zM326.5,394.8h0.7v0.7h-0.7zM340.1,394.5h0.7v0.7h-0.7zM335.2,390.6h0.7v0.7h-0.7zM327.5,400.4h0.7v0.7h-0.7zM330.4,397.7h0.7v0.7h-0.7zM321.1,394.1h0.7v0.7h-0.7zM340.6,398.3h0.7v0.7h-0.7zM326.8,396.9h0.7v0.7h-0.7zM341.9,392.6h0.7v0.7h-0.7zM342.8,392.1h0.7v0.7h-0.7zM330.0,394.9h0.7v0.7h-0.7zM328.0,390.3h0.7v0.7h-0.7zM333.7,397.4h0.7v0.7h-0.7zM334.0,399.1h0.7v0.7h-0.7zM326.4,390.8h0.7v0.7h-0.7zM353.5,396.3h0.7v0.7h-0.7zM347.5,392.4h0.7v0.7h-0.7zM346.0,395.8h0.7v0.7h-0.7zM344.5,395.1h0.7v0.7h-0.7zM350.1,392.9h0.7v0.7h-0.7zM328.4,390.3h0.7v0.7h-0.7zM349.6,392.6h0.7v0.7h-0.7zM327.6,392.0h0.7v0.7h-0.7zM333.5,390.9h0.7v0.7h-0.7zM335.1,393.0h0.7v0.7h-0.7zM332.5,391.9h0.7v0.7h-0.7zM338.4,393.5h0.7v0.7h-0.7zM339.1,395.8h0.7v0.7h-0.7zM341.4,388.0h0.7v0.7h-0.7zM332.6,392.5h0.7v0.7h-0.7zM345.7,390.0h0.7v0.7h-0.7zM330.9,394.1h0.7v0.7h-0.7zM334.6,398.2h0.7v0.7h-0.7zM333.6,398.1h0.7v0.7h-0.7zM323.3,389.2h0.7v0.7h-0.7zM350.2,396.4h0.7v0.7h-0.7zM342.9,395.4h0.7v0.7h-0.7zM342.8,391.1h0.7v0.7h-0.7zM347.5,393.3h0.7v0.7h-0.7zM347.9,395.3h0.7v0.7h-0.7zM318.3,390.9h0.7v0.7h-0.7zM349.3,394.6h0.7v0.7h-0.7zM334.0,395.8h0.7v0.7h-0.7zM333.7,393.3h0.7v0.7h-0.7zM339.0,395.5h0.7v0.7h-0.7zM353.2,395.1h0.7v0.7h-0.7zM356.8,400.8h0.7v0.7h-0.7zM355.2,398.4h0.7v0.7h-0.7zM339.3,395.4h0.7v0.7h-0.7zM336.6,392.7h0.7v0.7h-0.7zM337.3,392.9h0.7v0.7h-0.7zM354.4,396.7h0.7v0.7h-0.7zM333.5,388.9h0.7v0.7h-0.7zM337.5,393.7h0.7v0.7h-0.7zM327.1,391.4h0.7v0.7h-0.7zM337.3,403.3h0.7v0.7h-0.7zM337.7,394.5h0.7v0.7h-0.7zM352.4,395.4h0.7v0.7h-0.7zM339.7,393.8h0.7v0.7h-0.7zM331.9,399.8h0.7v0.7h-0.7zM348.0,400.5h0.7v0.7h-0.7zM334.5,395.1h0.7v0.7h-0.7zM329.2,398.1h0.7v0.7h-0.7zM324.1,396.8h0.7v0.7h-0.7zM349.0,399.5h0.7v0.7h-0.7zM328.6,398.5h0.7v0.7h-0.7zM330.9,392.6h0.7v0.7h-0.7zM324.8,398.7h0.7v0.7h-0.7zM354.5,393.1h0.7v0.7h-0.7zM330.4,393.9h0.7v0.7h-0.7zM363.1,398.2h0.7v0.7h-0.7zM332.6,389.3h0.7v0.7h-0.7zM331.3,398.8h0.7v0.7h-0.7zM356.7,394.1h0.7v0.7h-0.7zM331.1,393.4h0.7v0.7h-0.7zM319.1,397.9h0.7v0.7h-0.7zM327.1,398.4h0.7v0.7h-0.7zM320.9,390.9h0.7v0.7h-0.7zM340.9,392.6h0.7v0.7h-0.7zM345.8,395.0h0.7v0.7h-0.7zM326.3,397.0h0.7v0.7h-0.7zM346.4,388.9h0.7v0.7h-0.7zM356.3,396.6h0.7v0.7h-0.7zM345.6,389.0h0.7v0.7h-0.7zM330.8,393.9h0.7v0.7h-0.7zM348.8,390.3h0.7v0.7h-0.7zM329.2,388.5h0.7v0.7h-0.7zM335.6,396.1h0.7v0.7h-0.7zM321.1,393.1h0.7v0.7h-0.7zM343.1,400.1h0.7v0.7h-0.7zM344.6,394.0h0.7v0.7h-0.7zM326.2,392.0h0.7v0.7h-0.7zM331.4,395.5h0.7v0.7h-0.7zM337.5,400.3h0.7v0.7h-0.7zM340.9,391.6h0.7v0.7h-0.7zM353.4,398.0h0.7v0.7h-0.7zM339.0,392.7h0.7v0.7h-0.7zM319.3,391.7h0.7v0.7h-0.7zM347.1,392.4h0.7v0.7h-0.7zM324.8,395.6h0.7v0.7h-0.7zM340.4,396.9h0.7v0.7h-0.7zM344.6,399.5h0.7v0.7h-0.7zM329.6,398.1h0.7v0.7h-0.7zM328.1,397.2h0.7v0.7h-0.7zM339.8,395.8h0.7v0.7h-0.7zM347.7,394.9h0.7v0.7h-0.7zM349.1,397.8h0.7v0.7h-0.7zM339.4,393.2h0.7v0.7h-0.7zM330.5,393.3h0.7v0.7h-0.7zM336.0,394.9h0.7v0.7h-0.7zM367.8,397.0h0.7v0.7h-0.7zM345.7,392.2h0.7v0.7h-0.7zM330.9,394.0h0.7v0.7h-0.7zM339.9,391.7h0.7v0.7h-0.7zM354.1,393.2h0.7v0.7h-0.7zM348.8,387.5h0.7v0.7h-0.7zM337.9,395.9h0.7v0.7h-0.7zM339.9,396.9h0.7v0.7h-0.7zM340.8,395.5h0.7v0.7h-0.7zM319.1,392.7h0.7v0.7h-0.7zM341.1,394.4h0.7v0.7h-0.7zM329.8,393.1h0.7v0.7h-0.7zM356.5,400.5h0.7v0.7h-0.7zM337.4,399.1h0.7v0.7h-0.7zM322.1,388.8h0.7v0.7h-0.7zM333.2,392.2h0.7v0.7h-0.7zM332.4,395.6h0.7v0.7h-0.7zM368.2,392.9h0.7v0.7h-0.7zM338.5,395.9h0.7v0.7h-0.7zM337.7,398.0h0.7v0.7h-0.7zM355.8,391.0h0.7v0.7h-0.7zM339.6,394.2h0.7v0.7h-0.7zM341.6,390.1h0.7v0.7h-0.7zM320.4,387.6h0.7v0.7h-0.7zM343.3,395.6h0.7v0.7h-0.7zM338.7,387.4h0.7v0.7h-0.7zM334.3,392.6h0.7v0.7h-0.7zM323.9,392.1h0.7v0.7h-0.7zM345.0,396.7h0.7v0.7h-0.7zM337.8,396.6h0.7v0.7h-0.7zM332.0,395.2h0.7v0.7h-0.7zM338.4,396.8h0.7v0.7h-0.7z" fill="#666"/>
<path d="M341.6,419.3h0.7v0.7h-0.7zM341.2,416.8h0.7v0.7h-0.7zM355.4,422.6h0.7v0.7h-0.7zM344.6,431.5h0.7v0.7h-0.7zM350.4,412.2h0.7v0.7h-0.7zM346.2,424.2h0.7v0.7h-0.7zM353.3,426.6h0.7v0.7h-0.7zM346.6,414.1h0.7v0.7h-0.7zM336.8,421.3h0.7v0.7h-0.7zM345.0,414.9h0.7v0.7h-0.7zM339.7,418.0h0.7v0.7h-0.7zM342.4,421.7h0.7v0.7h-0.7zM340.3,413.8h0.7v0.7h-0.7zM349.5,428.0h0.7v0.7h-0.7zM341.4,425.1h0.7v0.7h-0.7zM344.7,423.3h0.7v0.7h-0.7zM344.9,416.2h0.7v0.7h-0.7zM345.4,425.1h0.7v0.7h-0.7zM336.6,429.8h0.7v0.7h-0.7zM354.5,429.1h0.7v0.7h-0.7zM353.9,423.7h0.7v0.7h-0.7zM340.0,417.0h0.7v0.7h-0.7zM337.1,420.6h0.7v0.7h-0.7zM341.8,423.4h0.7v0.7h-0.7zM329.9,431.6h0.7v0.7h-0.7zM355.7,419.9h0.7v0.7h-0.7zM346.1,422.4h0.7v0.7h-0.7zM343.6,419.0h0.7v0.7h-0.7zM341.3,415.9h0.7v0.7h-0.7zM343.1,419.9h0.7v0.7h-0.7zM343.9,415.7h0.7v0.7h-0.7zM342.2,420.2h0.7v0.7h-0.7zM345.6,414.7h0.7v0.7h-0.7zM344.5,424.9h0.7v0.7h-0.7zM345.6,418.2h0.7v0.7h-0.7zM339.1,418.8h0.7v0.7h-0.7zM346.4,427.8h0.7v0.7h-0.7zM341.1,416.8h0.7v0.7h-0.7zM344.3,421.0h0.7v0.7h-0.7zM336.6,416.3h0.7v0.7h-0.7zM341.4,423.4h0.7v0.7h-0.7zM334.8,414.9h0.7v0.7h-0.7zM345.0,413.9h0.7v0.7h-0.7zM342.7,421.8h0.7v0.7h-0.7zM341.3,414.9h0.7v0.7h-0.7zM341.6,418.3h0.7v0.7h-0.7zM344.0,415.8h0.7v0.7h-0.7zM348.5,411.6h0.7v0.7h-0.7zM340.9,420.0h0.7v0.7h-0.7zM347.8,417.0h0.7v0.7h-0.7zM345.3,417.2h0.7v0.7h-0.7zM346.4,428.7h0.7v0.7h-0.7zM339.6,422.2h0.7v0.7h-0.7zM336.4,424.9h0.7v0.7h-0.7zM349.3,420.2h0.7v0.7h-0.7zM335.2,422.0h0.7v0.7h-0.7zM348.9,425.4h0.7v0.7h-0.7zM346.9,410.8h0.7v0.7h-0.7zM337.9,427.1h0.7v0.7h-0.7zM334.6,425.7h0.7v0.7h-0.7zM353.3,423.8h0.7v0.7h-0.7zM348.7,418.3h0.7v0.7h-0.7zM334.6,419.5h0.7v0.7h-0.7zM340.8,419.8h0.7v0.7h-0.7zM346.2,419.3h0.7v0.7h-0.7zM343.2,422.1h0.7v0.7h-0.7zM342.0,429.2h0.7v0.7h-0.7zM344.7,420.4h0.7v0.7h-0.7zM340.8,416.9h0.7v0.7h-0.7zM350.1,420.8h0.7v0.7h-0.7zM335.5,417.2h0.7v0.7h-0.7zM341.2,417.8h0.7v0.7h-0.7zM348.5,414.2h0.7v0.7h-0.7zM345.0,420.7h0.7v0.7h-0.7zM334.9,420.2h0.7v0.7h-0.7zM341.4,422.5h0.7v0.7h-0.7zM339.3,421.5h0.7v0.7h-0.7zM332.0,414.6h0.7v0.7h-0.7zM346.7,425.2h0.7v0.7h-0.7zM341.9,417.0h0.7v0.7h-0.7zM348.5,409.5h0.7v0.7h-0.7zM337.2,423.4h0.7v0.7h-0.7zM345.9,414.8h0.7v0.7h-0.7zM330.7,427.3h0.7v0.7h-0.7zM342.9,415.5h0.7v0.7h-0.7zM342.3,424.5h0.7v0.7h-0.7zM326.4,425.6h0.7v0.7h-0.7zM346.4,409.6h0.7v0.7h-0.7zM346.6,411.1h0.7v0.7h-0.7zM348.8,422.0h0.7v0.7h-0.7zM355.5,416.9h0.7v0.7h-0.7zM342.0,425.2h0.7v0.7h-0.7zM338.2,416.5h0.7v0.7h-0.7zM339.8,419.6h0.7v0.7h-0.7zM335.5,422.4h0.7v0.7h-0.7zM345.3,420.4h0.7v0.7h-0.7zM352.2,418.4h0.7v0.7h-0.7zM349.8,417.3h0.7v0.7h-0.7zM346.5,410.3h0.7v0.7h-0.7zM343.2,419.1h0.7v0.7h-0.7zM339.0,416.9h0.7v0.7h-0.7zM339.9,416.4h0.7v0.7h-0.7zM328.8,417.0h0.7v0.7h-0.7zM338.7,417.4h0.7v0.7h-0.7zM335.7,419.3h0.7v0.7h-0.7zM346.7,418.7h0.7v0.7h-0.7zM339.0,426.8h0.7v0.7h-0.7zM347.9,424.6h0.7v0.7h-0.7zM348.9,418.4h0.7v0.7h-0.7zM341.2,425.6h0.7v0.7h-0.7z" fill="#999"/>
<path d="M372.9,423.4h0.7v0.7h-0.7zM375.9,426.4h0.7v0.7h-0.7zM374.5,430.7h0.7v0.7h-0.7zM374.6,429.0h0.7v0.7h-0.7zM378.0,428.1h0.7v0.7h-0.7zM375.6,415.9h0.7v0.7h-0.7zM370.4,420.3h0.7v0.7h-0.7zM377.0,434.0h0.7v0.7h-0.7zM371.4,426.5h0.7v0.7h-0.7zM371.5,419.3h0.7v0.7h-0.7zM374.3,428.8h0.7v0.7h-0.7zM376.1,431.9h0.7v0.7h-0.7zM372.5,430.3h0.7v0.7h-0.7zM377.1,424.2h0.7v0.7h-0.7zM375.4,420.0h0.7v0.7h-0.7zM371.1,421.6h0.7v0.7h-0.7zM375.1,443.7h0.7v0.7h-0.7zM374.5,435.3h0.7v0.7h-0.7zM375.3,426.0h0.7v0.7h-0.7zM375.9,418.5h0.7v0.7h-0.7zM377.4,426.2h0.7v0.7h-0.7zM370.8,428.6h0.7v0.7h-0.7zM376.4,426.9h0.7v0.7h-0.7zM378.6,420.7h0.7v0.7h-0.7zM376.5,428.9h0.7v0.7h-0.7zM373.0,432.4h0.7v0.7h-0.7zM369.4,415.7h0.7v0.7h-0.7zM375.1,416.5h0.7v0.7h-0.7zM372.8,412.9h0.7v0.7h-0.7zM373.8,416.3h0.7v0.7h-0.7zM374.2,413.5h0.7v0.7h-0.7zM375.5,422.1h0.7v0.7h-0.7zM374.6,423.5h0.7v0.7h-0.7zM373.8,415.0h0.7v0.7h-0.7zM367.4,425.1h0.7v0.7h-0.7zM371.5,421.2h0.7v0.7h-0.7zM374.1,410.5h0.7v0.7h-0.7zM371.9,420.1h0.7v0.7h-0.7zM371.8,426.6h0.7v0.7h-0.7zM373.4,418.5h0.7v0.7h-0.7zM372.4,429.8h0.7v0.7h-0.7zM373.1,428.2h0.7v0.7h-0.7zM374.2,411.1h0.7v0.7h-0.7zM371.5,424.4h0.7v0.7h-0.7zM376.1,429.1h0.7v0.7h-0.7zM377.6,430.7h0.7v0.7h-0.7zM373.3,422.7h0.7v0.7h-0.7zM376.3,420.9h0.7v0.7h-0.7zM376.1,412.9h0.7v0.7h-0.7zM376.2,422.6h0.7v0.7h-0.7zM369.8,431.3h0.7v0.7h-0.7zM375.4,424.0h0.7v0.7h-0.7zM371.1,421.2h0.7v0.7h-0.7zM378.0,417.9h0.7v0.7h-0.7zM364.2,419.4h0.7v0.7h-0.7zM371.1,423.5h0.7v0.7h-0.7zM372.7,418.0h0.7v0.7h-0.7zM373.0,431.4h0.7v0.7h-0.7zM372.1,437.7h0.7v0.7h-0.7zM372.1,416.8h0.7v0.7h-0.7zM377.1,427.5h0.7v0.7h-0.7zM372.2,429.4h0.7v0.7h-0.7zM368.6,418.4h0.7v0.7h-0.7zM377.4,421.9h0.7v0.7h-0.7zM371.3,427.9h0.7v0.7h-0.7zM377.0,423.5h0.7v0.7h-0.7zM369.2,422.3h0.7v0.7h-0.7zM376.3,429.0h0.7v0.7h-0.7zM379.4,421.7h0.7v0.7h-0.7zM373.1,423.9h0.7v0.7h-0.7zM377.1,417.2h0.7v0.7h-0.7zM375.9,405.0h0.7v0.7h-0.7zM376.2,419.2h0.7v0.7h-0.7zM376.3,428.5h0.7v0.7h-0.7zM371.1,423.8h0.7v0.7h-0.7zM375.6,427.9h0.7v0.7h-0.7zM371.1,417.6h0.7v0.7h-0.7zM371.2,441.8h0.7v0.7h-0.7zM373.8,422.6h0.7v0.7h-0.7zM371.1,430.8h0.7v0.7h-0.7zM374.2,433.9h0.7v0.7h-0.7zM376.9,423.9h0.7v0.7h-0.7zM375.6,416.2h0.7v0.7h-0.7zM373.1,420.2h0.7v0.7h-0.7zM371.0,424.5h0.7v0.7h-0.7zM375.3,433.7h0.7v0.7h-0.7zM364.6,420.6h0.7v0.7h-0.7zM371.6,421.2h0.7v0.7h-0.7zM376.0,426.6h0.7v0.7h-0.7zM374.2,420.8h0.7v0.7h-0.7zM376.2,426.3h0.7v0.7h-0.7zM369.2,422.8h0.7v0.7h-0.7zM369.7,416.5h0.7v0.7h-0.7zM375.0,424.4h0.7v0.7h-0.7zM374.1,418.1h0.7v0.7h-0.7zM373.2,417.9h0.7v0.7h-0.7zM376.1,428.5h0.7v0.7h-0.7zM380.4,432.0h0.7v0.7h-0.7zM371.9,421.2h0.7v0.7h-0.7zM372.1,426.4h0.7v0.7h-0.7zM380.6,428.1h0.7v0.7h-0.7zM367.4,416.2h0.7v0.7h-0.7zM371.3,427.9h0.7v0.7h-0.7zM374.7,426.0h0.7v0.7h-0.7zM378.8,417.8h0.7v0.7h-0.7zM373.7,437.6h0.7v0.7h-0.7zM374.8,418.6h0.7v0.7h-0.7zM367.6,414.4h0.7v0.7h-0.7zM367.8,425.3h0.7v0.7h-0.7zM375.4,430.7h0.7v0.7h-0.7zM373.5,419.4h0.7v0.7h-0.7zM374.0,437.1h0.7v0.7h-0.7zM369.7,425.8h0.7v0.7h-0.7zM375.1,428.2h0.7v0.7h-0.7zM373.8,427.5h0.7v0.7h-0.7zM376.6,422.7h0.7v0.7h-0.7zM373.1,422.9h0.7v0.7h-0.7zM371.6,422.9h0.7v0.7h-0.7zM373.8,425.5h0.7v0.7h-0.7zM379.3,432.4h0.7v0.7h-0.7zM373.8,428.2h0.7v0.7h-0.7zM375.9,429.0h0.7v0.7h-0.7zM374.8,425.8h0.7v0.7h-0.7zM372.6,418.9h0.7v0.7h-0.7zM378.0,432.5h0.7v0.7h-0.7zM376.7,426.7h0.7v0.7h-0.7zM374.9,420.9h0.7v0.7h-0.7zM370.1,429.1h0.7v0.7h-0.7zM374.6,420.2h0.7v0.7h-0.7zM372.9,433.0h0.7v0.7h-0.7zM370.9,436.5h0.7v0.7h-0.7zM378.2,439.8h0.7v0.7h-0.7zM372.5,424.1h0.7v0.7h-0.7zM373.2,425.2h0.7v0.7h-0.7zM373.3,419.0h0.7v0.7h-0.7zM376.8,418.3h0.7v0.7h-0.7zM373.5,427.9h0.7v0.7h-0.7zM372.7,421.2h0.7v0.7h-0.7zM375.2,421.4h0.7v0.7h-0.7zM371.0,423.7h0.7v0.7h-0.7zM375.3,435.6h0.7v0.7h-0.7zM372.2,430.9h0.7v0.7h-0.7zM372.0,421.9h0.7v0.7h-0.7zM373.8,425.9h0.7v0.7h-0.7zM378.3,435.5h0.7v0.7h-0.7zM373.8,433.2h0.7v0.7h-0.7zM377.9,429.2h0.7v0.7h-0.7zM373.1,430.3h0.7v0.7h-0.7zM374.5,426.4h0.7v0.7h-0.7zM374.3,428.6h0.7v0.7h-0.7zM378.5,431.3h0.7v0.7h-0.7zM374.7,430.8h0.7v0.7h-0.7zM377.8,417.2h0.7v0.7h-0.7zM377.5,414.5h0.7v0.7h-0.7zM376.5,427.8h0.7v0.7h-0.7zM378.8,425.4h0.7v0.7h-0.7zM372.5,418.8h0.7v0.7h-0.7zM371.6,429.6h0.7v0.7h-0.7zM373.3,419.2h0.7v0.7h-0.7zM375.4,418.7h0.7v0.7h-0.7zM372.9,421.1h0.7v0.7h-0.7zM380.3,433.3h0.7v0.7h-0.7zM372.8,413.4h0.7v0.7h-0.7zM375.3,424.4h0.7v0.7h-0.7zM375.9,427.7h0.7v0.7h-0.7zM374.4,430.4h0.7v0.7h-0.7zM377.0,425.1h0.7v0.7h-0.7zM373.0,420.9h0.7v0.7h-0.7zM375.5,416.3h0.7v0.7h-0.7zM373.4,419.0h0.7v0.7h-0.7zM371.1,428.5h0.7v0.7h-0.7zM374.5,424.3h0.7v0.7h-0.7zM375.7,413.6h0.7v0.7h-0.7zM374.5,426.0h0.7v0.7h-0.7zM375.9,416.4h0.7v0.7h-0.7zM376.7,425.2h0.7v0.7h-0.7zM379.2,431.2h0.7v0.7h-0.7zM377.8,438.3h0.7v0.7h-0.7zM374.2,421.1h0.7v0.7h-0.7zM372.8,417.8h0.7v0.7h-0.7zM372.9,411.3h0.7v0.7h-0.7zM374.6,426.9h0.7v0.7h-0.7zM377.0,421.3h0.7v0.7h-0.7zM377.8,419.1h0.7v0.7h-0.7zM372.6,411.4h0.7v0.7h-0.7zM371.7,418.9h0.7v0.7h-0.7zM379.0,427.0h0.7v0.7h-0.7zM371.9,427.9h0.7v0.7h-0.7zM375.6,422.3h0.7v0.7h-0.7zM374.3,422.0h0.7v0.7h-0.7zM371.6,412.5h0.7v0.7h-0.7zM375.3,432.5h0.7v0.7h-0.7zM378.2,421.7h0.7v0.7h-0.7zM372.3,422.8h0.7v0.7h-0.7zM377.2,426.0h0.7v0.7h-0.7zM373.2,426.6h0.7v0.7h-0.7zM374.4,427.5h0.7v0.7h-0.7zM372.2,414.4h0.7v0.7h-0.7zM375.3,429.0h0.7v0.7h-0.7zM371.4,423.7h0.7v0.7h-0.7zM376.6,421.2h0.7v0.7h-0.7zM374.3,437.6h0.7v0.7h-0.7zM377.6,430.5h0.7v0.7h-0.7zM373.2,435.0h0.7v0.7h-0.7zM369.6,421.1h0.7v0.7h-0.7zM377.6,432.5h0.7v0.7h-0.7zM371.5,419.9h0.7v0.7h-0.7zM373.5,411.3h0.7v0.7h-0.7zM376.7,427.5h0.7v0.7h-0.7zM373.7,427.7h0.7v0.7h-0.7zM376.8,425.8h0.7v0.7h-0.7zM377.1,433.8h0.7v0.7h-0.7zM373.3,425.2h0.7v0.7h-0.7zM373.9,430.9h0.7v0.7h-0.7zM373.8,427.2h0.7v0.7h-0.7zM374.9,424.4h0.7v0.7h-0.7zM379.1,422.9h0.7v0.7h-0.7zM379.0,428.9h0.7v0.7h-0.7zM377.9,422.5h0.7v0.7h-0.7zM377.6,428.6h0.7v0.7h-0.7zM373.1,426.0h0.7v0.7h-0.7zM374.1,423.8h0.7v0.7h-0.7zM377.4,418.9h0.7v0.7h-0.7zM368.6,413.2h0.7v0.7h-0.7zM372.8,419.9h0.7v0.7h-0.7zM375.0,427.7h0.7v0.7h-0.7zM379.5,425.4h0.7v0.7h-0.7zM375.2,419.1h0.7v0.7h-0.7zM377.1,432.7h0.7v0.7h-0.7zM376.6,410.8h0.7v0.7h-0.7zM378.1,434.0h0.7v0.7h-0.7zM375.5,414.0h0.7v0.7h-0.7zM374.1,427.9h0.7v0.7h-0.7zM375.0,418.6h0.7v0.7h-0.7zM372.9,430.6h0.7v0.7h-0.7zM372.1,433.8h0.7v0.7h-0.7zM374.8,425.9h0.7v0.7h-0.7zM370.5,420.6h0.7v0.7h-0.7zM375.2,414.2h0.7v0.7h-0.7zM378.9,414.2h0.7v0.7h-0.7zM371.3,424.7h0.7v0.7h-0.7zM376.4,428.6h0.7v0.7h-0.7zM373.3,422.8h0.7v0.7h-0.7zM373.4,420.3h0.7v0.7h-0.7zM368.4,431.1h0.7v0.7h-0.7zM375.3,424.9h0.7v0.7h-0.7zM373.0,425.8h0.7v0.7h-0.7zM374.4,423.5h0.7v0.7h-0.7zM376.1,412.5h0.7v0.7h-0.7zM374.3,417.0h0.7v0.7h-0.7zM374.8,433.8h0.7v0.7h-0.7zM371.5,423.7h0.7v0.7h-0.7zM373.7,430.3h0.7v0.7h-0.7zM370.6,413.4h0.7v0.7h-0.7zM375.6,421.5h0.7v0.7h-0.7zM374.5,431.1h0.7v0.7h-0.7zM371.8,421.9h0.7v0.7h-0.7zM375.2,426.6h0.7v0.7h-0.7zM373.9,430.9h0.7v0.7h-0.7zM380.2,420.6h0.7v0.7h-0.7zM377.8,409.7h0.7v0.7h-0.7zM378.0,421.3h0.7v0.7h-0.7zM374.6,421.8h0.7v0.7h-0.7zM371.8,415.9h0.7v0.7h-0.7zM374.5,432.5h0.7v0.7h-0.7zM377.3,421.4h0.7v0.7h-0.7zM372.5,419.6h0.7v0.7h-0.7zM372.7,436.1h0.7v0.7h-0.7zM376.4,424.5h0.7v0.7h-0.7zM372.4,417.5h0.7v0.7h-0.7zM378.6,428.6h0.7v0.7h-0.7zM372.7,430.7h0.7v0.7h-0.7zM372.0,428.5h0.7v0.7h-0.7zM371.6,421.6h0.7v0.7h-0.7zM376.2,426.6h0.7v0.7h-0.7zM376.5,418.3h0.7v0.7h-0.7zM379.8,432.2h0.7v0.7h-0.7zM374.8,427.0h0.7v0.7h-0.7zM372.3,423.3h0.7v0.7h-0.7zM371.0,425.0h0.7v0.7h-0.7zM376.1,432.6h0.7v0.7h-0.7zM377.7,429.0h0.7v0.7h-0.7zM373.4,422.7h0.7v0.7h-0.7zM373.8,425.6h0.7v0.7h-0.7zM370.0,429.6h0.7v0.7h-0.7zM369.9,421.2h0.7v0.7h-0.7zM374.2,420.7h0.7v0.7h-0.7zM378.9,422.8h0.7v0.7h-0.7zM379.6,431.1h0.7v0.7h-0.7zM373.5,426.8h0.7v0.7h-0.7zM377.7,421.4h0.7v0.7h-0.7zM374.3,420.4h0.7v0.7h-0.7zM374.4,421.7h0.7v0.7h-0.7zM375.5,430.5h0.7v0.7h-0.7zM378.3,424.4h0.7v0.7h-0.7zM375.7,429.5h0.7v0.7h-0.7zM372.9,417.2h0.7v0.7h-0.7zM376.7,417.6h0.7v0.7h-0.7zM376.2,417.4h0.7v0.7h-0.7zM378.6,416.6h0.7v0.7h-0.7zM377.9,433.4h0.7v0.7h-0.7zM373.1,433.9h0.7v0.7h-0.7zM370.9,412.8h0.7v0.7h-0.7zM377.0,428.3h0.7v0.7h-0.7zM372.0,407.7h0.7v0.7h-0.7zM374.1,422.0h0.7v0.7h-0.7zM373.3,422.2h0.7v0.7h-0.7zM369.3,420.9h0.7v0.7h-0.7zM380.5,433.4h0.7v0.7h-0.7zM373.0,419.5h0.7v0.7h-0.7zM376.4,430.8h0.7v0.7h-0.7zM375.5,416.2h0.7v0.7h-0.7zM375.0,424.9h0.7v0.7h-0.7zM379.3,431.3h0.7v0.7h-0.7zM376.8,431.7h0.7v0.7h-0.7zM374.6,434.1h0.7v0.7h-0.7zM373.7,426.7h0.7v0.7h-0.7zM376.2,417.8h0.7v0.7h-0.7zM371.3,412.8h0.7v0.7h-0.7zM374.9,423.6h0.7v0.7h-0.7zM374.0,427.3h0.7v0.7h-0.7zM368.8,424.5h0.7v0.7h-0.7zM374.5,422.2h0.7v0.7h-0.7zM378.0,435.1h0.7v0.7h-0.7zM372.6,418.1h0.7v0.7h-0.7zM373.0,424.8h0.7v0.7h-0.7zM375.4,418.2h0.7v0.7h-0.7zM376.4,417.0h0.7v0.7h-0.7zM377.0,426.5h0.7v0.7h-0.7zM377.4,437.8h0.7v0.7h-0.7zM373.7,423.0h0.7v0.7h-0.7zM376.4,429.4h0.7v0.7h-0.7zM371.1,426.2h0.7v0.7h-0.7zM373.0,428.3h0.7v0.7h-0.7zM378.2,423.9h0.7v0.7h-0.7zM374.4,425.2h0.7v0.7h-0.7zM367.2,429.9h0.7v0.7h-0.7zM376.1,424.9h0.7v0.7h-0.7zM372.9,419.4h0.7v0.7h-0.7zM375.0,431.9h0.7v0.7h-0.7zM375.3,432.8h0.7v0.7h-0.7zM367.3,421.8h0.7v0.7h-0.7zM375.2,423.8h0.7v0.7h-0.7zM369.6,420.2h0.7v0.7h-0.7zM376.8,415.2h0.7v0.7h-0.7zM371.0,417.2h0.7v0.7h-0.7zM373.5,428.3h0.7v0.7h-0.7zM374.5,410.7h0.7v0.7h-0.7zM377.9,419.7h0.7v0.7h-0.7zM374.2,435.0h0.7v0.7h-0.7zM373.3,416.0h0.7v0.7h-0.7zM372.2,419.5h0.7v0.7h-0.7zM371.5,422.2h0.7v0.7h-0.7zM377.1,426.0h0.7v0.7h-0.7zM373.0,442.5h0.7v0.7h-0.7zM371.9,425.1h0.7v0.7h-0.7zM375.2,428.9h0.7v0.7h-0.7zM374.0,427.1h0.7v0.7h-0.7zM380.2,423.9h0.7v0.7h-0.7zM371.9,426.5h0.7v0.7h-0.7zM372.1,421.9h0.7v0.7h-0.7zM375.3,426.1h0.7v0.7h-0.7zM374.4,429.6h0.7v0.7h-0.7zM373.0,415.6h0.7v0.7h-0.7zM376.6,421.4h0.7v0.7h-0.7zM377.2,419.4h0.7v0.7h-0.7zM376.3,425.9h0.7v0.7h-0.7zM366.1,415.2h0.7v0.7h-0.7zM372.6,433.5h0.7v0.7h-0.7zM370.2,430.5h0.7v0.7h-0.7zM377.8,426.9h0.7v0.7h-0.7zM375.9,420.6h0.7v0.7h-0.7zM374.6,425.5h0.7v0.7h-0.7zM376.2,428.4h0.7v0.7h-0.7zM373.4,419.5h0.7v0.7h-0.7zM373.3,426.8h0.7v0.7h-0.7zM369.1,416.4h0.7v0.7h-0.7zM373.0,420.5h0.7v0.7h-0.7zM371.7,406.8h0.7v0.7h-0.7zM373.4,422.5h0.7v0.7h-0.7zM375.0,410.9h0.7v0.7h-0.7zM374.1,427.2h0.7v0.7h-0.7zM376.7,431.6h0.7v0.7h-0.7zM376.5,416.9h0.7v0.7h-0.7zM375.9,421.6h0.7v0.7h-0.7zM373.6,434.2h0.7v0.7h-0.7zM372.2,418.7h0.7v0.7h-0.7zM372.7,418.6h0.7v0.7h-0.7zM377.5,426.1h0.7v0.7h-0.7zM378.6,426.2h0.7v0.7h-0.7zM373.7,431.0h0.7v0.7h-0.7zM372.4,421.2h0.7v0.7h-0.7zM374.1,424.3h0.7v0.7h-0.7zM377.2,419.7h0.7v0.7h-0.7zM375.4,423.7h0.7v0.7h-0.7zM370.3,417.3h0.7v0.7h-0.7zM374.2,426.7h0.7v0.7h-0.7zM375.7,427.0h0.7v0.7h-0.7zM374.3,421.1h0.7v0.7h-0.7zM374.9,417.3h0.7v0.7h-0.7zM370.6,422.3h0.7v0.7h-0.7zM370.3,421.1h0.7v0.7h-0.7zM372.1,420.6h0.7v0.7h-0.7zM373.8,418.8h0.7v0.7h-0.7zM372.0,413.0h0.7v0.7h-0.7zM374.2,418.2h0.7v0.7h-0.7zM373.4,405.5h0.7v0.7h-0.7zM372.5,425.8h0.7v0.7h-0.7zM367.7,422.4h0.7v0.7h-0.7zM374.8,424.6h0.7v0.7h-0.7zM370.7,426.0h0.7v0.7h-0.7zM374.1,417.6h0.7v0.7h-0.7zM376.5,423.4h0.7v0.7h-0.7zM374.2,421.1h0.7v0.7h-0.7zM376.0,424.5h0.7v0.7h-0.7zM377.9,426.6h0.7v0.7h-0.7zM372.7,422.7h0.7v0.7h-0.7zM376.7,421.3h0.7v0.7h-0.7zM375.9,427.3h0.7v0.7h-0.7zM372.2,408.9h0.7v0.7h-0.7zM375.0,425.4h0.7v0.7h-0.7zM374.3,419.0h0.7v0.7h-0.7zM377.6,422.7h0.7v0.7h-0.7zM372.3,419.5h0.7v0.7h-0.7zM374.6,416.8h0.7v0.7h-0.7zM373.4,437.4h0.7v0.7h-0.7zM378.9,430.5h0.7v0.7h-0.7zM378.6,427.4h0.7v0.7h-0.7zM370.9,432.3h0.7v0.7h-0.7zM378.2,426.8h0.7v0.7h-0.7zM370.2,432.8h0.7v0.7h-0.7zM377.8,420.3h0.7v0.7h-0.7zM375.5,429.0h0.7v0.7h-0.7zM375.1,431.2h0.7v0.7h-0.7zM375.3,428.5h0.7v0.7h-0.7zM373.6,414.3h0.7v0.7h-0.7zM374.3,445.0h0.7v0.7h-0.7zM376.3,432.5h0.7v0.7h-0.7zM378.9,434.8h0.7v0.7h-0.7zM375.5,419.9h0.7v0.7h-0.7zM373.0,411.4h0.7v0.7h-0.7zM374.7,430.0h0.7v0.7h-0.7zM368.8,426.0h0.7v0.7h-0.7zM377.8,432.4h0.7v0.7h-0.7zM371.5,420.0h0.7v0.7h-0.7zM368.6,417.9h0.7v0.7h-0.7zM377.6,437.4h0.7v0.7h-0.7zM372.5,433.4h0.7v0.7h-0.7zM375.3,420.6h0.7v0.7h-0.7zM378.4,406.8h0.7v0.7h-0.7zM374.5,425.5h0.7v0.7h-0.7zM381.7,435.1h0.7v0.7h-0.7zM380.7,424.1h0.7v0.7h-0.7zM378.2,432.6h0.7v0.7h-0.7zM376.2,426.2h0.7v0.7h-0.7zM373.7,421.4h0.7v0.7h-0.7zM372.7,437.2h0.7v0.7h-0.7zM371.6,410.5h0.7v0.7h-0.7zM375.2,423.7h0.7v0.7h-0.7zM376.4,435.9h0.7v0.7h-0.7zM374.0,422.3h0.7v0.7h-0.7zM372.5,424.1h0.7v0.7h-0.7zM373.5,425.5h0.7v0.7h-0.7zM383.3,425.6h0.7v0.7h-0.7zM373.7,437.0h0.7v0.7h-0.7zM377.5,429.1h0.7v0.7h-0.7zM377.1,429.1h0.7v0.7h-0.7zM377.4,433.0h0.7v0.7h-0.7zM378.3,432.5h0.7v0.7h-0.7zM373.1,424.1h0.7v0.7h-0.7zM373.3,430.5h0.7v0.7h-0.7zM376.4,420.7h0.7v0.7h-0.7zM378.2,441.1h0.7v0.7h-0.7zM377.0,416.3h0.7v0.7h-0.7zM374.8,428.2h0.7v0.7h-0.7zM374.7,426.6h0.7v0.7h-0.7zM378.0,425.8h0.7v0.7h-0.7zM372.1,429.1h0.7v0.7h-0.7zM374.3,424.8h0.7v0.7h-0.7zM371.9,415.1h0.7v0.7h-0.7zM370.8,422.1h0.7v0.7h-0.7zM369.5,406.5h0.7v0.7h-0.7zM376.7,416.0h0.7v0.7h-0.7zM373.0,427.7h0.7v0.7h-0.7zM369.0,433.6h0.7v0.7h-0.7zM372.9,428.6h0.7v0.7h-0.7zM373.4,426.2h0.7v0.7h-0.7zM374.8,424.0h0.7v0.7h-0.7zM368.4,414.9h0.7v0.7h-0.7zM375.5,433.3h0.7v0.7h-0.7zM373.4,427.7h0.7v0.7h-0.7zM375.3,427.1h0.7v0.7h-0.7zM376.0,413.8h0.7v0.7h-0.7zM375.1,422.7h0.7v0.7h-0.7zM373.0,418.5h0.7v0.7h-0.7zM371.6,417.5h0.7v0.7h-0.7zM373.5,440.9h0.7v0.7h-0.7zM379.1,423.5h0.7v0.7h-0.7zM375.7,417.3h0.7v0.7h-0.7zM365.5,412.9h0.7v0.7h-0.7zM376.0,433.4h0.7v0.7h-0.7zM373.6,417.4h0.7v0.7h-0.7zM373.1,417.5h0.7v0.7h-0.7zM370.5,422.9h0.7v0.7h-0.7zM372.8,418.8h0.7v0.7h-0.7zM371.4,418.2h0.7v0.7h-0.7zM376.2,433.1h0.7v0.7h-0.7zM375.7,438.8h0.7v0.7h-0.7zM370.3,426.3h0.7v0.7h-0.7zM371.2,423.3h0.7v0.7h-0.7zM375.2,427.6h0.7v0.7h-0.7zM377.1,420.0h0.7v0.7h-0.7zM371.0,423.2h0.7v0.7h-0.7zM374.7,419.3h0.7v0.7h-0.7zM378.3,434.8h0.7v0.7h-0.7zM370.9,426.8h0.7v0.7h-0.7zM375.7,411.0h0.7v0.7h-0.7zM374.9,422.5h0.7v0.7h-0.7zM371.7,433.1h0.7v0.7h-0.7zM374.7,420.8h0.7v0.7h-0.7zM376.2,428.1h0.7v0.7h-0.7zM377.0,427.6h0.7v0.7h-0.7zM374.7,416.1h0.7v0.7h-0.7zM373.5,425.0h0.7v0.7h-0.7zM368.7,438.9h0.7v0.7h-0.7zM372.6,417.2h0.7v0.7h-0.7zM369.8,426.2h0.7v0.7h-0.7zM374.1,420.1h0.7v0.7h-0.7zM372.7,418.3h0.7v0.7h-0.7zM372.4,423.6h0.7v0.7h-0.7zM373.3,428.7h0.7v0.7h-0.7zM374.2,424.9h0.7v0.7h-0.7zM376.6,432.2h0.7v0.7h-0.7zM376.3,425.3h0.7v0.7h-0.7zM373.4,418.8h0.7v0.7h-0.7zM374.1,428.6h0.7v0.7h-0.7zM374.8,421.4h0.7v0.7h-0.7zM369.7,414.4h0.7v0.7h-0.7zM376.2,430.7h0.7v0.7h-0.7zM374.4,414.8h0.7v0.7h-0.7zM374.1,425.5h0.7v0.7h-0.7zM372.3,426.6h0.7v0.7h-0.7zM373.3,418.6h0.7v0.7h-0.7zM371.8,429.7h0.7v0.7h-0.7zM374.8,418.0h0.7v0.7h-0.7zM372.5,430.2h0.7v0.7h-0.7zM375.9,421.8h0.7v0.7h-0.7zM378.6,421.6h0.7v0.7h-0.7zM372.5,431.5h0.7v0.7h-0.7zM374.3,426.3h0.7v0.7h-0.7zM373.8,417.4h0.7v0.7h-0.7zM371.1,423.1h0.7v0.7h-0.7zM377.5,416.9h0.7v0.7h-0.7zM378.4,425.0h0.7v0.7h-0.7zM371.7,426.1h0.7v0.7h-0.7zM375.3,417.9h0.7v0.7h-0.7zM369.0,427.0h0.7v0.7h-0.7zM371.8,427.3h0.7v0.7h-0.7zM369.2,423.7h0.7v0.7h-0.7zM371.1,414.5h0.7v0.7h-0.7zM374.0,425.2h0.7v0.7h-0.7zM372.1,416.4h0.7v0.7h-0.7zM373.7,412.4h0.7v0.7h-0.7zM376.3,427.0h0.7v0.7h-0.7zM379.7,429.3h0.7v0.7h-0.7zM375.7,425.6h0.7v0.7h-0.7zM373.5,415.3h0.7v0.7h-0.7zM378.9,427.0h0.7v0.7h-0.7zM372.8,416.6h0.7v0.7h-0.7zM378.9,427.0h0.7v0.7h-0.7zM371.8,428.8h0.7v0.7h-0.7zM379.6,423.2h0.7v0.7h-0.7zM375.3,421.1h0.7v0.7h-0.7zM373.7,431.2h0.7v0.7h-0.7zM382.9,423.8h0.7v0.7h-0.7zM374.8,429.2h0.7v0.7h-0.7zM374.3,428.9h0.7v0.7h-0.7zM375.9,417.1h0.7v0.7h-0.7zM371.5,423.9h0.7v0.7h-0.7zM377.0,425.5h0.7v0.7h-0.7zM376.8,414.6h0.7v0.7h-0.7zM375.3,419.8h0.7v0.7h-0.7zM375.0,426.1h0.7v0.7h-0.7zM371.7,422.8h0.7v0.7h-0.7zM371.6,426.1h0.7v0.7h-0.7zM371.8,421.0h0.7v0.7h-0.7zM374.6,419.6h0.7v0.7h-0.7zM377.1,419.5h0.7v0.7h-0.7zM377.0,425.6h0.7v0.7h-0.7zM371.5,422.9h0.7v0.7h-0.7zM372.0,421.9h0.7v0.7h-0.7zM375.2,436.0h0.7v0.7h-0.7zM374.6,434.4h0.7v0.7h-0.7zM374.7,415.3h0.7v0.7h-0.7zM368.8,429.2h0.7v0.7h-0.7zM369.7,429.3h0.7v0.7h-0.7zM377.6,426.2h0.7v0.7h-0.7zM373.7,422.4h0.7v0.7h-0.7zM375.0,421.9h0.7v0.7h-0.7zM372.8,421.8h0.7v0.7h-0.7zM377.2,419.6h0.7v0.7h-0.7zM374.6,416.3h0.7v0.7h-0.7zM371.5,415.2h0.7v0.7h-0.7zM374.5,428.5h0.7v0.7h-0.7zM374.9,420.7h0.7v0.7h-0.7zM375.9,421.5h0.7v0.7h-0.7zM375.7,425.7h0.7v0.7h-0.7zM374.0,407.6h0.7v0.7h-0.7zM371.6,429.5h0.7v0.7h-0.7zM376.0,438.7h0.7v0.7h-0.7zM373.4,420.5h0.7v0.7h-0.7zM379.0,427.1h0.7v0.7h-0.7zM380.0,426.7h0.7v0.7h-0.7zM374.5,428.8h0.7v0.7h-0.7zM372.0,421.3h0.7v0.7h-0.7zM372.8,422.7h0.7v0.7h-0.7zM376.2,420.6h0.7v0.7h-0.7zM375.0,420.6h0.7v0.7h-0.7zM374.7,405.7h0.7v0.7h-0.7zM374.1,425.2h0.7v0.7h-0.7zM372.4,431.0h0.7v0.7h-0.7zM376.1,432.3h0.7v0.7h-0.7zM377.6,427.9h0.7v0.7h-0.7zM373.2,417.0h0.7v0.7h-0.7zM373.5,421.1h0.7v0.7h-0.7zM374.8,420.9h0.7v0.7h-0.7zM381.5,412.6h0.7v0.7h-0.7zM377.3,420.6h0.7v0.7h-0.7zM374.6,430.1h0.7v0.7h-0.7zM373.6,416.1h0.7v0.7h-0.7zM375.5,422.6h0.7v0.7h-0.7zM369.1,426.0h0.7v0.7h-0.7zM371.1,419.5h0.7v0.7h-0.7zM376.0,425.8h0.7v0.7h-0.7zM375.4,438.2h0.7v0.7h-0.7zM375.1,419.9h0.7v0.7h-0.7zM375.0,423.1h0.7v0.7h-0.7zM367.3,414.4h0.7v0.7h-0.7zM372.4,437.9h0.7v0.7h-0.7zM373.8,422.3h0.7v0.7h-0.7zM373.8,430.6h0.7v0.7h-0.7zM375.9,435.1h0.7v0.7h-0.7zM377.9,434.5h0.7v0.7h-0.7zM374.5,426.5h0.7v0.7h-0.7zM373.2,423.0h0.7v0.7h-0.7zM369.4,420.8h0.7v0.7h-0.7zM371.4,420.1h0.7v0.7h-0.7zM378.0,425.3h0.7v0.7h-0.7zM378.5,429.2h0.7v0.7h-0.7zM377.8,430.2h0.7v0.7h-0.7z" fill="#2e2e2e"/>
<path d="M372.7,430.8h0.7v0.7h-0.7zM372.6,419.9h0.7v0.7h-0.7zM381.8,441.0h0.7v0.7h-0.7zM372.0,438.6h0.7v0.7h-0.7zM377.2,416.7h0.7v0.7h-0.7zM376.0,426.9h0.7v0.7h-0.7zM375.8,420.9h0.7v0.7h-0.7zM369.0,424.9h0.7v0.7h-0.7zM379.0,429.9h0.7v0.7h-0.7zM378.4,432.6h0.7v0.7h-0.7zM370.2,424.2h0.7v0.7h-0.7zM376.9,431.9h0.7v0.7h-0.7zM375.7,428.1h0.7v0.7h-0.7zM377.1,441.0h0.7v0.7h-0.7zM365.1,424.9h0.7v0.7h-0.7zM385.4,424.6h0.7v0.7h-0.7zM366.7,426.0h0.7v0.7h-0.7zM367.7,419.2h0.7v0.7h-0.7zM377.1,437.8h0.7v0.7h-0.7zM377.1,429.2h0.7v0.7h-0.7zM379.1,425.1h0.7v0.7h-0.7zM370.7,423.6h0.7v0.7h-0.7zM375.7,421.6h0.7v0.7h-0.7zM371.3,421.4h0.7v0.7h-0.7zM367.0,416.5h0.7v0.7h-0.7zM373.8,421.1h0.7v0.7h-0.7zM376.0,435.4h0.7v0.7h-0.7zM375.8,423.6h0.7v0.7h-0.7zM368.4,415.8h0.7v0.7h-0.7zM375.3,416.7h0.7v0.7h-0.7zM375.3,415.1h0.7v0.7h-0.7zM375.0,423.3h0.7v0.7h-0.7zM378.4,420.3h0.7v0.7h-0.7zM373.1,426.2h0.7v0.7h-0.7zM376.4,437.7h0.7v0.7h-0.7zM372.9,419.8h0.7v0.7h-0.7zM373.6,428.0h0.7v0.7h-0.7zM376.2,429.5h0.7v0.7h-0.7zM371.0,444.8h0.7v0.7h-0.7zM382.4,422.8h0.7v0.7h-0.7zM369.5,425.9h0.7v0.7h-0.7zM374.1,405.7h0.7v0.7h-0.7zM373.1,412.0h0.7v0.7h-0.7zM377.8,435.0h0.7v0.7h-0.7zM377.5,411.2h0.7v0.7h-0.7zM381.3,430.6h0.7v0.7h-0.7zM373.4,428.3h0.7v0.7h-0.7zM380.7,420.5h0.7v0.7h-0.7zM373.9,419.5h0.7v0.7h-0.7zM377.4,405.9h0.7v0.7h-0.7zM379.7,415.4h0.7v0.7h-0.7zM376.9,410.3h0.7v0.7h-0.7zM369.9,419.6h0.7v0.7h-0.7zM376.5,410.4h0.7v0.7h-0.7zM376.5,418.5h0.7v0.7h-0.7zM379.5,420.8h0.7v0.7h-0.7zM376.4,422.4h0.7v0.7h-0.7zM381.9,420.1h0.7v0.7h-0.7zM376.3,440.1h0.7v0.7h-0.7zM375.5,429.5h0.7v0.7h-0.7zM371.5,426.0h0.7v0.7h-0.7zM364.9,426.0h0.7v0.7h-0.7zM370.2,412.1h0.7v0.7h-0.7zM369.5,434.0h0.7v0.7h-0.7zM374.8,411.5h0.7v0.7h-0.7zM381.6,417.4h0.7v0.7h-0.7zM373.2,426.2h0.7v0.7h-0.7zM368.0,411.5h0.7v0.7h-0.7zM372.5,434.0h0.7v0.7h-0.7zM377.0,410.7h0.7v0.7h-0.7zM379.7,423.7h0.7v0.7h-0.7zM376.7,424.2h0.7v0.7h-0.7zM375.3,415.7h0.7v0.7h-0.7zM369.9,418.8h0.7v0.7h-0.7zM373.5,429.2h0.7v0.7h-0.7zM370.8,437.6h0.7v0.7h-0.7zM371.2,419.5h0.7v0.7h-0.7zM377.9,427.2h0.7v0.7h-0.7zM372.0,415.5h0.7v0.7h-0.7zM368.6,411.5h0.7v0.7h-0.7zM380.5,432.2h0.7v0.7h-0.7zM383.0,427.1h0.7v0.7h-0.7zM376.7,430.0h0.7v0.7h-0.7zM378.3,421.4h0.7v0.7h-0.7zM378.1,441.3h0.7v0.7h-0.7zM365.8,413.5h0.7v0.7h-0.7zM371.1,430.6h0.7v0.7h-0.7zM379.3,420.6h0.7v0.7h-0.7zM377.3,423.3h0.7v0.7h-0.7zM375.3,419.5h0.7v0.7h-0.7zM374.4,424.0h0.7v0.7h-0.7zM381.6,441.5h0.7v0.7h-0.7zM367.2,429.3h0.7v0.7h-0.7zM375.4,431.9h0.7v0.7h-0.7zM379.8,429.8h0.7v0.7h-0.7zM377.0,415.9h0.7v0.7h-0.7zM368.8,438.4h0.7v0.7h-0.7zM378.8,415.6h0.7v0.7h-0.7zM380.7,428.7h0.7v0.7h-0.7zM364.8,432.6h0.7v0.7h-0.7zM371.4,434.0h0.7v0.7h-0.7zM370.8,418.3h0.7v0.7h-0.7zM367.6,423.0h0.7v0.7h-0.7zM378.2,418.0h0.7v0.7h-0.7zM368.6,442.4h0.7v0.7h-0.7zM383.1,428.7h0.7v0.7h-0.7zM371.0,414.4h0.7v0.7h-0.7zM368.0,429.4h0.7v0.7h-0.7zM379.1,414.7h0.7v0.7h-0.7zM374.2,421.7h0.7v0.7h-0.7zM373.9,428.2h0.7v0.7h-0.7zM382.9,417.7h0.7v0.7h-0.7zM379.2,432.4h0.7v0.7h-0.7zM373.1,422.9h0.7v0.7h-0.7zM369.8,433.5h0.7v0.7h-0.7zM371.6,419.0h0.7v0.7h-0.7zM373.9,417.0h0.7v0.7h-0.7zM369.7,422.1h0.7v0.7h-0.7zM380.7,421.6h0.7v0.7h-0.7zM375.3,411.8h0.7v0.7h-0.7zM367.9,439.8h0.7v0.7h-0.7zM371.3,411.7h0.7v0.7h-0.7zM374.6,429.0h0.7v0.7h-0.7zM366.2,417.7h0.7v0.7h-0.7zM374.7,416.4h0.7v0.7h-0.7zM378.9,431.4h0.7v0.7h-0.7zM376.0,420.3h0.7v0.7h-0.7zM373.7,418.9h0.7v0.7h-0.7zM374.2,426.7h0.7v0.7h-0.7zM374.2,432.1h0.7v0.7h-0.7zM385.1,418.2h0.7v0.7h-0.7zM376.8,430.5h0.7v0.7h-0.7zM377.0,421.7h0.7v0.7h-0.7zM373.4,432.4h0.7v0.7h-0.7zM377.7,427.8h0.7v0.7h-0.7zM371.7,429.6h0.7v0.7h-0.7zM377.7,422.1h0.7v0.7h-0.7zM379.4,441.4h0.7v0.7h-0.7zM367.0,429.9h0.7v0.7h-0.7zM368.1,413.5h0.7v0.7h-0.7zM374.0,428.6h0.7v0.7h-0.7zM373.6,414.5h0.7v0.7h-0.7zM367.7,420.2h0.7v0.7h-0.7zM373.7,417.2h0.7v0.7h-0.7zM369.7,439.1h0.7v0.7h-0.7zM370.7,423.2h0.7v0.7h-0.7zM371.6,419.5h0.7v0.7h-0.7zM374.4,421.5h0.7v0.7h-0.7zM376.0,414.0h0.7v0.7h-0.7zM370.0,440.7h0.7v0.7h-0.7zM374.9,430.3h0.7v0.7h-0.7zM380.1,427.9h0.7v0.7h-0.7zM373.1,411.3h0.7v0.7h-0.7zM368.5,432.8h0.7v0.7h-0.7zM378.0,428.3h0.7v0.7h-0.7zM365.2,407.4h0.7v0.7h-0.7zM368.8,414.9h0.7v0.7h-0.7zM374.2,415.6h0.7v0.7h-0.7zM380.7,418.1h0.7v0.7h-0.7zM372.9,431.4h0.7v0.7h-0.7zM375.0,416.5h0.7v0.7h-0.7zM380.0,439.3h0.7v0.7h-0.7zM368.9,422.6h0.7v0.7h-0.7zM367.9,408.7h0.7v0.7h-0.7zM377.9,429.4h0.7v0.7h-0.7zM379.1,427.0h0.7v0.7h-0.7zM365.7,424.8h0.7v0.7h-0.7zM370.4,414.7h0.7v0.7h-0.7zM370.5,430.8h0.7v0.7h-0.7zM375.2,440.3h0.7v0.7h-0.7zM374.7,408.1h0.7v0.7h-0.7zM379.6,433.8h0.7v0.7h-0.7zM373.4,414.0h0.7v0.7h-0.7zM380.9,412.3h0.7v0.7h-0.7zM372.3,408.4h0.7v0.7h-0.7zM367.4,410.7h0.7v0.7h-0.7zM380.4,433.1h0.7v0.7h-0.7zM371.4,413.1h0.7v0.7h-0.7zM374.6,427.1h0.7v0.7h-0.7zM366.7,415.3h0.7v0.7h-0.7z" fill="#777"/>
<path d="M357.5,413.7h0.7v0.7h-0.7zM361.8,408.8h0.7v0.7h-0.7zM367.6,382.1h0.7v0.7h-0.7zM357.0,392.6h0.7v0.7h-0.7zM371.7,384.9h0.7v0.7h-0.7zM395.2,400.6h0.7v0.7h-0.7zM372.9,412.3h0.7v0.7h-0.7zM385.3,407.9h0.7v0.7h-0.7zM373.7,409.1h0.7v0.7h-0.7zM344.3,386.8h0.7v0.7h-0.7zM344.2,422.6h0.7v0.7h-0.7zM368.9,434.8h0.7v0.7h-0.7zM372.2,437.0h0.7v0.7h-0.7zM371.2,376.8h0.7v0.7h-0.7zM389.2,404.2h0.7v0.7h-0.7zM352.0,403.3h0.7v0.7h-0.7zM332.5,376.6h0.7v0.7h-0.7zM338.2,389.7h0.7v0.7h-0.7zM326.8,398.0h0.7v0.7h-0.7zM367.5,439.8h0.7v0.7h-0.7zM381.7,395.7h0.7v0.7h-0.7zM369.6,399.3h0.7v0.7h-0.7zM346.7,401.5h0.7v0.7h-0.7zM323.7,408.6h0.7v0.7h-0.7zM352.9,378.7h0.7v0.7h-0.7zM351.2,410.9h0.7v0.7h-0.7zM343.3,409.3h0.7v0.7h-0.7zM374.0,430.7h0.7v0.7h-0.7zM333.3,397.8h0.7v0.7h-0.7zM372.6,429.5h0.7v0.7h-0.7zM366.5,414.8h0.7v0.7h-0.7zM323.9,388.5h0.7v0.7h-0.7z" fill="#bbb"/>
<line x1="314.9" y1="377.784" x2="316.4" y2="377.784" stroke="#666" stroke-width="0.5"/>
<line x1="314.9" y1="390.925" x2="316.4" y2="390.925" stroke="#666" stroke-width="0.5"/>
<line x1="314.9" y1="404.06600000000003" x2="316.4" y2="404.06600000000003" stroke="#666" stroke-width="0.5"/>
<line x1="314.9" y1="417.98" x2="316.4" y2="417.98" stroke="#666" stroke-width="0.5"/>
<line x1="314.9" y1="429.575" x2="316.4" y2="429.575" stroke="#666" stroke-width="0.5"/>
<line x1="328.64" y1="448.9" x2="328.64" y2="450.4" stroke="#666" stroke-width="0.5"/>
<line x1="340.88" y1="448.9" x2="340.88" y2="450.4" stroke="#666" stroke-width="0.5"/>
<line x1="353.12" y1="448.9" x2="353.12" y2="450.4" stroke="#666" stroke-width="0.5"/>
<line x1="366.99199999999996" y1="448.9" x2="366.99199999999996" y2="450.4" stroke="#666" stroke-width="0.5"/>
<line x1="381.68" y1="448.9" x2="381.68" y2="450.4" stroke="#666" stroke-width="0.5"/>
<line x1="393.92" y1="448.9" x2="393.92" y2="450.4" stroke="#666" stroke-width="0.5"/>
<rect x="420" y="371.2" width="79" height="77.30000000000001" fill="#fff" stroke="#999" stroke-width="0.6"/>
<line x1="420" y1="371.2" x2="420" y2="448.5" stroke="#333" stroke-width="0.9"/>
<line x1="420" y1="448.5" x2="499" y2="448.5" stroke="#333" stroke-width="0.9"/>
<line x1="459.7" y1="371.2" x2="459.7" y2="448.5" stroke="#999" stroke-width="0.6"/>
<line x1="420" y1="410" x2="499" y2="410" stroke="#999" stroke-width="0.6"/>
<path d="M445.6,392.5h0.7v0.7h-0.7zM457.9,392.3h0.7v0.7h-0.7zM437.8,389.5h0.7v0.7h-0.7zM439.3,393.7h0.7v0.7h-0.7zM446.6,394.2h0.7v0.7h-0.7zM447.7,391.9h0.7v0.7h-0.7zM445.4,392.3h0.7v0.7h-0.7zM428.2,395.0h0.7v0.7h-0.7zM443.3,390.1h0.7v0.7h-0.7zM443.4,392.5h0.7v0.7h-0.7zM448.9,394.6h0.7v0.7h-0.7zM453.6,390.3h0.7v0.7h-0.7zM423.5,392.5h0.7v0.7h-0.7zM443.0,392.6h0.7v0.7h-0.7zM430.1,391.2h0.7v0.7h-0.7zM441.7,393.3h0.7v0.7h-0.7zM459.5,392.5h0.7v0.7h-0.7zM434.6,387.8h0.7v0.7h-0.7zM449.6,391.8h0.7v0.7h-0.7zM439.0,390.2h0.7v0.7h-0.7zM446.5,388.8h0.7v0.7h-0.7zM441.0,392.2h0.7v0.7h-0.7zM442.7,394.3h0.7v0.7h-0.7zM439.1,392.2h0.7v0.7h-0.7zM447.6,389.2h0.7v0.7h-0.7zM437.4,392.1h0.7v0.7h-0.7zM448.5,390.6h0.7v0.7h-0.7zM447.2,392.7h0.7v0.7h-0.7zM426.7,389.4h0.7v0.7h-0.7zM427.2,392.2h0.7v0.7h-0.7zM441.8,393.3h0.7v0.7h-0.7zM447.3,391.0h0.7v0.7h-0.7zM449.6,393.5h0.7v0.7h-0.7zM444.2,392.9h0.7v0.7h-0.7zM428.5,392.6h0.7v0.7h-0.7zM430.8,389.9h0.7v0.7h-0.7zM436.9,392.2h0.7v0.7h-0.7zM439.5,391.4h0.7v0.7h-0.7zM431.1,392.3h0.7v0.7h-0.7zM433.4,389.5h0.7v0.7h-0.7zM440.8,394.6h0.7v0.7h-0.7zM436.4,390.1h0.7v0.7h-0.7zM452.4,395.1h0.7v0.7h-0.7zM437.4,391.6h0.7v0.7h-0.7zM441.9,397.3h0.7v0.7h-0.7zM441.2,393.8h0.7v0.7h-0.7zM444.0,388.7h0.7v0.7h-0.7zM430.1,389.8h0.7v0.7h-0.7zM443.9,392.2h0.7v0.7h-0.7zM456.0,391.5h0.7v0.7h-0.7zM442.8,392.1h0.7v0.7h-0.7zM441.2,396.2h0.7v0.7h-0.7zM442.6,394.6h0.7v0.7h-0.7zM451.6,390.9h0.7v0.7h-0.7zM446.1,391.3h0.7v0.7h-0.7zM441.0,392.3h0.7v0.7h-0.7zM440.2,391.2h0.7v0.7h-0.7zM454.0,391.5h0.7v0.7h-0.7zM446.3,395.0h0.7v0.7h-0.7zM445.6,393.8h0.7v0.7h-0.7zM452.5,394.0h0.7v0.7h-0.7zM455.4,389.4h0.7v0.7h-0.7zM457.6,392.0h0.7v0.7h-0.7zM424.3,390.9h0.7v0.7h-0.7zM427.5,392.0h0.7v0.7h-0.7zM426.6,390.2h0.7v0.7h-0.7zM442.7,392.3h0.7v0.7h-0.7zM432.8,391.6h0.7v0.7h-0.7zM439.1,392.1h0.7v0.7h-0.7zM439.9,391.6h0.7v0.7h-0.7zM447.9,389.1h0.7v0.7h-0.7zM435.6,392.2h0.7v0.7h-0.7zM436.4,391.0h0.7v0.7h-0.7zM436.1,392.4h0.7v0.7h-0.7zM451.2,391.7h0.7v0.7h-0.7zM437.6,392.6h0.7v0.7h-0.7zM437.8,388.5h0.7v0.7h-0.7zM442.4,391.3h0.7v0.7h-0.7zM434.9,393.1h0.7v0.7h-0.7zM440.4,391.0h0.7v0.7h-0.7zM440.1,391.8h0.7v0.7h-0.7zM443.9,392.4h0.7v0.7h-0.7zM435.7,389.7h0.7v0.7h-0.7zM430.2,391.7h0.7v0.7h-0.7zM429.7,393.4h0.7v0.7h-0.7zM428.1,388.8h0.7v0.7h-0.7zM438.3,388.8h0.7v0.7h-0.7zM454.6,390.2h0.7v0.7h-0.7zM439.5,391.6h0.7v0.7h-0.7zM432.6,388.8h0.7v0.7h-0.7zM423.3,393.6h0.7v0.7h-0.7zM449.2,395.9h0.7v0.7h-0.7zM426.8,393.0h0.7v0.7h-0.7zM439.9,393.5h0.7v0.7h-0.7zM435.4,393.3h0.7v0.7h-0.7zM448.1,393.1h0.7v0.7h-0.7zM453.0,391.7h0.7v0.7h-0.7zM453.9,390.7h0.7v0.7h-0.7z" fill="#aaa"/>
<path d="M456.0,407.3h0.7v0.7h-0.7zM446.1,417.0h0.7v0.7h-0.7zM446.0,426.2h0.7v0.7h-0.7zM450.3,421.5h0.7v0.7h-0.7zM456.2,413.6h0.7v0.7h-0.7zM441.1,428.5h0.7v0.7h-0.7zM448.0,410.6h0.7v0.7h-0.7zM448.0,415.1h0.7v0.7h-0.7zM454.9,426.7h0.7v0.7h-0.7zM442.7,427.5h0.7v0.7h-0.7zM441.0,425.6h0.7v0.7h-0.7zM449.5,420.4h0.7v0.7h-0.7zM437.5,419.6h0.7v0.7h-0.7zM432.3,418.2h0.7v0.7h-0.7zM434.9,427.1h0.7v0.7h-0.7zM440.2,408.8h0.7v0.7h-0.7zM449.5,422.8h0.7v0.7h-0.7zM443.0,431.6h0.7v0.7h-0.7zM450.6,421.3h0.7v0.7h-0.7zM442.1,406.2h0.7v0.7h-0.7zM448.9,425.8h0.7v0.7h-0.7zM442.4,413.9h0.7v0.7h-0.7zM445.7,412.6h0.7v0.7h-0.7zM446.0,424.9h0.7v0.7h-0.7zM455.1,422.3h0.7v0.7h-0.7zM447.2,424.7h0.7v0.7h-0.7zM454.4,419.4h0.7v0.7h-0.7zM438.6,417.0h0.7v0.7h-0.7zM438.4,416.6h0.7v0.7h-0.7zM445.3,422.7h0.7v0.7h-0.7zM446.9,421.3h0.7v0.7h-0.7zM443.9,423.1h0.7v0.7h-0.7zM451.3,424.8h0.7v0.7h-0.7zM455.0,419.5h0.7v0.7h-0.7zM444.5,429.5h0.7v0.7h-0.7zM447.2,423.1h0.7v0.7h-0.7zM444.0,425.8h0.7v0.7h-0.7zM443.6,416.0h0.7v0.7h-0.7zM445.6,418.8h0.7v0.7h-0.7zM451.0,419.1h0.7v0.7h-0.7zM446.7,419.9h0.7v0.7h-0.7zM448.0,417.8h0.7v0.7h-0.7zM452.6,413.9h0.7v0.7h-0.7zM443.7,417.5h0.7v0.7h-0.7zM449.9,421.2h0.7v0.7h-0.7zM448.9,419.3h0.7v0.7h-0.7zM441.7,415.4h0.7v0.7h-0.7zM444.0,418.3h0.7v0.7h-0.7zM447.7,422.8h0.7v0.7h-0.7zM451.9,420.5h0.7v0.7h-0.7zM441.5,415.7h0.7v0.7h-0.7zM446.4,422.8h0.7v0.7h-0.7zM457.7,421.9h0.7v0.7h-0.7zM456.5,430.4h0.7v0.7h-0.7zM439.7,427.1h0.7v0.7h-0.7zM452.8,427.7h0.7v0.7h-0.7zM445.9,425.8h0.7v0.7h-0.7zM443.1,420.6h0.7v0.7h-0.7zM446.1,429.9h0.7v0.7h-0.7zM444.7,425.8h0.7v0.7h-0.7zM446.4,417.5h0.7v0.7h-0.7zM447.5,424.3h0.7v0.7h-0.7zM441.7,424.2h0.7v0.7h-0.7zM441.7,416.6h0.7v0.7h-0.7zM447.3,419.8h0.7v0.7h-0.7zM440.1,412.9h0.7v0.7h-0.7zM446.1,422.2h0.7v0.7h-0.7zM443.2,421.9h0.7v0.7h-0.7zM436.8,423.0h0.7v0.7h-0.7zM448.5,422.4h0.7v0.7h-0.7zM442.3,421.4h0.7v0.7h-0.7zM446.8,426.3h0.7v0.7h-0.7zM447.7,422.3h0.7v0.7h-0.7zM441.7,425.3h0.7v0.7h-0.7zM453.0,418.5h0.7v0.7h-0.7zM449.8,422.5h0.7v0.7h-0.7zM445.7,414.6h0.7v0.7h-0.7zM456.5,411.7h0.7v0.7h-0.7zM447.8,419.1h0.7v0.7h-0.7zM452.9,418.9h0.7v0.7h-0.7zM446.2,424.1h0.7v0.7h-0.7zM448.7,418.4h0.7v0.7h-0.7zM450.1,423.0h0.7v0.7h-0.7zM451.9,418.4h0.7v0.7h-0.7zM445.7,419.0h0.7v0.7h-0.7zM441.0,422.3h0.7v0.7h-0.7zM448.5,428.1h0.7v0.7h-0.7zM444.1,422.9h0.7v0.7h-0.7zM452.8,420.4h0.7v0.7h-0.7zM446.4,421.7h0.7v0.7h-0.7z" fill="#aaa"/>
<path d="M470.1,418.5h0.7v0.7h-0.7zM477.7,424.1h0.7v0.7h-0.7zM471.5,416.3h0.7v0.7h-0.7zM476.5,431.2h0.7v0.7h-0.7zM468.9,419.5h0.7v0.7h-0.7zM480.0,431.9h0.7v0.7h-0.7zM477.8,419.2h0.7v0.7h-0.7zM474.5,418.8h0.7v0.7h-0.7zM474.9,421.3h0.7v0.7h-0.7zM477.0,432.2h0.7v0.7h-0.7zM474.6,422.2h0.7v0.7h-0.7zM474.6,425.6h0.7v0.7h-0.7zM472.8,425.7h0.7v0.7h-0.7zM478.6,433.2h0.7v0.7h-0.7zM465.6,418.4h0.7v0.7h-0.7zM471.8,430.5h0.7v0.7h-0.7zM481.8,423.1h0.7v0.7h-0.7zM476.4,431.0h0.7v0.7h-0.7zM466.2,425.0h0.7v0.7h-0.7zM464.7,427.7h0.7v0.7h-0.7zM471.6,421.4h0.7v0.7h-0.7zM474.0,420.1h0.7v0.7h-0.7zM477.4,423.0h0.7v0.7h-0.7zM479.7,439.4h0.7v0.7h-0.7zM474.3,430.1h0.7v0.7h-0.7zM473.7,432.5h0.7v0.7h-0.7zM477.2,424.0h0.7v0.7h-0.7zM479.9,433.1h0.7v0.7h-0.7zM478.2,422.8h0.7v0.7h-0.7zM475.8,430.9h0.7v0.7h-0.7zM468.4,421.6h0.7v0.7h-0.7zM476.5,427.1h0.7v0.7h-0.7zM482.8,433.3h0.7v0.7h-0.7zM475.8,426.4h0.7v0.7h-0.7zM469.7,424.0h0.7v0.7h-0.7zM474.4,422.4h0.7v0.7h-0.7zM475.3,427.7h0.7v0.7h-0.7zM470.1,421.3h0.7v0.7h-0.7zM470.6,432.6h0.7v0.7h-0.7zM467.8,414.4h0.7v0.7h-0.7zM476.0,422.0h0.7v0.7h-0.7zM476.3,420.9h0.7v0.7h-0.7zM481.7,426.6h0.7v0.7h-0.7zM474.7,424.6h0.7v0.7h-0.7zM474.8,429.2h0.7v0.7h-0.7zM479.3,419.6h0.7v0.7h-0.7zM471.8,428.6h0.7v0.7h-0.7zM474.6,413.8h0.7v0.7h-0.7zM470.1,418.5h0.7v0.7h-0.7zM476.6,426.6h0.7v0.7h-0.7zM469.8,417.7h0.7v0.7h-0.7zM472.4,410.7h0.7v0.7h-0.7zM475.7,422.5h0.7v0.7h-0.7zM481.6,428.5h0.7v0.7h-0.7zM471.8,422.8h0.7v0.7h-0.7zM471.9,419.8h0.7v0.7h-0.7zM476.0,429.9h0.7v0.7h-0.7zM469.0,423.9h0.7v0.7h-0.7zM479.8,427.3h0.7v0.7h-0.7zM470.1,419.7h0.7v0.7h-0.7zM468.6,414.9h0.7v0.7h-0.7zM477.6,423.4h0.7v0.7h-0.7zM469.3,415.8h0.7v0.7h-0.7zM471.9,421.2h0.7v0.7h-0.7zM478.4,419.7h0.7v0.7h-0.7zM476.2,430.5h0.7v0.7h-0.7zM475.7,422.3h0.7v0.7h-0.7zM469.9,434.5h0.7v0.7h-0.7zM475.0,420.8h0.7v0.7h-0.7zM472.0,418.2h0.7v0.7h-0.7zM468.7,415.7h0.7v0.7h-0.7zM476.4,426.7h0.7v0.7h-0.7zM475.9,428.6h0.7v0.7h-0.7zM475.8,424.3h0.7v0.7h-0.7zM472.4,428.4h0.7v0.7h-0.7zM478.7,426.8h0.7v0.7h-0.7zM476.9,420.0h0.7v0.7h-0.7zM473.2,432.5h0.7v0.7h-0.7zM472.7,426.0h0.7v0.7h-0.7zM473.5,424.3h0.7v0.7h-0.7zM472.2,420.9h0.7v0.7h-0.7zM472.0,437.2h0.7v0.7h-0.7zM471.2,412.0h0.7v0.7h-0.7zM469.3,417.9h0.7v0.7h-0.7zM467.3,409.0h0.7v0.7h-0.7zM478.6,433.6h0.7v0.7h-0.7zM474.6,428.8h0.7v0.7h-0.7zM473.6,415.9h0.7v0.7h-0.7zM474.7,412.6h0.7v0.7h-0.7zM471.6,422.3h0.7v0.7h-0.7zM478.0,423.6h0.7v0.7h-0.7zM472.2,419.2h0.7v0.7h-0.7zM474.3,424.2h0.7v0.7h-0.7zM478.7,431.9h0.7v0.7h-0.7zM476.3,423.5h0.7v0.7h-0.7zM476.4,433.9h0.7v0.7h-0.7zM474.6,423.7h0.7v0.7h-0.7zM482.2,432.0h0.7v0.7h-0.7zM475.5,422.8h0.7v0.7h-0.7zM474.0,431.1h0.7v0.7h-0.7zM474.3,430.3h0.7v0.7h-0.7zM471.8,425.3h0.7v0.7h-0.7zM475.5,424.5h0.7v0.7h-0.7zM475.4,426.1h0.7v0.7h-0.7zM468.7,418.2h0.7v0.7h-0.7zM476.7,435.2h0.7v0.7h-0.7zM472.0,418.4h0.7v0.7h-0.7zM472.1,424.8h0.7v0.7h-0.7zM476.6,419.5h0.7v0.7h-0.7zM476.0,424.7h0.7v0.7h-0.7zM471.3,418.5h0.7v0.7h-0.7zM472.3,419.7h0.7v0.7h-0.7zM472.5,412.8h0.7v0.7h-0.7zM478.7,427.7h0.7v0.7h-0.7zM478.4,432.6h0.7v0.7h-0.7zM472.8,413.1h0.7v0.7h-0.7zM474.9,426.7h0.7v0.7h-0.7zM470.0,417.7h0.7v0.7h-0.7zM476.2,426.7h0.7v0.7h-0.7zM472.3,422.9h0.7v0.7h-0.7zM471.5,421.0h0.7v0.7h-0.7zM475.7,430.6h0.7v0.7h-0.7zM468.6,423.3h0.7v0.7h-0.7zM479.4,424.5h0.7v0.7h-0.7zM475.9,429.0h0.7v0.7h-0.7zM468.9,417.5h0.7v0.7h-0.7zM466.5,416.5h0.7v0.7h-0.7zM476.2,429.0h0.7v0.7h-0.7zM471.6,420.2h0.7v0.7h-0.7zM476.3,427.4h0.7v0.7h-0.7zM471.4,412.2h0.7v0.7h-0.7zM467.9,409.1h0.7v0.7h-0.7zM473.2,418.6h0.7v0.7h-0.7zM474.7,433.7h0.7v0.7h-0.7zM478.8,425.8h0.7v0.7h-0.7zM475.1,424.8h0.7v0.7h-0.7zM472.2,424.2h0.7v0.7h-0.7zM478.2,417.0h0.7v0.7h-0.7zM472.3,425.6h0.7v0.7h-0.7zM478.1,428.3h0.7v0.7h-0.7zM470.9,424.0h0.7v0.7h-0.7zM471.1,416.7h0.7v0.7h-0.7zM473.4,421.0h0.7v0.7h-0.7zM477.5,425.8h0.7v0.7h-0.7zM471.8,425.2h0.7v0.7h-0.7zM471.8,420.4h0.7v0.7h-0.7zM474.4,430.9h0.7v0.7h-0.7zM469.8,413.9h0.7v0.7h-0.7zM473.1,429.6h0.7v0.7h-0.7zM478.6,415.7h0.7v0.7h-0.7zM472.4,422.3h0.7v0.7h-0.7zM470.5,427.7h0.7v0.7h-0.7zM474.3,425.7h0.7v0.7h-0.7zM480.2,420.5h0.7v0.7h-0.7zM477.8,428.4h0.7v0.7h-0.7zM471.1,421.0h0.7v0.7h-0.7zM479.9,427.0h0.7v0.7h-0.7zM472.5,417.2h0.7v0.7h-0.7zM477.6,426.4h0.7v0.7h-0.7zM483.1,431.1h0.7v0.7h-0.7zM476.9,424.9h0.7v0.7h-0.7zM473.2,420.6h0.7v0.7h-0.7zM475.3,425.2h0.7v0.7h-0.7zM477.8,430.0h0.7v0.7h-0.7zM474.0,420.4h0.7v0.7h-0.7zM479.1,432.7h0.7v0.7h-0.7zM472.2,427.3h0.7v0.7h-0.7zM476.6,426.8h0.7v0.7h-0.7zM475.4,423.0h0.7v0.7h-0.7zM476.6,434.3h0.7v0.7h-0.7zM476.7,414.0h0.7v0.7h-0.7zM467.2,428.8h0.7v0.7h-0.7zM471.1,421.4h0.7v0.7h-0.7zM469.9,427.5h0.7v0.7h-0.7zM472.9,420.8h0.7v0.7h-0.7zM480.9,438.0h0.7v0.7h-0.7zM480.5,429.9h0.7v0.7h-0.7zM473.9,428.4h0.7v0.7h-0.7zM475.9,431.1h0.7v0.7h-0.7zM475.7,423.3h0.7v0.7h-0.7zM474.4,419.2h0.7v0.7h-0.7zM479.0,432.5h0.7v0.7h-0.7zM473.9,427.7h0.7v0.7h-0.7zM470.7,431.1h0.7v0.7h-0.7zM474.8,417.1h0.7v0.7h-0.7zM479.4,423.2h0.7v0.7h-0.7zM466.4,417.2h0.7v0.7h-0.7zM476.1,421.6h0.7v0.7h-0.7zM474.6,413.6h0.7v0.7h-0.7zM475.4,430.0h0.7v0.7h-0.7zM473.2,428.7h0.7v0.7h-0.7zM473.5,426.4h0.7v0.7h-0.7zM478.9,437.3h0.7v0.7h-0.7zM471.7,429.8h0.7v0.7h-0.7zM476.0,416.1h0.7v0.7h-0.7zM478.3,437.9h0.7v0.7h-0.7zM472.0,405.1h0.7v0.7h-0.7zM470.3,413.8h0.7v0.7h-0.7zM473.6,419.3h0.7v0.7h-0.7zM470.9,419.4h0.7v0.7h-0.7zM474.1,420.9h0.7v0.7h-0.7zM470.9,423.4h0.7v0.7h-0.7zM473.7,418.5h0.7v0.7h-0.7zM474.4,413.0h0.7v0.7h-0.7zM474.5,421.3h0.7v0.7h-0.7zM477.6,418.7h0.7v0.7h-0.7zM469.7,416.4h0.7v0.7h-0.7zM481.0,426.0h0.7v0.7h-0.7zM470.2,422.9h0.7v0.7h-0.7zM473.8,434.1h0.7v0.7h-0.7zM471.7,411.3h0.7v0.7h-0.7zM476.2,429.4h0.7v0.7h-0.7zM474.8,426.9h0.7v0.7h-0.7zM474.0,425.4h0.7v0.7h-0.7zM473.4,419.5h0.7v0.7h-0.7zM475.3,424.7h0.7v0.7h-0.7zM472.7,419.9h0.7v0.7h-0.7zM471.4,426.4h0.7v0.7h-0.7zM472.2,408.6h0.7v0.7h-0.7zM474.8,432.7h0.7v0.7h-0.7zM475.5,418.9h0.7v0.7h-0.7zM476.3,416.8h0.7v0.7h-0.7zM475.0,436.5h0.7v0.7h-0.7zM472.3,423.1h0.7v0.7h-0.7zM467.3,419.3h0.7v0.7h-0.7zM470.2,424.2h0.7v0.7h-0.7zM470.4,432.0h0.7v0.7h-0.7zM471.9,420.6h0.7v0.7h-0.7zM473.4,429.1h0.7v0.7h-0.7zM477.9,420.2h0.7v0.7h-0.7zM481.6,432.4h0.7v0.7h-0.7zM478.5,424.7h0.7v0.7h-0.7zM470.7,429.4h0.7v0.7h-0.7zM473.1,425.5h0.7v0.7h-0.7zM467.9,423.9h0.7v0.7h-0.7zM473.1,418.1h0.7v0.7h-0.7zM477.8,433.9h0.7v0.7h-0.7zM473.5,419.6h0.7v0.7h-0.7zM477.4,408.9h0.7v0.7h-0.7zM472.0,427.3h0.7v0.7h-0.7zM468.2,410.6h0.7v0.7h-0.7zM476.2,428.8h0.7v0.7h-0.7zM474.2,433.6h0.7v0.7h-0.7zM477.6,430.8h0.7v0.7h-0.7zM469.4,425.3h0.7v0.7h-0.7zM482.3,434.9h0.7v0.7h-0.7zM477.9,422.9h0.7v0.7h-0.7zM473.5,420.0h0.7v0.7h-0.7zM476.1,418.8h0.7v0.7h-0.7zM470.8,411.3h0.7v0.7h-0.7zM472.6,436.1h0.7v0.7h-0.7zM474.6,425.3h0.7v0.7h-0.7zM467.4,425.7h0.7v0.7h-0.7zM477.6,413.1h0.7v0.7h-0.7zM466.6,425.1h0.7v0.7h-0.7zM472.0,423.2h0.7v0.7h-0.7zM467.9,416.8h0.7v0.7h-0.7zM471.4,429.0h0.7v0.7h-0.7zM475.3,429.1h0.7v0.7h-0.7zM471.8,428.5h0.7v0.7h-0.7zM472.8,424.9h0.7v0.7h-0.7zM476.9,423.4h0.7v0.7h-0.7zM470.0,414.1h0.7v0.7h-0.7zM475.6,428.7h0.7v0.7h-0.7zM472.0,424.1h0.7v0.7h-0.7zM466.3,417.4h0.7v0.7h-0.7zM477.5,431.6h0.7v0.7h-0.7zM470.1,414.1h0.7v0.7h-0.7zM470.1,414.8h0.7v0.7h-0.7zM476.6,436.0h0.7v0.7h-0.7zM474.6,422.8h0.7v0.7h-0.7zM476.5,420.8h0.7v0.7h-0.7zM475.4,424.9h0.7v0.7h-0.7zM472.8,414.6h0.7v0.7h-0.7zM477.7,428.8h0.7v0.7h-0.7zM462.3,409.4h0.7v0.7h-0.7zM473.9,433.9h0.7v0.7h-0.7zM475.3,428.1h0.7v0.7h-0.7zM477.2,429.0h0.7v0.7h-0.7zM471.0,421.0h0.7v0.7h-0.7zM476.2,427.4h0.7v0.7h-0.7zM476.3,425.6h0.7v0.7h-0.7zM474.5,431.2h0.7v0.7h-0.7zM477.3,430.1h0.7v0.7h-0.7zM468.1,432.4h0.7v0.7h-0.7zM467.0,427.4h0.7v0.7h-0.7zM472.2,425.3h0.7v0.7h-0.7zM472.0,422.5h0.7v0.7h-0.7zM475.2,426.0h0.7v0.7h-0.7zM467.1,409.1h0.7v0.7h-0.7zM472.6,428.0h0.7v0.7h-0.7zM472.2,427.4h0.7v0.7h-0.7zM471.2,418.5h0.7v0.7h-0.7zM480.5,433.2h0.7v0.7h-0.7zM473.6,423.8h0.7v0.7h-0.7zM474.6,415.0h0.7v0.7h-0.7zM473.4,431.7h0.7v0.7h-0.7zM475.9,420.2h0.7v0.7h-0.7zM472.3,426.8h0.7v0.7h-0.7zM468.8,422.2h0.7v0.7h-0.7zM468.9,409.0h0.7v0.7h-0.7zM477.2,428.2h0.7v0.7h-0.7zM474.7,414.2h0.7v0.7h-0.7zM468.6,420.1h0.7v0.7h-0.7zM473.7,437.8h0.7v0.7h-0.7zM470.5,422.9h0.7v0.7h-0.7zM475.4,426.6h0.7v0.7h-0.7zM476.5,416.0h0.7v0.7h-0.7zM476.9,424.2h0.7v0.7h-0.7zM470.7,426.0h0.7v0.7h-0.7zM472.6,435.3h0.7v0.7h-0.7zM473.6,430.9h0.7v0.7h-0.7zM476.9,419.0h0.7v0.7h-0.7zM471.5,425.6h0.7v0.7h-0.7zM472.4,430.5h0.7v0.7h-0.7zM473.2,419.1h0.7v0.7h-0.7zM473.2,429.1h0.7v0.7h-0.7zM472.6,435.7h0.7v0.7h-0.7zM471.3,423.5h0.7v0.7h-0.7zM474.1,434.9h0.7v0.7h-0.7zM478.8,431.4h0.7v0.7h-0.7zM476.2,424.0h0.7v0.7h-0.7zM480.4,426.6h0.7v0.7h-0.7zM476.4,427.2h0.7v0.7h-0.7zM476.7,425.1h0.7v0.7h-0.7zM470.6,414.2h0.7v0.7h-0.7zM478.0,414.1h0.7v0.7h-0.7zM466.1,421.5h0.7v0.7h-0.7zM482.1,429.9h0.7v0.7h-0.7zM472.6,426.2h0.7v0.7h-0.7zM470.4,411.7h0.7v0.7h-0.7zM473.5,426.1h0.7v0.7h-0.7zM475.4,415.5h0.7v0.7h-0.7zM464.3,416.2h0.7v0.7h-0.7zM475.2,424.2h0.7v0.7h-0.7zM474.7,424.8h0.7v0.7h-0.7zM470.4,415.8h0.7v0.7h-0.7zM476.1,426.0h0.7v0.7h-0.7zM478.0,431.3h0.7v0.7h-0.7zM466.0,410.5h0.7v0.7h-0.7zM472.4,438.9h0.7v0.7h-0.7zM471.9,427.3h0.7v0.7h-0.7zM475.3,428.6h0.7v0.7h-0.7zM482.9,417.9h0.7v0.7h-0.7zM472.4,420.4h0.7v0.7h-0.7zM475.7,427.0h0.7v0.7h-0.7zM473.4,433.1h0.7v0.7h-0.7zM478.3,425.8h0.7v0.7h-0.7zM473.2,422.6h0.7v0.7h-0.7zM470.1,429.5h0.7v0.7h-0.7zM470.1,421.7h0.7v0.7h-0.7zM475.4,417.4h0.7v0.7h-0.7zM473.9,429.8h0.7v0.7h-0.7zM478.5,418.0h0.7v0.7h-0.7zM476.2,418.9h0.7v0.7h-0.7zM476.1,426.7h0.7v0.7h-0.7zM472.3,431.4h0.7v0.7h-0.7zM479.6,422.7h0.7v0.7h-0.7zM472.7,416.4h0.7v0.7h-0.7zM479.6,422.8h0.7v0.7h-0.7zM471.4,429.9h0.7v0.7h-0.7zM468.3,421.0h0.7v0.7h-0.7zM469.9,434.5h0.7v0.7h-0.7zM479.7,418.1h0.7v0.7h-0.7zM471.0,421.0h0.7v0.7h-0.7zM473.3,428.0h0.7v0.7h-0.7zM476.7,416.4h0.7v0.7h-0.7zM472.1,412.3h0.7v0.7h-0.7zM478.5,422.1h0.7v0.7h-0.7zM474.6,434.2h0.7v0.7h-0.7zM476.1,432.7h0.7v0.7h-0.7zM480.3,433.4h0.7v0.7h-0.7zM471.6,425.1h0.7v0.7h-0.7zM474.8,422.5h0.7v0.7h-0.7zM477.4,418.2h0.7v0.7h-0.7zM479.5,431.6h0.7v0.7h-0.7zM466.3,419.7h0.7v0.7h-0.7zM470.2,421.4h0.7v0.7h-0.7zM474.9,422.6h0.7v0.7h-0.7zM473.4,421.1h0.7v0.7h-0.7zM474.6,427.1h0.7v0.7h-0.7zM474.9,418.5h0.7v0.7h-0.7zM472.3,419.3h0.7v0.7h-0.7zM470.9,415.2h0.7v0.7h-0.7zM478.1,427.4h0.7v0.7h-0.7zM472.4,419.8h0.7v0.7h-0.7zM471.4,420.2h0.7v0.7h-0.7zM472.2,435.6h0.7v0.7h-0.7zM481.9,413.4h0.7v0.7h-0.7zM471.5,428.6h0.7v0.7h-0.7zM473.0,413.6h0.7v0.7h-0.7zM469.1,429.1h0.7v0.7h-0.7zM470.4,434.7h0.7v0.7h-0.7zM472.6,425.0h0.7v0.7h-0.7zM473.0,420.5h0.7v0.7h-0.7zM473.0,422.3h0.7v0.7h-0.7zM477.7,422.3h0.7v0.7h-0.7zM473.0,420.7h0.7v0.7h-0.7zM470.7,420.0h0.7v0.7h-0.7zM477.3,435.5h0.7v0.7h-0.7zM477.9,424.5h0.7v0.7h-0.7zM481.0,428.9h0.7v0.7h-0.7zM474.3,422.8h0.7v0.7h-0.7zM471.1,426.5h0.7v0.7h-0.7zM470.2,414.4h0.7v0.7h-0.7zM473.5,437.2h0.7v0.7h-0.7zM475.6,426.9h0.7v0.7h-0.7zM473.8,420.9h0.7v0.7h-0.7zM477.4,430.4h0.7v0.7h-0.7zM474.0,427.5h0.7v0.7h-0.7zM476.3,420.1h0.7v0.7h-0.7zM473.2,419.2h0.7v0.7h-0.7zM475.2,421.2h0.7v0.7h-0.7zM476.2,418.2h0.7v0.7h-0.7zM478.6,420.6h0.7v0.7h-0.7zM469.8,419.1h0.7v0.7h-0.7zM474.5,418.1h0.7v0.7h-0.7zM481.9,430.4h0.7v0.7h-0.7zM473.0,414.7h0.7v0.7h-0.7zM472.6,419.5h0.7v0.7h-0.7zM469.2,428.3h0.7v0.7h-0.7zM479.8,418.7h0.7v0.7h-0.7zM478.8,431.3h0.7v0.7h-0.7zM470.4,422.7h0.7v0.7h-0.7zM475.7,426.7h0.7v0.7h-0.7zM470.9,426.4h0.7v0.7h-0.7zM475.4,430.0h0.7v0.7h-0.7zM468.1,421.9h0.7v0.7h-0.7zM471.9,422.5h0.7v0.7h-0.7zM475.1,419.4h0.7v0.7h-0.7zM481.2,417.2h0.7v0.7h-0.7zM478.4,429.6h0.7v0.7h-0.7zM476.6,421.9h0.7v0.7h-0.7zM471.0,423.1h0.7v0.7h-0.7zM476.3,424.2h0.7v0.7h-0.7zM476.8,427.1h0.7v0.7h-0.7zM469.6,418.9h0.7v0.7h-0.7zM477.6,419.7h0.7v0.7h-0.7zM472.5,437.0h0.7v0.7h-0.7zM469.8,418.9h0.7v0.7h-0.7zM474.9,416.1h0.7v0.7h-0.7zM473.2,431.3h0.7v0.7h-0.7zM476.0,440.4h0.7v0.7h-0.7zM479.1,440.7h0.7v0.7h-0.7zM474.5,424.2h0.7v0.7h-0.7zM471.6,423.2h0.7v0.7h-0.7zM472.4,424.3h0.7v0.7h-0.7zM474.1,415.4h0.7v0.7h-0.7zM467.4,411.7h0.7v0.7h-0.7zM478.5,422.2h0.7v0.7h-0.7zM473.9,423.6h0.7v0.7h-0.7zM477.7,425.1h0.7v0.7h-0.7zM476.3,422.2h0.7v0.7h-0.7zM473.5,423.8h0.7v0.7h-0.7zM470.2,432.5h0.7v0.7h-0.7zM467.4,419.2h0.7v0.7h-0.7zM476.2,423.8h0.7v0.7h-0.7zM479.6,433.9h0.7v0.7h-0.7zM482.2,431.0h0.7v0.7h-0.7zM477.0,437.0h0.7v0.7h-0.7zM471.1,424.2h0.7v0.7h-0.7zM476.7,421.8h0.7v0.7h-0.7zM473.0,421.9h0.7v0.7h-0.7zM473.8,407.4h0.7v0.7h-0.7zM479.8,429.5h0.7v0.7h-0.7zM474.8,427.6h0.7v0.7h-0.7zM473.0,431.8h0.7v0.7h-0.7zM481.8,415.6h0.7v0.7h-0.7zM478.2,422.4h0.7v0.7h-0.7zM472.1,421.3h0.7v0.7h-0.7zM471.2,416.3h0.7v0.7h-0.7zM472.8,435.6h0.7v0.7h-0.7zM474.9,427.5h0.7v0.7h-0.7zM475.8,426.7h0.7v0.7h-0.7zM467.6,419.4h0.7v0.7h-0.7zM477.7,429.7h0.7v0.7h-0.7zM469.4,421.4h0.7v0.7h-0.7zM471.9,429.0h0.7v0.7h-0.7zM475.1,423.9h0.7v0.7h-0.7zM472.6,426.7h0.7v0.7h-0.7zM472.8,419.3h0.7v0.7h-0.7zM473.8,419.6h0.7v0.7h-0.7zM478.1,427.1h0.7v0.7h-0.7zM472.9,428.3h0.7v0.7h-0.7zM472.9,419.5h0.7v0.7h-0.7zM468.2,414.4h0.7v0.7h-0.7zM471.1,427.2h0.7v0.7h-0.7zM476.6,419.0h0.7v0.7h-0.7zM475.1,426.0h0.7v0.7h-0.7zM477.2,426.1h0.7v0.7h-0.7zM479.2,427.7h0.7v0.7h-0.7zM472.4,427.2h0.7v0.7h-0.7zM466.5,425.0h0.7v0.7h-0.7zM475.1,427.6h0.7v0.7h-0.7zM474.6,429.5h0.7v0.7h-0.7zM476.6,417.6h0.7v0.7h-0.7zM472.8,426.1h0.7v0.7h-0.7zM475.8,424.5h0.7v0.7h-0.7zM474.4,415.9h0.7v0.7h-0.7zM478.5,430.6h0.7v0.7h-0.7zM478.2,425.7h0.7v0.7h-0.7zM474.0,426.7h0.7v0.7h-0.7zM470.9,414.2h0.7v0.7h-0.7zM472.1,424.3h0.7v0.7h-0.7zM470.7,418.6h0.7v0.7h-0.7zM472.6,421.9h0.7v0.7h-0.7zM474.1,423.6h0.7v0.7h-0.7zM476.3,430.1h0.7v0.7h-0.7zM475.2,426.4h0.7v0.7h-0.7zM464.9,406.7h0.7v0.7h-0.7zM474.0,428.6h0.7v0.7h-0.7zM471.8,420.4h0.7v0.7h-0.7zM471.8,430.7h0.7v0.7h-0.7zM472.8,426.0h0.7v0.7h-0.7zM478.4,426.3h0.7v0.7h-0.7zM480.7,421.2h0.7v0.7h-0.7zM478.2,427.5h0.7v0.7h-0.7zM472.1,424.9h0.7v0.7h-0.7zM470.4,418.1h0.7v0.7h-0.7zM473.5,418.9h0.7v0.7h-0.7zM477.8,417.9h0.7v0.7h-0.7zM472.5,425.1h0.7v0.7h-0.7zM472.5,424.8h0.7v0.7h-0.7zM469.6,415.7h0.7v0.7h-0.7zM464.3,418.1h0.7v0.7h-0.7zM479.5,425.4h0.7v0.7h-0.7zM473.6,421.0h0.7v0.7h-0.7zM474.1,426.0h0.7v0.7h-0.7zM468.3,420.2h0.7v0.7h-0.7zM473.5,432.7h0.7v0.7h-0.7zM472.9,432.3h0.7v0.7h-0.7zM477.5,441.4h0.7v0.7h-0.7zM473.8,424.3h0.7v0.7h-0.7zM479.7,428.3h0.7v0.7h-0.7zM475.0,416.5h0.7v0.7h-0.7zM480.5,433.5h0.7v0.7h-0.7zM472.8,421.1h0.7v0.7h-0.7zM472.5,431.3h0.7v0.7h-0.7zM474.9,423.8h0.7v0.7h-0.7zM473.1,435.2h0.7v0.7h-0.7zM476.7,423.1h0.7v0.7h-0.7zM476.8,416.8h0.7v0.7h-0.7zM474.9,417.0h0.7v0.7h-0.7zM477.8,421.0h0.7v0.7h-0.7zM477.0,420.3h0.7v0.7h-0.7zM477.3,430.8h0.7v0.7h-0.7zM471.4,425.4h0.7v0.7h-0.7zM473.0,430.1h0.7v0.7h-0.7zM471.5,422.2h0.7v0.7h-0.7zM475.5,431.5h0.7v0.7h-0.7zM470.8,424.8h0.7v0.7h-0.7zM472.0,420.9h0.7v0.7h-0.7zM471.3,423.7h0.7v0.7h-0.7zM471.8,414.2h0.7v0.7h-0.7zM472.6,416.4h0.7v0.7h-0.7zM478.1,438.2h0.7v0.7h-0.7zM470.9,424.4h0.7v0.7h-0.7zM475.0,430.4h0.7v0.7h-0.7zM469.3,413.3h0.7v0.7h-0.7zM469.4,426.5h0.7v0.7h-0.7zM476.7,430.4h0.7v0.7h-0.7zM473.5,428.6h0.7v0.7h-0.7zM473.1,433.0h0.7v0.7h-0.7zM472.6,419.8h0.7v0.7h-0.7zM477.7,434.7h0.7v0.7h-0.7zM469.2,417.0h0.7v0.7h-0.7zM468.8,417.7h0.7v0.7h-0.7zM474.5,426.2h0.7v0.7h-0.7zM473.8,425.4h0.7v0.7h-0.7zM477.1,421.1h0.7v0.7h-0.7zM466.0,410.8h0.7v0.7h-0.7zM473.5,419.5h0.7v0.7h-0.7zM474.0,426.8h0.7v0.7h-0.7zM472.6,413.8h0.7v0.7h-0.7zM471.2,425.3h0.7v0.7h-0.7zM475.6,431.3h0.7v0.7h-0.7zM468.7,411.5h0.7v0.7h-0.7zM474.7,412.7h0.7v0.7h-0.7zM471.7,427.3h0.7v0.7h-0.7zM475.2,440.5h0.7v0.7h-0.7zM475.7,427.1h0.7v0.7h-0.7zM476.6,438.2h0.7v0.7h-0.7zM474.4,419.0h0.7v0.7h-0.7zM474.8,412.3h0.7v0.7h-0.7zM472.7,426.3h0.7v0.7h-0.7zM472.7,417.9h0.7v0.7h-0.7zM481.5,431.8h0.7v0.7h-0.7zM471.8,427.2h0.7v0.7h-0.7zM471.3,421.9h0.7v0.7h-0.7zM477.3,423.9h0.7v0.7h-0.7zM473.9,424.7h0.7v0.7h-0.7zM472.6,432.7h0.7v0.7h-0.7zM474.0,432.8h0.7v0.7h-0.7zM471.8,421.6h0.7v0.7h-0.7zM478.9,423.9h0.7v0.7h-0.7zM471.1,421.2h0.7v0.7h-0.7zM479.2,435.2h0.7v0.7h-0.7zM475.2,421.0h0.7v0.7h-0.7zM469.3,420.8h0.7v0.7h-0.7zM474.1,425.6h0.7v0.7h-0.7zM474.3,432.6h0.7v0.7h-0.7zM469.8,420.4h0.7v0.7h-0.7zM476.4,426.6h0.7v0.7h-0.7zM474.5,430.4h0.7v0.7h-0.7zM472.6,435.5h0.7v0.7h-0.7zM484.2,434.3h0.7v0.7h-0.7zM477.9,436.2h0.7v0.7h-0.7zM476.6,432.3h0.7v0.7h-0.7zM473.7,425.4h0.7v0.7h-0.7zM472.5,412.6h0.7v0.7h-0.7zM476.4,434.9h0.7v0.7h-0.7zM465.7,429.0h0.7v0.7h-0.7zM477.4,425.2h0.7v0.7h-0.7zM477.1,432.5h0.7v0.7h-0.7zM471.6,411.9h0.7v0.7h-0.7zM470.6,423.0h0.7v0.7h-0.7zM473.6,421.1h0.7v0.7h-0.7zM476.7,434.5h0.7v0.7h-0.7zM467.1,433.8h0.7v0.7h-0.7zM478.0,426.9h0.7v0.7h-0.7zM474.2,424.4h0.7v0.7h-0.7zM475.6,425.2h0.7v0.7h-0.7zM473.2,429.5h0.7v0.7h-0.7zM471.4,424.5h0.7v0.7h-0.7zM470.8,417.1h0.7v0.7h-0.7zM475.7,423.0h0.7v0.7h-0.7zM470.3,424.5h0.7v0.7h-0.7zM472.3,434.2h0.7v0.7h-0.7zM479.1,435.9h0.7v0.7h-0.7zM473.5,428.9h0.7v0.7h-0.7zM469.5,419.5h0.7v0.7h-0.7zM474.5,426.6h0.7v0.7h-0.7zM476.4,421.5h0.7v0.7h-0.7zM479.1,429.0h0.7v0.7h-0.7zM471.0,423.7h0.7v0.7h-0.7zM474.2,435.4h0.7v0.7h-0.7zM473.9,430.0h0.7v0.7h-0.7zM476.3,421.6h0.7v0.7h-0.7zM473.1,426.6h0.7v0.7h-0.7zM469.4,416.8h0.7v0.7h-0.7zM471.6,427.0h0.7v0.7h-0.7zM477.7,434.8h0.7v0.7h-0.7zM469.3,428.7h0.7v0.7h-0.7zM472.5,432.2h0.7v0.7h-0.7zM476.4,424.2h0.7v0.7h-0.7zM477.8,420.4h0.7v0.7h-0.7zM470.5,417.9h0.7v0.7h-0.7zM472.2,425.3h0.7v0.7h-0.7zM478.3,431.4h0.7v0.7h-0.7zM471.9,419.7h0.7v0.7h-0.7zM472.2,421.6h0.7v0.7h-0.7zM471.9,421.9h0.7v0.7h-0.7zM471.2,424.4h0.7v0.7h-0.7zM472.1,423.4h0.7v0.7h-0.7zM470.0,426.1h0.7v0.7h-0.7zM476.9,427.5h0.7v0.7h-0.7zM470.3,417.4h0.7v0.7h-0.7zM467.9,417.9h0.7v0.7h-0.7zM471.5,422.6h0.7v0.7h-0.7zM469.8,429.7h0.7v0.7h-0.7zM468.1,421.1h0.7v0.7h-0.7zM473.3,429.8h0.7v0.7h-0.7zM479.0,420.2h0.7v0.7h-0.7zM472.5,421.8h0.7v0.7h-0.7zM473.1,423.1h0.7v0.7h-0.7zM479.6,415.1h0.7v0.7h-0.7zM472.3,419.2h0.7v0.7h-0.7zM474.2,420.5h0.7v0.7h-0.7zM473.8,416.8h0.7v0.7h-0.7zM480.8,423.4h0.7v0.7h-0.7zM469.9,429.9h0.7v0.7h-0.7zM470.5,417.3h0.7v0.7h-0.7zM474.4,420.4h0.7v0.7h-0.7zM475.3,420.0h0.7v0.7h-0.7zM477.0,424.1h0.7v0.7h-0.7zM475.4,424.7h0.7v0.7h-0.7zM472.2,422.1h0.7v0.7h-0.7zM476.6,428.0h0.7v0.7h-0.7zM476.7,438.2h0.7v0.7h-0.7zM477.1,415.5h0.7v0.7h-0.7zM477.2,422.6h0.7v0.7h-0.7zM473.3,418.9h0.7v0.7h-0.7zM477.6,417.5h0.7v0.7h-0.7zM472.5,419.6h0.7v0.7h-0.7zM482.1,430.0h0.7v0.7h-0.7zM469.2,422.4h0.7v0.7h-0.7zM474.3,421.0h0.7v0.7h-0.7zM471.0,417.7h0.7v0.7h-0.7zM472.8,417.1h0.7v0.7h-0.7zM480.8,438.0h0.7v0.7h-0.7zM475.9,434.4h0.7v0.7h-0.7zM474.0,419.6h0.7v0.7h-0.7zM471.3,418.4h0.7v0.7h-0.7zM475.6,428.2h0.7v0.7h-0.7zM476.3,421.5h0.7v0.7h-0.7zM470.2,424.6h0.7v0.7h-0.7zM479.6,424.3h0.7v0.7h-0.7zM470.1,411.3h0.7v0.7h-0.7zM473.7,427.7h0.7v0.7h-0.7zM473.5,433.1h0.7v0.7h-0.7zM470.7,419.2h0.7v0.7h-0.7zM472.1,423.9h0.7v0.7h-0.7zM476.0,419.7h0.7v0.7h-0.7zM468.5,425.1h0.7v0.7h-0.7zM478.3,433.0h0.7v0.7h-0.7zM473.2,434.1h0.7v0.7h-0.7zM476.9,426.2h0.7v0.7h-0.7zM470.1,419.3h0.7v0.7h-0.7zM472.8,430.6h0.7v0.7h-0.7zM476.6,430.4h0.7v0.7h-0.7zM479.5,422.6h0.7v0.7h-0.7zM477.2,435.8h0.7v0.7h-0.7zM469.3,422.4h0.7v0.7h-0.7zM472.2,422.0h0.7v0.7h-0.7zM473.0,418.8h0.7v0.7h-0.7zM475.1,414.7h0.7v0.7h-0.7zM468.6,414.4h0.7v0.7h-0.7zM470.8,428.8h0.7v0.7h-0.7zM475.6,422.3h0.7v0.7h-0.7zM477.7,427.1h0.7v0.7h-0.7zM472.2,424.3h0.7v0.7h-0.7zM478.7,436.0h0.7v0.7h-0.7zM473.3,426.7h0.7v0.7h-0.7zM477.8,431.0h0.7v0.7h-0.7zM477.2,430.2h0.7v0.7h-0.7zM470.3,423.3h0.7v0.7h-0.7zM468.1,425.4h0.7v0.7h-0.7zM481.5,423.5h0.7v0.7h-0.7zM474.7,425.6h0.7v0.7h-0.7zM472.1,415.8h0.7v0.7h-0.7zM471.6,423.6h0.7v0.7h-0.7zM473.0,418.6h0.7v0.7h-0.7zM472.4,419.6h0.7v0.7h-0.7zM468.9,421.2h0.7v0.7h-0.7zM473.0,429.9h0.7v0.7h-0.7zM479.1,426.4h0.7v0.7h-0.7zM472.4,420.8h0.7v0.7h-0.7zM468.3,422.2h0.7v0.7h-0.7zM480.8,429.7h0.7v0.7h-0.7zM474.3,422.3h0.7v0.7h-0.7zM474.8,426.6h0.7v0.7h-0.7zM474.7,426.7h0.7v0.7h-0.7zM471.8,425.0h0.7v0.7h-0.7zM474.8,430.9h0.7v0.7h-0.7zM472.5,433.0h0.7v0.7h-0.7zM472.9,421.0h0.7v0.7h-0.7zM474.3,424.8h0.7v0.7h-0.7zM474.1,426.8h0.7v0.7h-0.7zM469.3,414.2h0.7v0.7h-0.7zM476.1,423.3h0.7v0.7h-0.7z" fill="#2e2e2e"/>
<path d="M482.4,424.9h0.7v0.7h-0.7zM467.7,436.2h0.7v0.7h-0.7zM472.1,429.2h0.7v0.7h-0.7zM486.5,429.6h0.7v0.7h-0.7zM468.9,424.8h0.7v0.7h-0.7zM468.2,431.3h0.7v0.7h-0.7zM474.3,415.4h0.7v0.7h-0.7zM478.1,430.7h0.7v0.7h-0.7zM476.2,417.9h0.7v0.7h-0.7zM468.4,416.3h0.7v0.7h-0.7zM468.9,428.2h0.7v0.7h-0.7zM477.1,434.0h0.7v0.7h-0.7zM474.5,421.2h0.7v0.7h-0.7zM471.0,437.8h0.7v0.7h-0.7zM474.7,423.6h0.7v0.7h-0.7zM467.2,417.3h0.7v0.7h-0.7zM474.7,415.8h0.7v0.7h-0.7zM478.1,428.1h0.7v0.7h-0.7zM468.7,412.1h0.7v0.7h-0.7zM479.0,434.3h0.7v0.7h-0.7zM467.5,415.5h0.7v0.7h-0.7zM479.3,423.7h0.7v0.7h-0.7zM473.9,434.3h0.7v0.7h-0.7zM473.8,427.9h0.7v0.7h-0.7zM470.5,418.8h0.7v0.7h-0.7zM473.1,417.2h0.7v0.7h-0.7zM464.8,422.2h0.7v0.7h-0.7zM482.0,430.9h0.7v0.7h-0.7zM486.1,428.8h0.7v0.7h-0.7zM481.9,423.9h0.7v0.7h-0.7zM473.1,428.2h0.7v0.7h-0.7zM471.3,430.9h0.7v0.7h-0.7zM472.6,426.6h0.7v0.7h-0.7zM469.9,424.2h0.7v0.7h-0.7zM478.0,421.1h0.7v0.7h-0.7zM471.6,427.1h0.7v0.7h-0.7zM477.6,421.5h0.7v0.7h-0.7zM465.3,413.7h0.7v0.7h-0.7zM470.3,434.0h0.7v0.7h-0.7zM474.7,427.8h0.7v0.7h-0.7zM479.5,424.9h0.7v0.7h-0.7zM475.1,419.6h0.7v0.7h-0.7zM468.1,431.0h0.7v0.7h-0.7zM474.9,428.6h0.7v0.7h-0.7zM468.9,424.4h0.7v0.7h-0.7zM481.3,415.0h0.7v0.7h-0.7zM477.3,434.0h0.7v0.7h-0.7zM473.3,425.3h0.7v0.7h-0.7zM466.1,432.8h0.7v0.7h-0.7zM474.9,434.5h0.7v0.7h-0.7zM472.8,421.4h0.7v0.7h-0.7zM475.5,421.7h0.7v0.7h-0.7zM475.1,436.5h0.7v0.7h-0.7zM478.7,423.6h0.7v0.7h-0.7zM479.5,429.3h0.7v0.7h-0.7zM476.8,423.7h0.7v0.7h-0.7zM475.2,427.1h0.7v0.7h-0.7zM477.4,426.1h0.7v0.7h-0.7zM471.4,424.2h0.7v0.7h-0.7zM473.9,416.0h0.7v0.7h-0.7zM475.6,429.9h0.7v0.7h-0.7zM474.2,421.7h0.7v0.7h-0.7zM472.9,420.5h0.7v0.7h-0.7zM477.6,420.0h0.7v0.7h-0.7zM463.9,417.1h0.7v0.7h-0.7zM475.8,425.3h0.7v0.7h-0.7zM469.0,414.8h0.7v0.7h-0.7zM471.5,417.9h0.7v0.7h-0.7zM471.1,425.0h0.7v0.7h-0.7zM471.2,427.5h0.7v0.7h-0.7zM469.7,421.6h0.7v0.7h-0.7zM476.2,435.5h0.7v0.7h-0.7zM483.2,429.2h0.7v0.7h-0.7zM470.7,425.1h0.7v0.7h-0.7zM479.9,429.0h0.7v0.7h-0.7zM466.6,425.8h0.7v0.7h-0.7zM472.3,430.7h0.7v0.7h-0.7zM475.7,419.2h0.7v0.7h-0.7zM483.1,419.2h0.7v0.7h-0.7zM484.7,419.7h0.7v0.7h-0.7zM477.8,438.6h0.7v0.7h-0.7zM470.6,421.2h0.7v0.7h-0.7zM480.6,421.9h0.7v0.7h-0.7zM473.5,414.0h0.7v0.7h-0.7zM484.2,429.2h0.7v0.7h-0.7zM477.2,429.0h0.7v0.7h-0.7zM470.8,421.2h0.7v0.7h-0.7zM467.7,428.9h0.7v0.7h-0.7zM481.5,429.0h0.7v0.7h-0.7zM479.7,428.3h0.7v0.7h-0.7zM467.1,415.5h0.7v0.7h-0.7zM477.3,424.5h0.7v0.7h-0.7zM477.9,420.8h0.7v0.7h-0.7zM471.0,428.6h0.7v0.7h-0.7zM468.0,412.5h0.7v0.7h-0.7zM469.4,418.3h0.7v0.7h-0.7zM467.8,421.4h0.7v0.7h-0.7zM483.4,440.6h0.7v0.7h-0.7zM480.9,418.8h0.7v0.7h-0.7zM479.0,422.1h0.7v0.7h-0.7zM474.4,418.5h0.7v0.7h-0.7zM470.1,411.6h0.7v0.7h-0.7zM480.5,416.1h0.7v0.7h-0.7zM475.4,419.0h0.7v0.7h-0.7zM472.7,414.9h0.7v0.7h-0.7zM474.3,431.5h0.7v0.7h-0.7zM472.5,408.8h0.7v0.7h-0.7zM475.1,413.2h0.7v0.7h-0.7zM476.4,427.7h0.7v0.7h-0.7zM470.5,422.6h0.7v0.7h-0.7zM473.8,427.5h0.7v0.7h-0.7zM481.1,433.2h0.7v0.7h-0.7zM479.8,438.7h0.7v0.7h-0.7zM473.6,438.7h0.7v0.7h-0.7zM474.5,430.2h0.7v0.7h-0.7zM473.6,424.9h0.7v0.7h-0.7zM470.7,428.2h0.7v0.7h-0.7zM483.5,422.6h0.7v0.7h-0.7zM474.0,424.2h0.7v0.7h-0.7zM476.8,421.7h0.7v0.7h-0.7zM474.5,425.8h0.7v0.7h-0.7zM482.0,429.6h0.7v0.7h-0.7zM467.9,420.8h0.7v0.7h-0.7zM476.0,430.5h0.7v0.7h-0.7zM478.0,421.3h0.7v0.7h-0.7zM483.3,420.1h0.7v0.7h-0.7zM483.5,433.0h0.7v0.7h-0.7zM481.7,423.6h0.7v0.7h-0.7zM473.3,411.9h0.7v0.7h-0.7zM464.7,421.9h0.7v0.7h-0.7zM479.6,431.2h0.7v0.7h-0.7zM475.8,432.0h0.7v0.7h-0.7zM479.9,434.8h0.7v0.7h-0.7zM465.1,420.0h0.7v0.7h-0.7zM467.5,417.6h0.7v0.7h-0.7zM479.5,415.1h0.7v0.7h-0.7zM469.4,422.2h0.7v0.7h-0.7zM477.0,419.5h0.7v0.7h-0.7zM478.5,427.3h0.7v0.7h-0.7zM466.1,407.3h0.7v0.7h-0.7zM467.2,416.0h0.7v0.7h-0.7zM479.9,416.6h0.7v0.7h-0.7zM470.0,428.3h0.7v0.7h-0.7zM472.3,417.1h0.7v0.7h-0.7zM481.0,429.6h0.7v0.7h-0.7zM473.7,418.1h0.7v0.7h-0.7zM465.7,409.9h0.7v0.7h-0.7zM476.6,426.6h0.7v0.7h-0.7zM469.9,425.5h0.7v0.7h-0.7zM486.4,411.4h0.7v0.7h-0.7zM467.6,430.9h0.7v0.7h-0.7zM471.0,421.0h0.7v0.7h-0.7zM476.6,422.3h0.7v0.7h-0.7zM479.6,426.7h0.7v0.7h-0.7zM479.5,423.5h0.7v0.7h-0.7zM467.2,437.1h0.7v0.7h-0.7zM468.6,434.1h0.7v0.7h-0.7zM472.2,413.4h0.7v0.7h-0.7zM476.2,430.6h0.7v0.7h-0.7zM469.5,425.8h0.7v0.7h-0.7zM468.5,417.6h0.7v0.7h-0.7zM474.0,434.5h0.7v0.7h-0.7zM477.1,423.0h0.7v0.7h-0.7zM473.9,425.2h0.7v0.7h-0.7zM475.7,425.1h0.7v0.7h-0.7zM468.2,433.2h0.7v0.7h-0.7zM464.5,405.7h0.7v0.7h-0.7zM474.6,414.1h0.7v0.7h-0.7zM473.2,423.6h0.7v0.7h-0.7zM472.5,428.9h0.7v0.7h-0.7zM472.2,422.4h0.7v0.7h-0.7zM469.1,423.2h0.7v0.7h-0.7zM469.4,425.8h0.7v0.7h-0.7zM482.2,429.9h0.7v0.7h-0.7zM473.0,413.3h0.7v0.7h-0.7zM480.7,429.7h0.7v0.7h-0.7zM478.5,404.5h0.7v0.7h-0.7zM473.4,421.6h0.7v0.7h-0.7zM476.6,414.5h0.7v0.7h-0.7zM477.3,442.0h0.7v0.7h-0.7z" fill="#777"/>
<path d="M470.4,426.2h0.7v0.7h-0.7zM457.9,411.6h0.7v0.7h-0.7zM472.0,372.4h0.7v0.7h-0.7zM457.7,421.8h0.7v0.7h-0.7zM493.3,388.7h0.7v0.7h-0.7zM492.1,386.6h0.7v0.7h-0.7zM474.9,399.8h0.7v0.7h-0.7zM445.4,406.3h0.7v0.7h-0.7zM453.7,384.0h0.7v0.7h-0.7zM453.6,381.6h0.7v0.7h-0.7zM487.5,401.5h0.7v0.7h-0.7zM475.0,395.1h0.7v0.7h-0.7zM471.3,395.1h0.7v0.7h-0.7zM471.5,419.5h0.7v0.7h-0.7zM474.6,430.9h0.7v0.7h-0.7zM443.2,395.1h0.7v0.7h-0.7zM457.9,423.7h0.7v0.7h-0.7zM484.4,395.5h0.7v0.7h-0.7zM450.4,398.0h0.7v0.7h-0.7zM449.5,429.7h0.7v0.7h-0.7z" fill="#bbb"/>
<line x1="418.5" y1="377.384" x2="420" y2="377.384" stroke="#666" stroke-width="0.5"/>
<line x1="418.5" y1="390.525" x2="420" y2="390.525" stroke="#666" stroke-width="0.5"/>
<line x1="418.5" y1="403.666" x2="420" y2="403.666" stroke="#666" stroke-width="0.5"/>
<line x1="418.5" y1="417.58" x2="420" y2="417.58" stroke="#666" stroke-width="0.5"/>
<line x1="418.5" y1="429.175" x2="420" y2="429.175" stroke="#666" stroke-width="0.5"/>
<line x1="431.85" y1="448.5" x2="431.85" y2="450.0" stroke="#666" stroke-width="0.5"/>
<line x1="443.7" y1="448.5" x2="443.7" y2="450.0" stroke="#666" stroke-width="0.5"/>
<line x1="455.55" y1="448.5" x2="455.55" y2="450.0" stroke="#666" stroke-width="0.5"/>
<line x1="468.98" y1="448.5" x2="468.98" y2="450.0" stroke="#666" stroke-width="0.5"/>
<line x1="483.2" y1="448.5" x2="483.2" y2="450.0" stroke="#666" stroke-width="0.5"/>
<line x1="495.05" y1="448.5" x2="495.05" y2="450.0" stroke="#666" stroke-width="0.5"/>
<text x="313.0" y="380.4" font-family="Liberation Sans" font-size="4.6" font-weight="normal" text-anchor="end" fill="#444">10</text>
<text x="314.6" y="377.9" font-family="Liberation Sans" font-size="3.2" font-weight="normal" text-anchor="end" fill="#444">5</text>
<text x="313.0" y="393.4" font-family="Liberation Sans" font-size="4.6" font-weight="normal" text-anchor="end" fill="#444">10</text>
<text x="314.6" y="390.9" font-family="Liberation Sans" font-size="3.2" font-weight="normal" text-anchor="end" fill="#444">4</text>
<text x="313.0" y="406.4" font-family="Liberation Sans" font-size="4.6" font-weight="normal" text-anchor="end" fill="#444">10</text>
<text x="314.6" y="403.9" font-family="Liberation Sans" font-size="3.2" font-weight="normal" text-anchor="end" fill="#444">3</text>
<text x="313.0" y="420.4" font-family="Liberation Sans" font-size="4.6" font-weight="normal" text-anchor="end" fill="#444">10</text>
<text x="314.6" y="417.9" font-family="Liberation Sans" font-size="3.2" font-weight="normal" text-anchor="end" fill="#444">2</text>
<text x="314.6" y="431.20000000000005" font-family="Liberation Sans" font-size="4.6" font-weight="normal" text-anchor="end" fill="#444">0</text>
<text x="416.79999999999995" y="380.4" font-family="Liberation Sans" font-size="4.6" font-weight="normal" text-anchor="end" fill="#444">10</text>
<text x="418.4" y="377.9" font-family="Liberation Sans" font-size="3.2" font-weight="normal" text-anchor="end" fill="#444">5</text>
<text x="416.79999999999995" y="393.4" font-family="Liberation Sans" font-size="4.6" font-weight="normal" text-anchor="end" fill="#444">10</text>
<text x="418.4" y="390.9" font-family="Liberation Sans" font-size="3.2" font-weight="normal" text-anchor="end" fill="#444">4</text>
<text x="416.79999999999995" y="406.4" font-family="Liberation Sans" font-size="4.6" font-weight="normal" text-anchor="end" fill="#444">10</text>
<text x="418.4" y="403.9" font-family="Liberation Sans" font-size="3.2" font-weight="normal" text-anchor="end" fill="#444">3</text>
<text x="416.79999999999995" y="420.4" font-family="Liberation Sans" font-size="4.6" font-weight="normal" text-anchor="end" fill="#444">10</text>
<text x="418.4" y="417.9" font-family="Liberation Sans" font-size="3.2" font-weight="normal" text-anchor="end" fill="#444">2</text>
<text x="418.4" y="431.20000000000005" font-family="Liberation Sans" font-size="4.6" font-weight="normal" text-anchor="end" fill="#444">0</text>
<text x="335.168" y="455.2" font-family="Liberation Sans" font-size="4.6" font-weight="normal" text-anchor="middle" fill="#444">0</text>
<text x="351.87199999999996" y="455.8" font-family="Liberation Sans" font-size="4.6" font-weight="normal" text-anchor="end" fill="#444">10</text>
<text x="351.972" y="453.4" font-family="Liberation Sans" font-size="3.2" font-weight="normal" text-anchor="start" fill="#444">2</text>
<text x="366.56" y="455.8" font-family="Liberation Sans" font-size="4.6" font-weight="normal" text-anchor="end" fill="#444">10</text>
<text x="366.66" y="453.4" font-family="Liberation Sans" font-size="3.2" font-weight="normal" text-anchor="start" fill="#444">3</text>
<text x="380.43199999999996" y="455.8" font-family="Liberation Sans" font-size="4.6" font-weight="normal" text-anchor="end" fill="#444">10</text>
<text x="380.532" y="453.4" font-family="Liberation Sans" font-size="3.2" font-weight="normal" text-anchor="start" fill="#444">4</text>
<text x="394.304" y="455.8" font-family="Liberation Sans" font-size="4.6" font-weight="normal" text-anchor="end" fill="#444">10</text>
<text x="394.404" y="453.4" font-family="Liberation Sans" font-size="3.2" font-weight="normal" text-anchor="start" fill="#444">5</text>
<text x="438.17" y="455.2" font-family="Liberation Sans" font-size="4.6" font-weight="normal" text-anchor="middle" fill="#444">0</text>
<text x="454.38" y="455.8" font-family="Liberation Sans" font-size="4.6" font-weight="normal" text-anchor="end" fill="#444">10</text>
<text x="454.48" y="453.4" font-family="Liberation Sans" font-size="3.2" font-weight="normal" text-anchor="start" fill="#444">2</text>
<text x="468.59999999999997" y="455.8" font-family="Liberation Sans" font-size="4.6" font-weight="normal" text-anchor="end" fill="#444">10</text>
<text x="468.7" y="453.4" font-family="Liberation Sans" font-size="3.2" font-weight="normal" text-anchor="start" fill="#444">3</text>
<text x="482.03" y="455.8" font-family="Liberation Sans" font-size="4.6" font-weight="normal" text-anchor="end" fill="#444">10</text>
<text x="482.13" y="453.4" font-family="Liberation Sans" font-size="3.2" font-weight="normal" text-anchor="start" fill="#444">4</text>
<text x="495.46" y="455.8" font-family="Liberation Sans" font-size="4.6" font-weight="normal" text-anchor="end" fill="#444">10</text>
<text x="495.56" y="453.4" font-family="Liberation Sans" font-size="3.2" font-weight="normal" text-anchor="start" fill="#444">5</text>
<rect x="314.70000000000005" y="428.70000000000005" width="1.8" height="1.8" fill="#222" stroke="none" stroke-width="1"/>
<rect x="334.20000000000005" y="448.3" width="1.8" height="1.8" fill="#222" stroke="none" stroke-width="1"/>
<rect x="418.3" y="427.90000000000003" width="1.8" height="1.8" fill="#222" stroke="none" stroke-width="1"/>
<rect x="437.90000000000003" y="447.90000000000003" width="1.8" height="1.8" fill="#222" stroke="none" stroke-width="1"/>
<text x="27.8" y="589.3" font-family="Liberation Sans" font-size="11.1" font-weight="bold" text-anchor="middle" fill="#000" textLength="119.5" lengthAdjust="spacingAndGlyphs" transform="rotate(-90 27.8 589.3)">Donor derived cells (%)</text>
<line x1="49.8" y1="544.3" x2="49.8" y2="640.1999999999999" stroke="#000" stroke-width="1.9"/>
<line x1="49.8" y1="639.3" x2="234" y2="639.3" stroke="#000" stroke-width="1.9"/>
<line x1="47.3" y1="639.3" x2="49.8" y2="639.3" stroke="#000" stroke-width="1.5"/>
<text x="46.9" y="642.8" font-family="Liberation Sans" font-size="9.5" font-weight="bold" text-anchor="end" fill="#000">0</text>
<line x1="47.3" y1="620.4" x2="49.8" y2="620.4" stroke="#000" stroke-width="1.5"/>
<text x="46.9" y="623.9" font-family="Liberation Sans" font-size="9.5" font-weight="bold" text-anchor="end" fill="#000">20</text>
<line x1="47.3" y1="601.5" x2="49.8" y2="601.5" stroke="#000" stroke-width="1.5"/>
<text x="46.9" y="605.0" font-family="Liberation Sans" font-size="9.5" font-weight="bold" text-anchor="end" fill="#000">40</text>
<line x1="47.3" y1="582.5999999999999" x2="49.8" y2="582.5999999999999" stroke="#000" stroke-width="1.5"/>
<text x="46.9" y="586.0999999999999" font-family="Liberation Sans" font-size="9.5" font-weight="bold" text-anchor="end" fill="#000">60</text>
<line x1="47.3" y1="563.6999999999999" x2="49.8" y2="563.6999999999999" stroke="#000" stroke-width="1.5"/>
<text x="46.9" y="567.1999999999999" font-family="Liberation Sans" font-size="9.5" font-weight="bold" text-anchor="end" fill="#000">80</text>
<line x1="47.3" y1="544.8" x2="49.8" y2="544.8" stroke="#000" stroke-width="1.5"/>
<text x="46.9" y="548.3" font-family="Liberation Sans" font-size="9.5" font-weight="bold" text-anchor="end" fill="#000">100</text>
<line x1="80.5" y1="599.6" x2="142.3" y2="593.5" stroke="#000" stroke-width="1.4"/>
<line x1="142.3" y1="593.5" x2="203.6" y2="581.2" stroke="#000" stroke-width="1.4"/>
<line x1="80.5" y1="585.5" x2="80.5" y2="614.2" stroke="#111" stroke-width="1.1"/>
<line x1="78.4" y1="585.5" x2="82.6" y2="585.5" stroke="#111" stroke-width="1.1"/>
<line x1="78.4" y1="614.2" x2="82.6" y2="614.2" stroke="#111" stroke-width="1.1"/>
<circle cx="80.5" cy="599.6" r="1.7" fill="#000" stroke="none" stroke-width="1"/>
<line x1="142.3" y1="578.1" x2="142.3" y2="608.5" stroke="#555" stroke-width="1.1"/>
<line x1="140.20000000000002" y1="578.1" x2="144.4" y2="578.1" stroke="#555" stroke-width="1.1"/>
<line x1="140.20000000000002" y1="608.5" x2="144.4" y2="608.5" stroke="#555" stroke-width="1.1"/>
<circle cx="142.3" cy="593.5" r="1.7" fill="#000" stroke="none" stroke-width="1"/>
<line x1="203.6" y1="555.2" x2="203.6" y2="607.1" stroke="#111" stroke-width="1.1"/>
<line x1="201.5" y1="555.2" x2="205.7" y2="555.2" stroke="#111" stroke-width="1.1"/>
<line x1="201.5" y1="607.1" x2="205.7" y2="607.1" stroke="#111" stroke-width="1.1"/>
<circle cx="203.6" cy="581.2" r="1.7" fill="#000" stroke="none" stroke-width="1"/>
<line x1="80.5" y1="638.6" x2="203.6" y2="637.8" stroke="#888" stroke-width="1.1"/>
<line x1="80.5" y1="636" x2="80.5" y2="642" stroke="#222" stroke-width="1.1"/>
<line x1="142.3" y1="636" x2="142.3" y2="642" stroke="#222" stroke-width="1.1"/>
<line x1="203.6" y1="634.3" x2="203.6" y2="642" stroke="#444" stroke-width="1.0"/>
<line x1="201.6" y1="634.3" x2="205.6" y2="634.3" stroke="#888" stroke-width="1.0"/>
<path d="M201.6,635.2 L205.6,635.2 L203.6,637.6 Z" fill="#888" stroke="none" stroke-width="1"/>
<text x="87.8" y="629.96" font-family="Liberation Sans" font-size="12" font-weight="normal" text-anchor="middle" fill="#3a3a3a" textLength="13.2" lengthAdjust="spacingAndGlyphs">***</text>
<text x="140.5" y="634.76" font-family="Liberation Sans" font-size="12" font-weight="normal" text-anchor="middle" fill="#3a3a3a" textLength="13.2" lengthAdjust="spacingAndGlyphs">***</text>
<text x="203.5" y="633.36" font-family="Liberation Sans" font-size="12" font-weight="normal" text-anchor="middle" fill="#3a3a3a" textLength="13.2" lengthAdjust="spacingAndGlyphs">***</text>
<text x="63.9" y="649.9" font-family="Liberation Sans" font-size="8.9" font-weight="bold" text-anchor="start" fill="#000" textLength="32.4" lengthAdjust="spacingAndGlyphs">4 weeks</text>
<text x="125.9" y="649.9" font-family="Liberation Sans" font-size="8.9" font-weight="bold" text-anchor="start" fill="#000" textLength="32.1" lengthAdjust="spacingAndGlyphs">8 weeks</text>
<text x="163.8" y="649.5" font-family="Liberation Sans" font-size="8.9" font-weight="bold" text-anchor="start" fill="#000" textLength="78.4" lengthAdjust="spacingAndGlyphs">later than 16 weeks</text>
<line x1="212" y1="528.7" x2="220.8" y2="528.7" stroke="#000" stroke-width="1.3"/>
<circle cx="216.4" cy="528.7" r="1.8" fill="#000" stroke="none" stroke-width="1"/>
<line x1="212" y1="539.8" x2="220.8" y2="539.8" stroke="#666" stroke-width="1"/>
<path d="M214.4,538.6 L218.4,538.6 L216.4,541.2 Z" fill="#fff" stroke="#666" stroke-width="0.8"/>
<text x="225.6" y="532.3" font-family="Liberation Sans" font-size="9.8" font-weight="bold" text-anchor="start" fill="#000" textLength="35.6" lengthAdjust="spacingAndGlyphs">fl/fl:cre-</text>
<text x="225.6" y="543.4" font-family="Liberation Sans" font-size="9.8" font-weight="bold" text-anchor="start" fill="#000" textLength="37.1" lengthAdjust="spacingAndGlyphs">fl/fl:cre+</text>
<text x="304.6" y="586.75" font-family="Liberation Sans" font-size="11" font-weight="bold" text-anchor="middle" fill="#000" textLength="116.3" lengthAdjust="spacingAndGlyphs" transform="rotate(-90 304.6 586.75)">Donor derived cells (%)</text>
<line x1="328.4" y1="540.5" x2="328.4" y2="638.9" stroke="#222" stroke-width="1.2"/>
<line x1="328.4" y1="638.3" x2="483.8" y2="638.3" stroke="#222" stroke-width="1.2"/>
<line x1="326.4" y1="638.3" x2="328.4" y2="638.3" stroke="#222" stroke-width="1.2"/>
<text x="325.9" y="641.6999999999999" font-family="Liberation Sans" font-size="9.6" font-weight="bold" text-anchor="end" fill="#000">0</text>
<line x1="326.4" y1="618.8399999999999" x2="328.4" y2="618.8399999999999" stroke="#222" stroke-width="1.2"/>
<text x="325.9" y="622.2399999999999" font-family="Liberation Sans" font-size="9.6" font-weight="bold" text-anchor="end" fill="#000">20</text>
<line x1="326.4" y1="599.38" x2="328.4" y2="599.38" stroke="#222" stroke-width="1.2"/>
<text x="325.9" y="602.78" font-family="Liberation Sans" font-size="9.6" font-weight="bold" text-anchor="end" fill="#000">40</text>
<line x1="326.4" y1="579.92" x2="328.4" y2="579.92" stroke="#222" stroke-width="1.2"/>
<text x="325.9" y="583.3199999999999" font-family="Liberation Sans" font-size="9.6" font-weight="bold" text-anchor="end" fill="#000">60</text>
<line x1="326.4" y1="560.46" x2="328.4" y2="560.46" stroke="#222" stroke-width="1.2"/>
<text x="325.9" y="563.86" font-family="Liberation Sans" font-size="9.6" font-weight="bold" text-anchor="end" fill="#000">80</text>
<line x1="326.4" y1="541.0" x2="328.4" y2="541.0" stroke="#222" stroke-width="1.2"/>
<text x="325.9" y="544.4" font-family="Liberation Sans" font-size="9.6" font-weight="bold" text-anchor="end" fill="#000">100</text>
<rect x="338" y="597.9205" width="13.300000000000011" height="40.37949999999998" fill="#000" stroke="none" stroke-width="1"/>
<line x1="344.34999999999997" y1="563.379" x2="344.34999999999997" y2="597.9205" stroke="#000" stroke-width="1.1"/>
<line x1="340.95" y1="563.379" x2="347.74999999999994" y2="563.379" stroke="#000" stroke-width="1.2"/>
<rect x="389.5" y="565.325" width="13.800000000000011" height="72.97499999999997" fill="#000" stroke="none" stroke-width="1"/>
<line x1="396.09999999999997" y1="547.811" x2="396.09999999999997" y2="565.325" stroke="#000" stroke-width="1.1"/>
<line x1="392.7" y1="547.811" x2="399.49999999999994" y2="547.811" stroke="#000" stroke-width="1.2"/>
<rect x="441.3" y="564.352" width="13.699999999999989" height="73.94799999999996" fill="#000" stroke="none" stroke-width="1"/>
<line x1="447.84999999999997" y1="545.865" x2="447.84999999999997" y2="564.352" stroke="#000" stroke-width="1.1"/>
<line x1="444.45" y1="545.865" x2="451.24999999999994" y2="545.865" stroke="#000" stroke-width="1.2"/>
<rect x="357" y="637.0999999999999" width="14.300000000000011" height="1.2" fill="#fff" stroke="#333" stroke-width="0.8"/>
<line x1="364.15" y1="636.0999999999999" x2="364.15" y2="638.3" stroke="#333" stroke-width="0.9"/>
<line x1="361.34999999999997" y1="636.0999999999999" x2="366.95" y2="636.0999999999999" stroke="#333" stroke-width="0.9"/>
<rect x="408.8" y="637.0999999999999" width="13.699999999999989" height="1.2" fill="#fff" stroke="#333" stroke-width="0.8"/>
<line x1="415.65" y1="633.6999999999999" x2="415.65" y2="638.3" stroke="#333" stroke-width="0.9"/>
<line x1="412.84999999999997" y1="633.6999999999999" x2="418.45" y2="633.6999999999999" stroke="#333" stroke-width="0.9"/>
<rect x="457.5" y="637.0999999999999" width="15.0" height="1.2" fill="#fff" stroke="#333" stroke-width="0.8"/>
<line x1="465.0" y1="633.6999999999999" x2="465.0" y2="638.3" stroke="#333" stroke-width="0.9"/>
<line x1="462.2" y1="633.6999999999999" x2="467.8" y2="633.6999999999999" stroke="#333" stroke-width="0.9"/>
<path d="M339.5,541.3 L339.5,536 L365,536 L365,541.3" fill="none" stroke="#000" stroke-width="1"/>
<text x="352.25" y="535.105" font-family="Liberation Sans" font-size="8.5" font-weight="normal" text-anchor="middle" fill="#444" textLength="9.2" lengthAdjust="spacingAndGlyphs">***</text>
<path d="M395.5,541.3 L395.5,536 L420.5,536 L420.5,541.3" fill="none" stroke="#000" stroke-width="1"/>
<text x="408.0" y="535.105" font-family="Liberation Sans" font-size="8.5" font-weight="normal" text-anchor="middle" fill="#444" textLength="9.2" lengthAdjust="spacingAndGlyphs">***</text>
<path d="M447.5,541.3 L447.5,536 L472.5,536 L472.5,541.3" fill="none" stroke="#000" stroke-width="1"/>
<text x="460.0" y="535.105" font-family="Liberation Sans" font-size="8.5" font-weight="normal" text-anchor="middle" fill="#444" textLength="9.2" lengthAdjust="spacingAndGlyphs">***</text>
<line x1="353.8" y1="638.3" x2="353.8" y2="640.8" stroke="#000" stroke-width="1"/>
<line x1="407" y1="638.3" x2="407" y2="640.8" stroke="#000" stroke-width="1"/>
<line x1="458" y1="638.3" x2="458" y2="640.8" stroke="#000" stroke-width="1"/>
<text x="353.7" y="649.2" font-family="Liberation Sans" font-size="9.6" font-weight="bold" text-anchor="middle" fill="#000" textLength="27.5" lengthAdjust="spacingAndGlyphs">B cells</text>
<text x="419.3" y="649.2" font-family="Liberation Sans" font-size="9.6" font-weight="bold" text-anchor="middle" fill="#000" textLength="57.5" lengthAdjust="spacingAndGlyphs">Myeloid cells</text>
<text x="458" y="649.2" font-family="Liberation Sans" font-size="9.6" font-weight="bold" text-anchor="middle" fill="#000" textLength="26.8" lengthAdjust="spacingAndGlyphs">T cells</text>
<rect x="454.4" y="502" width="7.4" height="10.1" fill="#000" stroke="none" stroke-width="1"/>
<rect x="455" y="517.4" width="6.6" height="9.2" fill="#fff" stroke="#111" stroke-width="1.0"/>
<text x="465.4" y="510.8" font-family="Liberation Sans" font-size="10.8" font-weight="normal" text-anchor="start" fill="#000" textLength="35.8" lengthAdjust="spacingAndGlyphs">fl/fl:cre-</text>
<text x="465.4" y="525.6" font-family="Liberation Sans" font-size="10.8" font-weight="normal" text-anchor="start" fill="#000" textLength="38.2" lengthAdjust="spacingAndGlyphs">fl/fl:cre+</text>
<text x="50.2" y="753" font-family="Liberation Sans" font-size="12" font-weight="bold" text-anchor="middle" fill="#000" textLength="152" lengthAdjust="spacingAndGlyphs" transform="rotate(-90 50.2 753)">Donor derived LSK cells (%)</text>
<line x1="74.0" y1="706.0" x2="74.0" y2="805.5" stroke="#222" stroke-width="1.3"/>
<line x1="74.0" y1="804.9" x2="186.3" y2="804.9" stroke="#222" stroke-width="1.3"/>
<line x1="72.0" y1="804.9" x2="74.0" y2="804.9" stroke="#222" stroke-width="1.2"/>
<text x="71.1" y="808.5" font-family="Liberation Sans" font-size="9.9" font-weight="bold" text-anchor="end" fill="#000">0</text>
<line x1="72.0" y1="785.22" x2="74.0" y2="785.22" stroke="#222" stroke-width="1.2"/>
<text x="71.1" y="788.82" font-family="Liberation Sans" font-size="9.9" font-weight="bold" text-anchor="end" fill="#000">20</text>
<line x1="72.0" y1="765.54" x2="74.0" y2="765.54" stroke="#222" stroke-width="1.2"/>
<text x="71.1" y="769.14" font-family="Liberation Sans" font-size="9.9" font-weight="bold" text-anchor="end" fill="#000">40</text>
<line x1="72.0" y1="745.86" x2="74.0" y2="745.86" stroke="#222" stroke-width="1.2"/>
<text x="71.1" y="749.46" font-family="Liberation Sans" font-size="9.9" font-weight="bold" text-anchor="end" fill="#000">60</text>
<line x1="72.0" y1="726.18" x2="74.0" y2="726.18" stroke="#222" stroke-width="1.2"/>
<text x="71.1" y="729.78" font-family="Liberation Sans" font-size="9.9" font-weight="bold" text-anchor="end" fill="#000">80</text>
<line x1="72.0" y1="706.5" x2="74.0" y2="706.5" stroke="#222" stroke-width="1.2"/>
<text x="71.1" y="710.1" font-family="Liberation Sans" font-size="9.9" font-weight="bold" text-anchor="end" fill="#000">100</text>
<rect x="83.3" y="739.5" width="37.5" height="65.39999999999998" fill="#000" stroke="none" stroke-width="1"/>
<line x1="102.1" y1="716.3" x2="102.1" y2="739.5" stroke="#222" stroke-width="1.1"/>
<line x1="92.8" y1="716.3" x2="111.8" y2="716.3" stroke="#222" stroke-width="1.2"/>
<text x="158.9" y="799.635" font-family="Liberation Sans" font-size="9.5" font-weight="normal" text-anchor="middle" fill="#333" textLength="8.2" lengthAdjust="spacingAndGlyphs">**</text>
<line x1="102" y1="804.9" x2="102" y2="807.4" stroke="#000" stroke-width="1"/>
<line x1="157.8" y1="804.9" x2="157.8" y2="807.4" stroke="#000" stroke-width="1"/>
<text x="83.3" y="817.3" font-family="Liberation Sans" font-size="10.5" font-weight="bold" text-anchor="start" fill="#000" textLength="37.9" lengthAdjust="spacingAndGlyphs">fl/fl:cre-</text>
<text x="138.0" y="817.2" font-family="Liberation Sans" font-size="10.5" font-weight="bold" text-anchor="start" fill="#000" textLength="39.0" lengthAdjust="spacingAndGlyphs">fl/fl:cre+</text>
<rect x="166.3" y="700" width="8.7" height="11.3" fill="#000" stroke="none" stroke-width="1"/>
<rect x="166.8" y="716.6" width="8" height="9.5" fill="#fff" stroke="#000" stroke-width="0.9"/>
<text x="179.5" y="709.6" font-family="Liberation Sans" font-size="10.5" font-weight="bold" text-anchor="start" fill="#000" textLength="39.5" lengthAdjust="spacingAndGlyphs">fl/fl:cre-</text>
<text x="179.5" y="724.6" font-family="Liberation Sans" font-size="10.5" font-weight="bold" text-anchor="start" fill="#000" textLength="41.8" lengthAdjust="spacingAndGlyphs">fl/fl:cre+</text>
<text x="282.5" y="752.4" font-family="Liberation Sans" font-size="11.4" font-weight="bold" text-anchor="middle" fill="#000" textLength="126.5" lengthAdjust="spacingAndGlyphs" transform="rotate(-90 282.5 752.4)">Donor derived cells (%)</text>
<line x1="304.4" y1="704.6" x2="304.4" y2="805.6999999999999" stroke="#000" stroke-width="1.9"/>
<line x1="304.4" y1="804.8" x2="493.7" y2="804.8" stroke="#000" stroke-width="1.9"/>
<line x1="301.9" y1="804.8" x2="304.4" y2="804.8" stroke="#000" stroke-width="1.5"/>
<text x="301.5" y="808.0999999999999" font-family="Liberation Sans" font-size="9.3" font-weight="bold" text-anchor="end" fill="#000">0</text>
<line x1="301.9" y1="784.8399999999999" x2="304.4" y2="784.8399999999999" stroke="#000" stroke-width="1.5"/>
<text x="301.5" y="788.1399999999999" font-family="Liberation Sans" font-size="9.3" font-weight="bold" text-anchor="end" fill="#000">20</text>
<line x1="301.9" y1="764.88" x2="304.4" y2="764.88" stroke="#000" stroke-width="1.5"/>
<text x="301.5" y="768.18" font-family="Liberation Sans" font-size="9.3" font-weight="bold" text-anchor="end" fill="#000">40</text>
<line x1="301.9" y1="744.92" x2="304.4" y2="744.92" stroke="#000" stroke-width="1.5"/>
<text x="301.5" y="748.2199999999999" font-family="Liberation Sans" font-size="9.3" font-weight="bold" text-anchor="end" fill="#000">60</text>
<line x1="301.9" y1="724.96" x2="304.4" y2="724.96" stroke="#000" stroke-width="1.5"/>
<text x="301.5" y="728.26" font-family="Liberation Sans" font-size="9.3" font-weight="bold" text-anchor="end" fill="#000">80</text>
<line x1="301.9" y1="705.0" x2="304.4" y2="705.0" stroke="#000" stroke-width="1.5"/>
<text x="301.5" y="708.3" font-family="Liberation Sans" font-size="9.3" font-weight="bold" text-anchor="end" fill="#000">100</text>
<line x1="336.3" y1="773" x2="399.2" y2="763.3" stroke="#000" stroke-width="1.3"/>
<line x1="399.2" y1="763.3" x2="462.0" y2="759.3" stroke="#000" stroke-width="1.3"/>
<line x1="336.3" y1="753.8" x2="336.3" y2="791.3" stroke="#444" stroke-width="1"/>
<line x1="333.8" y1="753.8" x2="338.8" y2="753.8" stroke="#444" stroke-width="1"/>
<line x1="333.8" y1="791.3" x2="338.8" y2="791.3" stroke="#444" stroke-width="1"/>
<circle cx="336.3" cy="773" r="1.8" fill="#000" stroke="none" stroke-width="1"/>
<line x1="399.2" y1="745.8" x2="399.2" y2="780.5" stroke="#444" stroke-width="1"/>
<line x1="396.7" y1="745.8" x2="401.7" y2="745.8" stroke="#444" stroke-width="1"/>
<line x1="396.7" y1="780.5" x2="401.7" y2="780.5" stroke="#444" stroke-width="1"/>
<circle cx="399.2" cy="763.3" r="1.8" fill="#000" stroke="none" stroke-width="1"/>
<line x1="462.0" y1="746.9" x2="462.0" y2="772.4" stroke="#444" stroke-width="1"/>
<line x1="459.5" y1="746.9" x2="464.5" y2="746.9" stroke="#444" stroke-width="1"/>
<line x1="459.5" y1="772.4" x2="464.5" y2="772.4" stroke="#444" stroke-width="1"/>
<circle cx="462.0" cy="759.3" r="1.8" fill="#000" stroke="none" stroke-width="1"/>
<line x1="336.3" y1="804.8" x2="336.3" y2="807.3" stroke="#000" stroke-width="1"/>
<path d="M336.3,802.2339999999999 L337.8,804.8439999999999 L334.8,804.8439999999999 Z" fill="none" stroke="#888" stroke-width="0.7"/>
<line x1="399.2" y1="804.8" x2="399.2" y2="807.3" stroke="#000" stroke-width="1"/>
<path d="M399.2,802.2339999999999 L400.7,804.8439999999999 L397.7,804.8439999999999 Z" fill="none" stroke="#888" stroke-width="0.7"/>
<line x1="462.0" y1="804.8" x2="462.0" y2="807.3" stroke="#000" stroke-width="1"/>
<path d="M462.0,802.2339999999999 L463.5,804.8439999999999 L460.5,804.8439999999999 Z" fill="none" stroke="#888" stroke-width="0.7"/>
<text x="336.1" y="803.46" font-family="Liberation Sans" font-size="12" font-weight="normal" text-anchor="middle" fill="#444">*</text>
<text x="398.5" y="803.46" font-family="Liberation Sans" font-size="12" font-weight="normal" text-anchor="middle" fill="#444" textLength="8.9" lengthAdjust="spacingAndGlyphs">**</text>
<text x="461.8" y="803.46" font-family="Liberation Sans" font-size="12" font-weight="normal" text-anchor="middle" fill="#444" textLength="13.6" lengthAdjust="spacingAndGlyphs">***</text>
<text x="336.3" y="816.7" font-family="Liberation Sans" font-size="9.3" font-weight="bold" text-anchor="middle" fill="#000" textLength="33.5" lengthAdjust="spacingAndGlyphs">4 weeks</text>
<text x="398.5" y="816.7" font-family="Liberation Sans" font-size="9.3" font-weight="bold" text-anchor="middle" fill="#000" textLength="34.9" lengthAdjust="spacingAndGlyphs">8 weeks</text>
<text x="461.9" y="816.7" font-family="Liberation Sans" font-size="9.3" font-weight="bold" text-anchor="middle" fill="#000" textLength="81.2" lengthAdjust="spacingAndGlyphs">later than 16 weeks</text>
<line x1="440" y1="688.8" x2="448.5" y2="688.8" stroke="#000" stroke-width="1.3"/>
<circle cx="444.3" cy="688.8" r="1.7" fill="#000" stroke="none" stroke-width="1"/>
<line x1="440" y1="704.2" x2="448.5" y2="704.2" stroke="#888" stroke-width="1.1"/>
<path d="M441.8,702.6 L446.8,702.6 L444.3,706.2 Z" fill="#aaa" stroke="#777" stroke-width="0.8"/>
<path d="M441.8,705.4 L446.8,705.4 L444.3,701.8 Z" fill="none" stroke="#999" stroke-width="0.6"/>
<text x="453.8" y="692.3" font-family="Liberation Sans" font-size="10.3" font-weight="bold" text-anchor="start" fill="#000" textLength="35.4" lengthAdjust="spacingAndGlyphs">fl/fl:cre-</text>
<text x="453.8" y="707.8" font-family="Liberation Sans" font-size="10.3" font-weight="bold" text-anchor="start" fill="#000" textLength="37.7" lengthAdjust="spacingAndGlyphs">fl/fl:cre+</text>
</svg>
</body></html>
